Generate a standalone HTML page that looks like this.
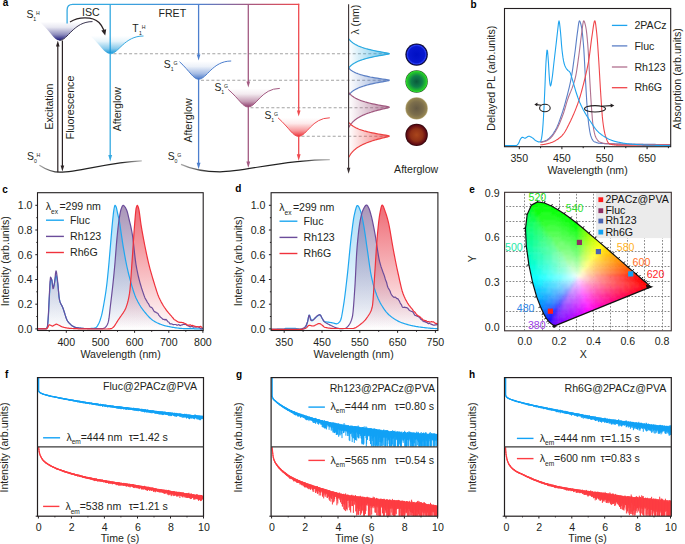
<!DOCTYPE html><html><head><meta charset="utf-8"><style>html,body{margin:0;padding:0;background:#fff;width:685px;height:544px;overflow:hidden}svg{display:block}</style></head><body><svg width="685" height="544" viewBox="0 0 685 544" font-family='"Liberation Sans", sans-serif'>
<rect width="685" height="544" fill="#fff"/>
<defs><linearGradient id="topg" x1="67" y1="0" x2="299" y2="0" gradientUnits="userSpaceOnUse"><stop offset="0" stop-color="#36a9e1"/><stop offset="0.19" stop-color="#36a9e1"/><stop offset="0.567" stop-color="#4f82d0"/><stop offset="0.78" stop-color="#a35a82"/><stop offset="1" stop-color="#ef4a4f"/></linearGradient><linearGradient id="wh1" x1="0" y1="21.6" x2="0" y2="40.4" gradientUnits="userSpaceOnUse"><stop offset="0" stop-color="#1a1878" stop-opacity="0"/><stop offset="0.3" stop-color="#1a1878" stop-opacity="0.1"/><stop offset="0.7" stop-color="#1a1878" stop-opacity="0.5"/><stop offset="1" stop-color="#1a1878" stop-opacity="1"/></linearGradient><linearGradient id="wt1" x1="0" y1="35.8" x2="0" y2="53.8" gradientUnits="userSpaceOnUse"><stop offset="0" stop-color="#1496d8" stop-opacity="0"/><stop offset="0.3" stop-color="#1496d8" stop-opacity="0.1"/><stop offset="0.7" stop-color="#1496d8" stop-opacity="0.5"/><stop offset="1" stop-color="#1496d8" stop-opacity="1"/></linearGradient><linearGradient id="wg1" x1="0" y1="61" x2="0" y2="79.2" gradientUnits="userSpaceOnUse"><stop offset="0" stop-color="#4a78c8" stop-opacity="0"/><stop offset="0.3" stop-color="#4a78c8" stop-opacity="0.1"/><stop offset="0.7" stop-color="#4a78c8" stop-opacity="0.5"/><stop offset="1" stop-color="#4a78c8" stop-opacity="1"/></linearGradient><linearGradient id="wg2" x1="0" y1="88.4" x2="0" y2="107" gradientUnits="userSpaceOnUse"><stop offset="0" stop-color="#8e3c6c" stop-opacity="0"/><stop offset="0.3" stop-color="#8e3c6c" stop-opacity="0.1"/><stop offset="0.7" stop-color="#8e3c6c" stop-opacity="0.5"/><stop offset="1" stop-color="#8e3c6c" stop-opacity="1"/></linearGradient><linearGradient id="wg3" x1="0" y1="117.8" x2="0" y2="136.4" gradientUnits="userSpaceOnUse"><stop offset="0" stop-color="#ee3238" stop-opacity="0"/><stop offset="0.3" stop-color="#ee3238" stop-opacity="0.1"/><stop offset="0.7" stop-color="#ee3238" stop-opacity="0.5"/><stop offset="1" stop-color="#ee3238" stop-opacity="1"/></linearGradient><linearGradient id="s0g" x1="0" y1="0" x2="1" y2="0"><stop offset="0" stop-color="#aaa"/><stop offset="0.2" stop-color="#222"/><stop offset="0.8" stop-color="#222"/><stop offset="1" stop-color="#bbb"/></linearGradient><linearGradient id="p1" x1="348.8" y1="0" x2="389.40000000000003" y2="0" gradientUnits="userSpaceOnUse"><stop offset="0" stop-color="#29a9e0" stop-opacity="0"/><stop offset="1" stop-color="#29a9e0" stop-opacity="0.75"/></linearGradient><linearGradient id="p2" x1="348.8" y1="0" x2="389.40000000000003" y2="0" gradientUnits="userSpaceOnUse"><stop offset="0" stop-color="#5b7fc4" stop-opacity="0"/><stop offset="1" stop-color="#5b7fc4" stop-opacity="0.75"/></linearGradient><linearGradient id="p3" x1="348.8" y1="0" x2="389.40000000000003" y2="0" gradientUnits="userSpaceOnUse"><stop offset="0" stop-color="#a0587f" stop-opacity="0"/><stop offset="1" stop-color="#a0587f" stop-opacity="0.75"/></linearGradient><linearGradient id="p4" x1="348.8" y1="0" x2="389.40000000000003" y2="0" gradientUnits="userSpaceOnUse"><stop offset="0" stop-color="#ed4040" stop-opacity="0"/><stop offset="1" stop-color="#ed4040" stop-opacity="0.75"/></linearGradient><radialGradient id="cb"><stop offset="0" stop-color="#0010c4"/><stop offset="0.72" stop-color="#0818d0"/><stop offset="0.84" stop-color="#2a40f2"/><stop offset="0.9" stop-color="#12127a"/><stop offset="1" stop-color="#020210"/></radialGradient><radialGradient id="cg"><stop offset="0" stop-color="#0a5a3c"/><stop offset="0.5" stop-color="#10804a"/><stop offset="0.84" stop-color="#22c42c"/><stop offset="0.92" stop-color="#2ed62e"/><stop offset="1" stop-color="#184a18"/></radialGradient><radialGradient id="co"><stop offset="0" stop-color="#655a44"/><stop offset="0.6" stop-color="#7c6e4c"/><stop offset="0.9" stop-color="#948452"/><stop offset="1" stop-color="#c0b284"/></radialGradient><radialGradient id="cr"><stop offset="0" stop-color="#aa461c"/><stop offset="0.55" stop-color="#903016"/><stop offset="0.85" stop-color="#620c14"/><stop offset="1" stop-color="#2a0408"/></radialGradient><linearGradient id="gcFL" x1="0" y1="205.3" x2="0" y2="328.9" gradientUnits="userSpaceOnUse"><stop offset="0" stop-color="#5cbcf0" stop-opacity="0.5"/><stop offset="1" stop-color="#5cbcf0" stop-opacity="0"/></linearGradient><linearGradient id="gcRH" x1="0" y1="205.3" x2="0" y2="328.9" gradientUnits="userSpaceOnUse"><stop offset="0" stop-color="#7a5c92" stop-opacity="0.65"/><stop offset="1" stop-color="#7a5c92" stop-opacity="0"/></linearGradient><linearGradient id="gcR6" x1="0" y1="205.3" x2="0" y2="328.9" gradientUnits="userSpaceOnUse"><stop offset="0" stop-color="#e8303e" stop-opacity="0.72"/><stop offset="1" stop-color="#e8303e" stop-opacity="0"/></linearGradient><linearGradient id="gdFL" x1="0" y1="205.3" x2="0" y2="328.9" gradientUnits="userSpaceOnUse"><stop offset="0" stop-color="#5cbcf0" stop-opacity="0.5"/><stop offset="1" stop-color="#5cbcf0" stop-opacity="0"/></linearGradient><linearGradient id="gdRH" x1="0" y1="205.3" x2="0" y2="328.9" gradientUnits="userSpaceOnUse"><stop offset="0" stop-color="#7a5c92" stop-opacity="0.65"/><stop offset="1" stop-color="#7a5c92" stop-opacity="0"/></linearGradient><linearGradient id="gdR6" x1="0" y1="205.3" x2="0" y2="328.9" gradientUnits="userSpaceOnUse"><stop offset="0" stop-color="#e8303e" stop-opacity="0.72"/><stop offset="1" stop-color="#e8303e" stop-opacity="0"/></linearGradient><clipPath id="locclip"><path d="M554.7 325.9 L554.7 325.9 L554.6 325.9 L554.5 325.9 L554.2 325.8 L554.1 325.7 L553.8 325.6 L553.5 325.3 L553 325 L552.5 324.5 L551.7 324 L550.7 323.2 L549.5 322.2 L548.1 320.6 L546.1 318 L543.6 313.6 L540.5 306.7 L536.6 296.6 L532.6 282.5 L528.9 264.9 L526.3 246.1 L525.5 228.6 L527.2 214.4 L531.5 205.1 L537.6 201.9 L544.4 203 L551.4 206 L557.9 209.7 L564.2 213.8 L570.4 218.2 L576.6 223 L582.7 228 L588.8 233.2 L594.9 238.4 L601 243.6 L607 248.8 L612.7 253.8 L618.3 258.6 L623.5 263.1 L628.2 267.3 L632.4 270.9 L636 274 L639 276.6 L641.5 278.8 L643.4 280.5 L645 281.8 L646.3 282.9 L648.2 284.6 L649.4 285.6 L650 286.2 L650.6 286.7 L650.9 286.9Z"/></clipPath><filter id="blur1" x="-5%" y="-5%" width="110%" height="110%"><feGaussianBlur stdDeviation="1.0"/></filter></defs>
<text x="2.8" y="6.3" font-size="10" text-anchor="start" fill="#000" font-weight="bold">a</text>
<line x1="113.5" y1="53.8" x2="388.5" y2="53.8" stroke="#a3a3a3" stroke-width="1.1" stroke-dasharray="3 2.2"/>
<line x1="201.0" y1="80.2" x2="388.5" y2="80.2" stroke="#a3a3a3" stroke-width="1.1" stroke-dasharray="3 2.2"/>
<line x1="250.5" y1="107.8" x2="388.5" y2="107.8" stroke="#a3a3a3" stroke-width="1.1" stroke-dasharray="3 2.2"/>
<line x1="301.5" y1="136.2" x2="388.5" y2="136.2" stroke="#a3a3a3" stroke-width="1.1" stroke-dasharray="3 2.2"/>
<path d="M67.1 23.6V10Q67.1 4.4 72.7 4.4H299.2" fill="none" stroke="url(#topg)" stroke-width="1.3"/>
<line x1="110.2" y1="4.4" x2="110.2" y2="156" stroke="#36a9e1" stroke-width="1.3"/>
<path d="M108.3 155L112.1 155L110.2 161.5Z" fill="#36a9e1"/>
<line x1="198.6" y1="4.4" x2="198.6" y2="55" stroke="#4d7fce" stroke-width="1.3"/>
<path d="M196.8 54.5L200.4 54.5L198.6 60.5Z" fill="#4d7fce"/>
<line x1="198.6" y1="78" x2="198.6" y2="164" stroke="#4d7fce" stroke-width="1.3"/>
<path d="M196.7 162.7L200.5 162.7L198.6 169.2Z" fill="#4d7fce"/>
<line x1="248.3" y1="4.4" x2="248.3" y2="82" stroke="#a35a82" stroke-width="1.3"/>
<path d="M246.5 81.5L250.1 81.5L248.3 87.5Z" fill="#a35a82"/>
<line x1="248.3" y1="106" x2="248.3" y2="162.5" stroke="#a35a82" stroke-width="1.3"/>
<path d="M246.4 161.4L250.2 161.4L248.3 167.9Z" fill="#a35a82"/>
<line x1="298.7" y1="3.8" x2="298.7" y2="111" stroke="#ef4a4f" stroke-width="1.3"/>
<path d="M296.9 110.4L300.5 110.4L298.7 116.4Z" fill="#ef4a4f"/>
<line x1="298.7" y1="135.5" x2="298.7" y2="155.5" stroke="#ef4a4f" stroke-width="1.3"/>
<path d="M296.8 154.3L300.6 154.3L298.7 160.8Z" fill="#ef4a4f"/>
<path d="M40.3 22.3 C50.9 32.3 54.1 40.4 59.5 40.4 C67.8 40.4 73.4 21.6 92.5 21.6Z" fill="url(#wh1)"/>
<path d="M59.5 40.4 C67.8 40.4 73.4 21.6 92.5 21.6" fill="none" stroke="#3a3550" stroke-width="1"/>
<path d="M90 35.8 C101.1 45.7 104.5 53.8 110.2 53.8 C118.5 53.8 124.2 36 143.5 36Z" fill="url(#wt1)"/>
<path d="M110.2 53.8 C118.5 53.8 124.2 36 143.5 36" fill="none" stroke="#36a9e1" stroke-width="1"/>
<path d="M179.5 61.7 C190 71.3 193.3 79.2 198.6 79.2 C206.8 79.2 212.3 61 231.2 61Z" fill="url(#wg1)"/>
<path d="M179.5 61.7 C190 71.3 193.3 79.2 198.6 79.2 C206.8 79.2 212.3 61 231.2 61" fill="none" stroke="#4d7fce" stroke-width="1"/>
<path d="M228.2 89.4 C239.3 99.1 242.7 107 248.3 107 C256.2 107 261.5 88.4 279.8 88.4Z" fill="url(#wg2)"/>
<path d="M228.2 89.4 C239.3 99.1 242.7 107 248.3 107 C256.2 107 261.5 88.4 279.8 88.4" fill="none" stroke="#a35a82" stroke-width="1"/>
<path d="M278 117.8 C289.4 128 292.9 136.4 298.7 136.4 C306.5 136.4 311.8 117.8 329.8 117.8Z" fill="url(#wg3)"/>
<path d="M278 117.8 C289.4 128 292.9 136.4 298.7 136.4 C306.5 136.4 311.8 117.8 329.8 117.8" fill="none" stroke="#ef4a4f" stroke-width="1"/>
<path d="M39.4 165.2 C46 169.5 52 172.2 60 172.2 C80 172.2 108 162 141.8 160.8" fill="none" stroke="url(#s0g)" stroke-width="1.2"/>
<path d="M181 164.4 C192 169.5 205 171.8 220 171.8 C245 171.8 280 160 329.8 159.6" fill="none" stroke="url(#s0g)" stroke-width="1.2"/>
<line x1="57.8" y1="172.3" x2="57.8" y2="46" stroke="#2b2224" stroke-width="1.2"/>
<path d="M56 46.6L59.6 46.6L57.8 40.6Z" fill="#2b2224"/>
<line x1="62.4" y1="40.6" x2="62.4" y2="166" stroke="#2b2224" stroke-width="1.2"/>
<path d="M60.6 165.6L64.2 165.6L62.4 171.6Z" fill="#2b2224"/>
<path d="M70 22 C78 17 92 16 99 22.5 C101.5 25 103 28 103.8 30" fill="none" stroke="#2b2224" stroke-width="1.3"/>
<path d="M101.3 30.6 L106.2 29.2 L105.2 35.6 Z" fill="#2b2224"/>
<text x="26.4" y="18.4" font-size="10.4" text-anchor="start" fill="#231f20">S</text>
<text x="33.3" y="21.2" font-size="5.2" text-anchor="start" fill="#231f20">1</text>
<text x="36" y="15.1" font-size="5.2" text-anchor="start" fill="#231f20">H</text>
<text x="132.2" y="31.9" font-size="10.4" text-anchor="start" fill="#231f20">T</text>
<text x="139.1" y="34.7" font-size="5.2" text-anchor="start" fill="#231f20">1</text>
<text x="141.8" y="28.6" font-size="5.2" text-anchor="start" fill="#231f20">H</text>
<text x="163.8" y="68.3" font-size="10.4" text-anchor="start" fill="#231f20">S</text>
<text x="170.7" y="71.1" font-size="5.2" text-anchor="start" fill="#231f20">1</text>
<text x="173.4" y="65" font-size="5.2" text-anchor="start" fill="#231f20">G</text>
<text x="214.4" y="91" font-size="10.4" text-anchor="start" fill="#231f20">S</text>
<text x="221.3" y="93.8" font-size="5.2" text-anchor="start" fill="#231f20">1</text>
<text x="224" y="87.7" font-size="5.2" text-anchor="start" fill="#231f20">G</text>
<text x="264.4" y="119" font-size="10.4" text-anchor="start" fill="#231f20">S</text>
<text x="271.3" y="121.8" font-size="5.2" text-anchor="start" fill="#231f20">1</text>
<text x="274" y="115.7" font-size="5.2" text-anchor="start" fill="#231f20">G</text>
<text x="27" y="160.3" font-size="10.4" text-anchor="start" fill="#231f20">S</text>
<text x="33.9" y="163.1" font-size="5.2" text-anchor="start" fill="#231f20">0</text>
<text x="36.6" y="157" font-size="5.2" text-anchor="start" fill="#231f20">H</text>
<text x="167.7" y="159.8" font-size="10.4" text-anchor="start" fill="#231f20">S</text>
<text x="174.6" y="162.6" font-size="5.2" text-anchor="start" fill="#231f20">0</text>
<text x="177.3" y="156.5" font-size="5.2" text-anchor="start" fill="#231f20">G</text>
<text x="82" y="16.2" font-size="10.6" text-anchor="start" fill="#231f20">ISC</text>
<text x="158.5" y="16.6" font-size="10.6" text-anchor="start" fill="#231f20">FRET</text>
<text x="53" y="106.6" font-size="10.6" text-anchor="middle" fill="#231f20" transform="rotate(-90 53 106.6)">Excitation</text>
<text x="73.8" y="107.5" font-size="10.6" text-anchor="middle" fill="#231f20" transform="rotate(-90 73.8 107.5)">Fluorescence</text>
<text x="121" y="109.2" font-size="10.6" text-anchor="middle" fill="#231f20" transform="rotate(-90 121 109.2)">Afterglow</text>
<text x="192" y="120.5" font-size="10.6" text-anchor="middle" fill="#231f20" transform="rotate(-90 192 120.5)">Afterglow</text>
<text x="359.5" y="19.6" font-size="10.6" text-anchor="middle" fill="#231f20" transform="rotate(-90 359.5 19.6)">λ (nm)</text>
<text x="416.2" y="173.4" font-size="10.6" text-anchor="middle" fill="#231f20">Afterglow</text>
<path d="M348.8 38.9 L349.1 39.3 L349.4 39.7 L349.8 40.1 L350.1 40.5 L350.5 40.9 L350.9 41.3 L351.4 41.7 L351.9 42.1 L352.4 42.5 L352.9 42.9 L353.5 43.3 L354.1 43.7 L354.7 44.1 L355.4 44.5 L356.2 44.9 L357 45.3 L357.8 45.7 L358.7 46.1 L359.7 46.5 L360.7 46.9 L361.8 47.3 L363 47.7 L364.2 48.1 L365.5 48.5 L367 48.9 L368.5 49.3 L370.1 49.7 L371.8 50.1 L373.6 50.5 L375.5 50.9 L377.5 51.3 L379.7 51.7 L381.9 52.1 L384.3 52.5 L386.5 52.9 L388.5 53.3 L389.4 53.7 L388.5 54.1 L386.4 54.5 L384.1 54.9 L381.7 55.3 L379.3 55.7 L377.1 56.1 L375 56.5 L373.1 56.9 L371.2 57.3 L369.5 57.7 L367.8 58.1 L366.3 58.5 L364.9 58.9 L363.5 59.3 L362.3 59.7 L361.1 60.1 L360 60.5 L359 60.9 L358 61.3 L357.1 61.7 L356.3 62.1 L355.5 62.5 L354.8 62.9 L354.1 63.3 L353.5 63.7 L352.9 64.1 L352.3 64.5 L351.8 64.9 L351.3 65.3 L350.8 65.7 L350.4 66.1 L350 66.5 L349.6 66.9 L349.3 67.3 L349 67.7Z" fill="url(#p1)"/>
<polyline points="348.8,38.9 349.1,39.3 349.4,39.7 349.8,40.1 350.1,40.5 350.5,40.9 350.9,41.3 351.4,41.7 351.9,42.1 352.4,42.5 352.9,42.9 353.5,43.3 354.1,43.7 354.7,44.1 355.4,44.5 356.2,44.9 357,45.3 357.8,45.7 358.7,46.1 359.7,46.5 360.7,46.9 361.8,47.3 363,47.7 364.2,48.1 365.5,48.5 367,48.9 368.5,49.3 370.1,49.7 371.8,50.1 373.6,50.5 375.5,50.9 377.5,51.3 379.7,51.7 381.9,52.1 384.3,52.5 386.5,52.9 388.5,53.3 389.4,53.7 388.5,54.1 386.4,54.5 384.1,54.9 381.7,55.3 379.3,55.7 377.1,56.1 375,56.5 373.1,56.9 371.2,57.3 369.5,57.7 367.8,58.1 366.3,58.5 364.9,58.9 363.5,59.3 362.3,59.7 361.1,60.1 360,60.5 359,60.9 358,61.3 357.1,61.7 356.3,62.1 355.5,62.5 354.8,62.9 354.1,63.3 353.5,63.7 352.9,64.1 352.3,64.5 351.8,64.9 351.3,65.3 350.8,65.7 350.4,66.1 350,66.5 349.6,66.9 349.3,67.3 349,67.7" fill="none" stroke="#29a9e0" stroke-width="1.2" stroke-linejoin="round"/>
<path d="M348.8 68.2 L349.2 68.6 L349.6 69 L350 69.4 L350.5 69.8 L351 70.2 L351.6 70.6 L352.2 71 L352.9 71.4 L353.6 71.8 L354.4 72.2 L355.2 72.6 L356.1 73 L357.1 73.4 L358.1 73.8 L359.3 74.2 L360.5 74.6 L361.9 75 L363.3 75.4 L364.9 75.8 L366.6 76.2 L368.4 76.6 L370.3 77 L372.5 77.4 L374.7 77.8 L377.2 78.2 L379.8 78.6 L382.5 79 L385.3 79.4 L387.8 79.8 L389.3 80.2 L388.9 80.6 L387.1 81 L384.8 81.4 L382.5 81.8 L380.2 82.2 L378 82.6 L375.9 83 L374 83.4 L372.1 83.8 L370.4 84.2 L368.8 84.6 L367.2 85 L365.8 85.4 L364.4 85.8 L363.2 86.2 L362 86.6 L360.9 87 L359.8 87.4 L358.8 87.8 L357.9 88.2 L357.1 88.6 L356.3 89 L355.5 89.4 L354.8 89.8 L354.1 90.2 L353.5 90.6 L352.9 91 L352.4 91.4 L351.9 91.8 L351.4 92.2 L351 92.6 L350.5 93 L350.1 93.4 L349.8 93.8 L349.4 94.2 L349.1 94.6 L348.8 95Z" fill="url(#p2)"/>
<polyline points="348.8,68.2 349.2,68.6 349.6,69 350,69.4 350.5,69.8 351,70.2 351.6,70.6 352.2,71 352.9,71.4 353.6,71.8 354.4,72.2 355.2,72.6 356.1,73 357.1,73.4 358.1,73.8 359.3,74.2 360.5,74.6 361.9,75 363.3,75.4 364.9,75.8 366.6,76.2 368.4,76.6 370.3,77 372.5,77.4 374.7,77.8 377.2,78.2 379.8,78.6 382.5,79 385.3,79.4 387.8,79.8 389.3,80.2 388.9,80.6 387.1,81 384.8,81.4 382.5,81.8 380.2,82.2 378,82.6 375.9,83 374,83.4 372.1,83.8 370.4,84.2 368.8,84.6 367.2,85 365.8,85.4 364.4,85.8 363.2,86.2 362,86.6 360.9,87 359.8,87.4 358.8,87.8 357.9,88.2 357.1,88.6 356.3,89 355.5,89.4 354.8,89.8 354.1,90.2 353.5,90.6 352.9,91 352.4,91.4 351.9,91.8 351.4,92.2 351,92.6 350.5,93 350.1,93.4 349.8,93.8 349.4,94.2 349.1,94.6 348.8,95" fill="none" stroke="#5b7fc4" stroke-width="1.2" stroke-linejoin="round"/>
<path d="M348.8 92.6 L349.1 93 L349.4 93.4 L349.8 93.8 L350.2 94.2 L350.5 94.6 L351 95 L351.4 95.4 L351.9 95.8 L352.4 96.2 L353 96.6 L353.6 97 L354.2 97.4 L354.9 97.8 L355.6 98.2 L356.4 98.6 L357.2 99 L358 99.4 L359 99.8 L360 100.2 L361 100.6 L362.2 101 L363.4 101.4 L364.7 101.8 L366 102.2 L367.5 102.6 L369.1 103 L370.7 103.4 L372.5 103.8 L374.4 104.2 L376.4 104.6 L378.5 105 L380.7 105.4 L383 105.8 L385.4 106.2 L387.6 106.6 L389.2 107 L389.2 107.4 L388.1 107.8 L386.5 108.2 L384.7 108.6 L382.9 109 L381.2 109.4 L379.6 109.8 L378 110.2 L376.4 110.6 L375 111 L373.6 111.4 L372.2 111.8 L371 112.2 L369.7 112.6 L368.6 113 L367.4 113.4 L366.4 113.8 L365.4 114.2 L364.4 114.6 L363.5 115 L362.6 115.4 L361.8 115.8 L361 116.2 L360.2 116.6 L359.5 117 L358.8 117.4 L358.1 117.8 L357.5 118.2 L356.9 118.6 L356.3 119 L355.7 119.4 L355.2 119.8 L354.7 120.2 L354.2 120.6 L353.8 121 L353.3 121.4 L352.9 121.8 L352.5 122.2 L352.2 122.6 L351.8 123 L351.5 123.4 L351.1 123.8 L350.8 124.2 L350.5 124.6 L350.2 125 L350 125.4 L349.7 125.8 L349.5 126.2 L349.2 126.6 L349 127 L348.8 127.4Z" fill="url(#p3)"/>
<polyline points="348.8,92.6 349.1,93 349.4,93.4 349.8,93.8 350.2,94.2 350.5,94.6 351,95 351.4,95.4 351.9,95.8 352.4,96.2 353,96.6 353.6,97 354.2,97.4 354.9,97.8 355.6,98.2 356.4,98.6 357.2,99 358,99.4 359,99.8 360,100.2 361,100.6 362.2,101 363.4,101.4 364.7,101.8 366,102.2 367.5,102.6 369.1,103 370.7,103.4 372.5,103.8 374.4,104.2 376.4,104.6 378.5,105 380.7,105.4 383,105.8 385.4,106.2 387.6,106.6 389.2,107 389.2,107.4 388.1,107.8 386.5,108.2 384.7,108.6 382.9,109 381.2,109.4 379.6,109.8 378,110.2 376.4,110.6 375,111 373.6,111.4 372.2,111.8 371,112.2 369.7,112.6 368.6,113 367.4,113.4 366.4,113.8 365.4,114.2 364.4,114.6 363.5,115 362.6,115.4 361.8,115.8 361,116.2 360.2,116.6 359.5,117 358.8,117.4 358.1,117.8 357.5,118.2 356.9,118.6 356.3,119 355.7,119.4 355.2,119.8 354.7,120.2 354.2,120.6 353.8,121 353.3,121.4 352.9,121.8 352.5,122.2 352.2,122.6 351.8,123 351.5,123.4 351.1,123.8 350.8,124.2 350.5,124.6 350.2,125 350,125.4 349.7,125.8 349.5,126.2 349.2,126.6 349,127 348.8,127.4" fill="none" stroke="#a0587f" stroke-width="1.2" stroke-linejoin="round"/>
<path d="M348.8 122.4 L349.1 122.8 L349.5 123.2 L349.9 123.6 L350.3 124 L350.7 124.4 L351.2 124.8 L351.7 125.2 L352.2 125.6 L352.8 126 L353.4 126.4 L354.1 126.8 L354.8 127.2 L355.5 127.6 L356.3 128 L357.2 128.4 L358.1 128.8 L359.1 129.2 L360.2 129.6 L361.4 130 L362.6 130.4 L363.9 130.8 L365.4 131.2 L366.9 131.6 L368.5 132 L370.2 132.4 L372.1 132.8 L374.1 133.2 L376.2 133.6 L378.4 134 L380.8 134.4 L383.2 134.8 L385.7 135.2 L388 135.6 L389.3 136 L389 136.4 L387.8 136.8 L386.2 137.2 L384.5 137.6 L382.8 138 L381.1 138.4 L379.6 138.8 L378 139.2 L376.6 139.6 L375.1 140 L373.8 140.4 L372.5 140.8 L371.3 141.2 L370.1 141.6 L368.9 142 L367.9 142.4 L366.8 142.8 L365.8 143.2 L364.9 143.6 L364 144 L363.1 144.4 L362.3 144.8 L361.5 145.2 L360.7 145.6 L360 146 L359.3 146.4 L358.7 146.8 L358 147.2 L357.4 147.6 L356.8 148 L356.3 148.4 L355.8 148.8 L355.3 149.2 L354.8 149.6 L354.3 150 L353.9 150.4 L353.5 150.8 L353.1 151.2 L352.7 151.6 L352.3 152 L352 152.4 L351.6 152.8 L351.3 153.2 L351 153.6 L350.7 154 L350.4 154.4 L350.2 154.8 L349.9 155.2 L349.7 155.6 L349.4 156 L349.2 156.4 L349 156.8 L348.8 157.2Z" fill="url(#p4)"/>
<polyline points="348.8,122.4 349.1,122.8 349.5,123.2 349.9,123.6 350.3,124 350.7,124.4 351.2,124.8 351.7,125.2 352.2,125.6 352.8,126 353.4,126.4 354.1,126.8 354.8,127.2 355.5,127.6 356.3,128 357.2,128.4 358.1,128.8 359.1,129.2 360.2,129.6 361.4,130 362.6,130.4 363.9,130.8 365.4,131.2 366.9,131.6 368.5,132 370.2,132.4 372.1,132.8 374.1,133.2 376.2,133.6 378.4,134 380.8,134.4 383.2,134.8 385.7,135.2 388,135.6 389.3,136 389,136.4 387.8,136.8 386.2,137.2 384.5,137.6 382.8,138 381.1,138.4 379.6,138.8 378,139.2 376.6,139.6 375.1,140 373.8,140.4 372.5,140.8 371.3,141.2 370.1,141.6 368.9,142 367.9,142.4 366.8,142.8 365.8,143.2 364.9,143.6 364,144 363.1,144.4 362.3,144.8 361.5,145.2 360.7,145.6 360,146 359.3,146.4 358.7,146.8 358,147.2 357.4,147.6 356.8,148 356.3,148.4 355.8,148.8 355.3,149.2 354.8,149.6 354.3,150 353.9,150.4 353.5,150.8 353.1,151.2 352.7,151.6 352.3,152 352,152.4 351.6,152.8 351.3,153.2 351,153.6 350.7,154 350.4,154.4 350.2,154.8 349.9,155.2 349.7,155.6 349.4,156 349.2,156.4 349,156.8 348.8,157.2" fill="none" stroke="#ed4040" stroke-width="1.2" stroke-linejoin="round"/>
<line x1="348.6" y1="4.2" x2="348.6" y2="168" stroke="#3a3032" stroke-width="1.1"/>
<path d="M346.8 167.8L350.4 167.8L348.6 173.8Z" fill="#3a3032"/>
<circle cx="416.6" cy="54.6" r="11.2" fill="url(#cb)"/>
<circle cx="416.6" cy="81.5" r="11.2" fill="url(#cg)"/>
<circle cx="416.6" cy="108.4" r="11.2" fill="url(#co)"/>
<circle cx="416.6" cy="134.9" r="11.2" fill="url(#cr)"/>
<text x="470.5" y="8.3" font-size="10" text-anchor="start" fill="#000" font-weight="bold">b</text>
<polyline points="540.3,142 540.8,142 541.3,141.9 541.8,141.9 542.3,141.8 542.8,141.6 543.3,141.5 543.8,141.3 544.3,141.2 544.8,141 545.3,140.8 545.8,140.6 546.3,140.4 546.8,140.1 547.3,139.8 547.8,139.4 548.3,139 548.8,138.6 549.3,138.2 549.8,137.7 550.3,137.2 550.8,136.7 551.3,136.1 551.8,135.5 552.3,134.9 552.8,134.2 553.3,133.5 553.8,132.7 554.3,131.9 554.8,131.1 555.3,130.2 555.8,129.4 556.3,128.4 556.8,127.4 557.3,126.3 557.8,125.1 558.3,123.9 558.8,122.6 559.3,121.3 559.8,119.9 560.3,118.5 560.8,117 561.3,115.6 561.8,114.1 562.3,112.6 562.8,111.1 563.3,109.5 563.8,107.8 564.3,106.1 564.8,104.4 565.3,102.6 565.8,100.7 566.3,98.9 566.8,97 567.3,95.1 567.8,93.2 568.3,91.2 568.8,89.2 569.3,87.1 569.8,84.9 570.3,82.6 570.8,80.1 571.3,77.5 571.8,74.7 572.3,71.6 572.8,68.3 573.3,64.7 573.8,61 574.3,57.3 574.8,53.5 575.3,49.7 575.8,45.6 576.3,41.4 576.8,37.2 577.3,33.4 577.8,29.8 578.3,25.9 578.8,22.6 579.3,20.9 579.8,21.1 580.3,22.3 580.8,24 581.3,26.1 581.8,28.6 582.3,32.3 582.8,37.1 583.3,42.7 583.8,49.1 584.3,57.5 584.8,67 585.3,76.5 585.8,85.2 586.3,94 586.8,102.2 587.3,109 587.8,115.2 588.3,120.7 588.8,125 589.3,128.4 589.8,131.5 590.3,134 590.8,135.9 591.3,137.3 591.8,138.4 592.3,139.4 592.8,140.2 593.3,140.9 593.8,141.4 594.3,141.7 594.8,141.9 595.3,142.1 595.8,142.3 596.3,142.5 596.8,142.7 597.3,142.8 597.8,143 598.3,143.1 598.8,143.2 599.3,143.2 599.8,143.3 600.3,143.3 600.8,143.4 601.3,143.4 601.8,143.4 602.3,143.4 602.8,143.5 603.3,143.5 603.8,143.5 604.3,143.6 604.8,143.6 605.3,143.6 605.8,143.6 606.3,143.7 606.8,143.7 607.3,143.7 607.8,143.7 608.3,143.7 608.8,143.8 609.3,143.8 609.8,143.8 610.3,143.8 610.8,143.8 611.3,143.8 611.8,143.9 612.3,143.9 612.8,143.9 613.3,143.9 613.8,143.9 614.3,143.9 614.8,143.9 615.3,144 615.8,144 616.3,144 616.8,144 617.3,144 617.8,144 618.3,144 618.8,144 619.3,144 619.8,144.1 620.3,144.1 620.8,144.1 621.3,144.1 621.8,144.1 622.3,144.1 622.8,144.1 623.3,144.1 623.8,144.1 624.3,144.1 624.8,144.1 625.3,144.1 625.8,144.1 626.3,144.2 626.8,144.2 627.3,144.2 627.8,144.2 628.3,144.2 628.8,144.2 629.3,144.2 629.8,144.2 630.3,144.2 630.8,144.2 631.3,144.2 631.8,144.2 632.3,144.2 632.8,144.2 633.3,144.2 633.8,144.2 634.3,144.3 634.8,144.3 635.3,144.3 635.8,144.3 636.3,144.3 636.8,144.3 637.3,144.3 637.8,144.3 638.3,144.3 638.8,144.3 639.3,144.3 639.8,144.3 640.3,144.3 640.8,144.3 641.3,144.3 641.8,144.3 642.3,144.3 642.8,144.3 643.3,144.3 643.8,144.4 644.3,144.4 644.8,144.4 645.3,144.4 645.8,144.4 646.3,144.4 646.8,144.4 647.3,144.4 647.8,144.4 648.3,144.4 648.8,144.4 649.3,144.4 649.8,144.4 650.3,144.4 650.8,144.4 651.3,144.4 651.8,144.4 652.3,144.4 652.8,144.4 653.3,144.4 653.8,144.4 654.3,144.4 654.8,144.4 655.3,144.4 655.8,144.5 656.3,144.5 656.8,144.5 657.3,144.5 657.8,144.5 658.3,144.5 658.8,144.5 659.3,144.5 659.8,144.5 660.3,144.5 660.8,144.5 661.3,144.5 661.8,144.5 662.3,144.5 662.8,144.5 663.3,144.5 663.8,144.5 664.3,144.5 664.8,144.5 665.3,144.5 665.8,144.5 666.3,144.5 666.8,144.5 667.3,144.5 667.8,144.5 668.3,144.5 668.8,144.5 669.3,144.5 669.8,144.5 670.3,144.5" fill="none" stroke="#5b7fc6" stroke-width="1.1" stroke-linejoin="round"/>
<polyline points="540.3,142.2 540.8,142.2 541.3,142.1 541.8,142.1 542.3,142 542.8,141.9 543.3,141.8 543.8,141.7 544.3,141.5 544.8,141.4 545.3,141.2 545.8,141.1 546.3,140.9 546.8,140.7 547.3,140.4 547.8,140.1 548.3,139.8 548.8,139.4 549.3,139.1 549.8,138.7 550.3,138.2 550.8,137.8 551.3,137.2 551.8,136.7 552.3,136.1 552.8,135.4 553.3,134.7 553.8,134 554.3,133.2 554.8,132.5 555.3,131.7 555.8,130.8 556.3,130 556.8,129.1 557.3,128.2 557.8,127.2 558.3,126.1 558.8,125 559.3,123.9 559.8,122.8 560.3,121.6 560.8,120.3 561.3,119.1 561.8,117.8 562.3,116.5 562.8,115.1 563.3,113.8 563.8,112.3 564.3,110.7 564.8,109 565.3,107.3 565.8,105.6 566.3,103.9 566.8,102.2 567.3,100.6 567.8,99.1 568.3,97.7 568.8,96.3 569.3,95 569.8,93.8 570.3,92.6 570.8,91.4 571.3,90.1 571.8,88.9 572.3,87.6 572.8,86.2 573.3,84.8 573.8,83.2 574.3,81.6 574.8,79.8 575.3,77.8 575.8,75.6 576.3,73 576.8,70 577.3,66.7 577.8,63.1 578.3,59.4 578.8,55.7 579.3,52 579.8,48.1 580.3,44 580.8,39.7 581.3,35.7 581.8,32 582.3,28.3 582.8,24.4 583.3,21.6 583.8,20.8 584.3,21.5 584.8,22.9 585.3,24.8 585.8,27 586.3,30 586.8,34.1 587.3,39.3 587.8,45 588.3,52.2 588.8,61.2 589.3,70.8 589.8,80 590.3,88.7 590.8,97.3 591.3,105 591.8,111.9 592.3,118.3 592.8,123.5 593.3,127 593.8,129.9 594.3,132.4 594.8,134.4 595.3,136 595.8,137.2 596.3,138.2 596.8,139 597.3,139.8 597.8,140.5 598.3,141 598.8,141.4 599.3,141.7 599.8,141.9 600.3,142.2 600.8,142.4 601.3,142.6 601.8,142.8 602.3,143 602.8,143.1 603.3,143.2 603.8,143.3 604.3,143.4 604.8,143.5 605.3,143.5 605.8,143.6 606.3,143.6 606.8,143.6 607.3,143.6 607.8,143.7 608.3,143.7 608.8,143.7 609.3,143.8 609.8,143.8 610.3,143.8 610.8,143.8 611.3,143.9 611.8,143.9 612.3,143.9 612.8,143.9 613.3,143.9 613.8,144 614.3,144 614.8,144 615.3,144 615.8,144 616.3,144 616.8,144.1 617.3,144.1 617.8,144.1 618.3,144.1 618.8,144.1 619.3,144.1 619.8,144.1 620.3,144.1 620.8,144.2 621.3,144.2 621.8,144.2 622.3,144.2 622.8,144.2 623.3,144.2 623.8,144.2 624.3,144.2 624.8,144.2 625.3,144.2 625.8,144.2 626.3,144.3 626.8,144.3 627.3,144.3 627.8,144.3 628.3,144.3 628.8,144.3 629.3,144.3 629.8,144.3 630.3,144.3 630.8,144.3 631.3,144.3 631.8,144.3 632.3,144.3 632.8,144.3 633.3,144.3 633.8,144.3 634.3,144.4 634.8,144.4 635.3,144.4 635.8,144.4 636.3,144.4 636.8,144.4 637.3,144.4 637.8,144.4 638.3,144.4 638.8,144.4 639.3,144.4 639.8,144.4 640.3,144.4 640.8,144.4 641.3,144.4 641.8,144.4 642.3,144.4 642.8,144.4 643.3,144.5 643.8,144.5 644.3,144.5 644.8,144.5 645.3,144.5 645.8,144.5 646.3,144.5 646.8,144.5 647.3,144.5 647.8,144.5 648.3,144.5 648.8,144.5 649.3,144.5 649.8,144.5 650.3,144.5 650.8,144.5 651.3,144.5 651.8,144.5 652.3,144.5 652.8,144.5 653.3,144.5 653.8,144.5 654.3,144.5 654.8,144.5 655.3,144.5 655.8,144.6 656.3,144.6 656.8,144.6 657.3,144.6 657.8,144.6 658.3,144.6 658.8,144.6 659.3,144.6 659.8,144.6 660.3,144.6 660.8,144.6 661.3,144.6 661.8,144.6 662.3,144.6 662.8,144.6 663.3,144.6 663.8,144.6 664.3,144.6 664.8,144.6 665.3,144.6 665.8,144.6 666.3,144.6 666.8,144.6 667.3,144.6 667.8,144.6 668.3,144.6 668.8,144.6 669.3,144.6 669.8,144.6 670.3,144.6" fill="none" stroke="#b0708e" stroke-width="1.1" stroke-linejoin="round"/>
<polyline points="540.3,144.8 540.8,144.8 541.3,144.8 541.8,144.7 542.3,144.7 542.8,144.6 543.3,144.5 543.8,144.5 544.3,144.4 544.8,144.3 545.3,144.2 545.8,144.1 546.3,144 546.8,143.8 547.3,143.7 547.8,143.6 548.3,143.5 548.8,143.3 549.3,143.2 549.8,143.1 550.3,142.9 550.8,142.8 551.3,142.6 551.8,142.4 552.3,142.2 552.8,142 553.3,141.7 553.8,141.5 554.3,141.2 554.8,141 555.3,140.7 555.8,140.4 556.3,140.1 556.8,139.8 557.3,139.5 557.8,139.2 558.3,138.8 558.8,138.4 559.3,138 559.8,137.6 560.3,137.2 560.8,136.8 561.3,136.3 561.8,135.8 562.3,135.3 562.8,134.7 563.3,134.1 563.8,133.5 564.3,132.8 564.8,132 565.3,131.2 565.8,130.3 566.3,129.4 566.8,128.5 567.3,127.5 567.8,126.5 568.3,125.5 568.8,124.5 569.3,123.4 569.8,122.4 570.3,121.4 570.8,120.4 571.3,119.3 571.8,118.2 572.3,117.2 572.8,116.1 573.3,114.9 573.8,113.8 574.3,112.6 574.8,111.4 575.3,110.2 575.8,108.9 576.3,107.6 576.8,106.3 577.3,105 577.8,103.6 578.3,102.1 578.8,100.6 579.3,99.1 579.8,97.5 580.3,95.8 580.8,94.1 581.3,92.3 581.8,90.5 582.3,88.6 582.8,86.7 583.3,84.8 583.8,82.8 584.3,80.8 584.8,78.8 585.3,76.8 585.8,74.7 586.3,72.5 586.8,70.3 587.3,67.9 587.8,65.4 588.3,62.8 588.8,60 589.3,56.8 589.8,53 590.3,49 590.8,44.9 591.3,40.9 591.8,37.3 592.3,34 592.8,30.4 593.3,26.9 593.8,23.8 594.3,21.6 594.8,20.8 595.3,22 595.8,25.2 596.3,29.4 596.8,34 597.3,39.4 597.8,46.3 598.3,53.9 598.8,61.5 599.3,69.7 599.8,78.5 600.3,87.1 600.8,95 601.3,102.5 601.8,109.9 602.3,116.4 602.8,121.3 603.3,125 603.8,128.3 604.3,131.1 604.8,133.4 605.3,135.4 605.8,136.9 606.3,138.3 606.8,139.7 607.3,140.9 607.8,142 608.3,142.9 608.8,143.5 609.3,143.9 609.8,144.1 610.3,144.2 610.8,144.3 611.3,144.4 611.8,144.5 612.3,144.6 612.8,144.7 613.3,144.7 613.8,144.8 614.3,144.9 614.8,144.9 615.3,145 615.8,145 616.3,145.1 616.8,145.1 617.3,145.1 617.8,145.1 618.3,145.2 618.8,145.2 619.3,145.2 619.8,145.2 620.3,145.2 620.8,145.2 621.3,145.2 621.8,145.2 622.3,145.2 622.8,145.2 623.3,145.2 623.8,145.2 624.3,145.2 624.8,145.2 625.3,145.2 625.8,145.3 626.3,145.3 626.8,145.3 627.3,145.3 627.8,145.3 628.3,145.3 628.8,145.3 629.3,145.3 629.8,145.3 630.3,145.3 630.8,145.3 631.3,145.3 631.8,145.3 632.3,145.3 632.8,145.3 633.3,145.3 633.8,145.3 634.3,145.3 634.8,145.3 635.3,145.3 635.8,145.3 636.3,145.3 636.8,145.3 637.3,145.3 637.8,145.3 638.3,145.3 638.8,145.3 639.3,145.3 639.8,145.3 640.3,145.3 640.8,145.3 641.3,145.3 641.8,145.3 642.3,145.3 642.8,145.4 643.3,145.4 643.8,145.4 644.3,145.4 644.8,145.4 645.3,145.4 645.8,145.4 646.3,145.4 646.8,145.4 647.3,145.4 647.8,145.4 648.3,145.4 648.8,145.4 649.3,145.4 649.8,145.4 650.3,145.4 650.8,145.4 651.3,145.4 651.8,145.4 652.3,145.4 652.8,145.4 653.3,145.4 653.8,145.4 654.3,145.4 654.8,145.4 655.3,145.4 655.8,145.4 656.3,145.4 656.8,145.4 657.3,145.4 657.8,145.4 658.3,145.4 658.8,145.4 659.3,145.4 659.8,145.4 660.3,145.4 660.8,145.4 661.3,145.4 661.8,145.4 662.3,145.4 662.8,145.4 663.3,145.4 663.8,145.4 664.3,145.4 664.8,145.4 665.3,145.4 665.8,145.4 666.3,145.4 666.8,145.4 667.3,145.4 667.8,145.4 668.3,145.4 668.8,145.4 669.3,145.4 669.8,145.4 670.3,145.4" fill="none" stroke="#f0454a" stroke-width="1.1" stroke-linejoin="round"/>
<polyline points="504.5,145.6 505,145.6 505.5,145.6 506,145.6 506.5,145.6 507,145.6 507.5,145.6 508,145.6 508.5,145.6 509,145.6 509.5,145.6 510,145.6 510.5,145.6 511,145.6 511.5,145.6 512,145.6 512.5,145.6 513,145.6 513.5,145.6 514,145.6 514.5,145.6 515,145.6 515.5,145.6 516,145.6 516.5,145.5 517,145.2 517.5,144.7 518,144.1 518.5,143.5 519,142.6 519.5,141.3 520,139.9 520.5,139 521,138.4 521.5,137.8 522,137.4 522.5,137.3 523,137.4 523.5,137.6 524,137.9 524.5,138.1 525,138.2 525.5,138.1 526,137.8 526.5,137.5 527,137.1 527.5,136.7 528,136.4 528.5,136.2 529,136.2 529.5,136.3 530,136.5 530.5,136.8 531,137 531.5,137.3 532,137.6 532.5,137.9 533,138.3 533.5,138.7 534,139.2 534.5,139.7 535,140.1 535.5,140.5 536,140.8 536.5,141.1 537,141.3 537.5,141.6 538,141.8 538.5,141.9 539,142 539.5,141.9 540,141.6 540.5,141.1 541,140.5 541.5,138.7 542,135.4 542.5,131.1 543,124.8 543.5,117 544,107.6 544.5,96.7 545,85.3 545.5,72.3 546,62 546.5,54.9 547,50.1 547.5,50.8 548,56.5 548.5,63.4 549,72.5 549.5,80 550,84.1 550.5,86 551,84.8 551.5,82.1 552,79 552.5,75.5 553,71.1 553.5,66.5 554,62 554.5,57.8 555,53.5 555.5,49.3 556,45 556.5,40.6 557,36.1 557.5,31.8 558,27.4 558.5,22.9 559,20.8 559.5,22.7 560,27.1 560.5,32 561,37.9 561.5,44.6 562,50 562.5,54.1 563,57.7 563.5,60.7 564,63 564.5,64.6 565,66 565.5,67.1 566,68 566.5,68.8 567,69.4 567.5,70 568,70.5 568.5,70.9 569,71.2 569.5,71.7 570,72.4 570.5,73.6 571,75.1 571.5,76.7 572,78.4 572.5,80 573,81.6 573.5,83.3 574,85.1 574.5,86.9 575,88.7 575.5,90.4 576,92 576.5,93.5 577,95 577.5,96.5 578,97.9 578.5,99.2 579,100.5 579.5,101.8 580,103 580.5,104.1 581,105.2 581.5,106.3 582,107.3 582.5,108.3 583,109.3 583.5,110.2 584,111.1 584.5,112 585,112.9 585.5,113.7 586,114.6 586.5,115.4 587,116.2 587.5,117 588,117.7 588.5,118.5 589,119.2 589.5,120 590,120.8 590.5,121.5 591,122.3 591.5,123.1 592,123.8 592.5,124.6 593,125.4 593.5,126.1 594,126.8 594.5,127.6 595,128.2 595.5,128.9 596,129.5 596.5,130.1 597,130.7 597.5,131.2 598,131.7 598.5,132.2 599,132.6 599.5,133.1 600,133.5 600.5,133.9 601,134.3 601.5,134.7 602,135 602.5,135.4 603,135.7 603.5,136.1 604,136.4 604.5,136.7 605,137 605.5,137.3 606,137.6 606.5,137.9 607,138.1 607.5,138.4 608,138.7 608.5,138.9 609,139.2 609.5,139.4 610,139.6 610.5,139.9 611,140.1 611.5,140.3 612,140.5 612.5,140.6 613,140.8 613.5,141 614,141.1 614.5,141.2 615,141.4 615.5,141.5 616,141.6 616.5,141.7 617,141.9 617.5,142 618,142.1 618.5,142.2 619,142.3 619.5,142.4 620,142.5 620.5,142.6 621,142.7 621.5,142.8 622,142.9 622.5,143 623,143.1 623.5,143.2 624,143.2 624.5,143.3 625,143.4 625.5,143.5 626,143.5 626.5,143.6 627,143.7 627.5,143.7 628,143.8 628.5,143.8 629,143.9 629.5,144 630,144 630.5,144 631,144.1 631.5,144.1 632,144.2 632.5,144.2 633,144.3 633.5,144.3 634,144.3 634.5,144.4 635,144.4 635.5,144.5 636,144.5 636.5,144.5 637,144.6 637.5,144.6 638,144.6 638.5,144.7 639,144.7 639.5,144.7 640,144.8 640.5,144.8 641,144.8 641.5,144.8 642,144.9 642.5,144.9 643,144.9 643.5,144.9 644,145 644.5,145 645,145 645.5,145 646,145.1 646.5,145.1 647,145.1 647.5,145.1 648,145.1 648.5,145.2 649,145.2 649.5,145.2 650,145.2 650.5,145.2 651,145.2 651.5,145.2 652,145.3 652.5,145.3 653,145.3 653.5,145.3 654,145.3 654.5,145.3 655,145.3 655.5,145.4 656,145.4 656.5,145.4 657,145.4 657.5,145.4 658,145.4 658.5,145.4 659,145.4 659.5,145.5 660,145.5 660.5,145.5 661,145.5 661.5,145.5 662,145.5 662.5,145.5 663,145.5 663.5,145.5 664,145.5 664.5,145.6 665,145.6 665.5,145.6 666,145.6 666.5,145.6 667,145.6 667.5,145.6 668,145.6 668.5,145.6 669,145.6 669.5,145.6 670,145.6 670.5,145.6" fill="none" stroke="#1ea4ef" stroke-width="1.1" stroke-linejoin="round"/>
<rect x="504.5" y="8.5" width="166.20000000000005" height="138.2" fill="none" stroke="#231f20" stroke-width="1.1"/>
<line x1="519.3" y1="146.7" x2="519.3" y2="149.2" stroke="#231f20" stroke-width="1"/>
<text x="519.3" y="161.8" font-size="10.6" text-anchor="middle" fill="#231f20">350</text>
<line x1="540.6" y1="146.7" x2="540.6" y2="148.2" stroke="#231f20" stroke-width="1"/>
<line x1="561.9" y1="146.7" x2="561.9" y2="149.2" stroke="#231f20" stroke-width="1"/>
<text x="561.9" y="161.8" font-size="10.6" text-anchor="middle" fill="#231f20">450</text>
<line x1="583.2" y1="146.7" x2="583.2" y2="148.2" stroke="#231f20" stroke-width="1"/>
<line x1="604.5" y1="146.7" x2="604.5" y2="149.2" stroke="#231f20" stroke-width="1"/>
<text x="604.5" y="161.8" font-size="10.6" text-anchor="middle" fill="#231f20">550</text>
<line x1="625.8" y1="146.7" x2="625.8" y2="148.2" stroke="#231f20" stroke-width="1"/>
<line x1="647.1" y1="146.7" x2="647.1" y2="149.2" stroke="#231f20" stroke-width="1"/>
<text x="647.1" y="161.8" font-size="10.6" text-anchor="middle" fill="#231f20">650</text>
<line x1="668.4" y1="146.7" x2="668.4" y2="148.2" stroke="#231f20" stroke-width="1"/>
<text x="587.6" y="174.1" font-size="10.6" text-anchor="middle" fill="#231f20">Wavelength (nm)</text>
<text x="495.4" y="78.2" font-size="10.6" text-anchor="middle" fill="#231f20" transform="rotate(-90 495.4 78.2)">Delayed PL (arb.units)</text>
<text x="681.5" y="78.8" font-size="10.6" text-anchor="middle" fill="#231f20" transform="rotate(-90 681.5 78.8)">Absorption (arb.units)</text>
<line x1="611.9" y1="25.4" x2="627.3" y2="25.4" stroke="#1ea4ef" stroke-width="1.3"/>
<text x="634.4" y="29" font-size="10.6" text-anchor="start" fill="#231f20">2PACz</text>
<line x1="611.9" y1="45.9" x2="627.3" y2="45.9" stroke="#5b7fc6" stroke-width="1.3"/>
<text x="634.4" y="49.5" font-size="10.6" text-anchor="start" fill="#231f20">Fluc</text>
<line x1="611.9" y1="67" x2="627.3" y2="67" stroke="#b0708e" stroke-width="1.3"/>
<text x="634.4" y="70.6" font-size="10.6" text-anchor="start" fill="#231f20">Rh123</text>
<line x1="611.9" y1="87.7" x2="627.3" y2="87.7" stroke="#f0454a" stroke-width="1.3"/>
<text x="634.4" y="91.3" font-size="10.6" text-anchor="start" fill="#231f20">Rh6G</text>
<ellipse cx="544.9" cy="108" rx="5.3" ry="3.7" fill="none" stroke="#231f20" stroke-width="1.1"/>
<path d="M541.5 105.3 L536.5 104.6" stroke="#231f20" stroke-width="1.1" fill="none"/>
<path d="M534.3 104.4 L537.5 102.6 L537.2 106.3 Z" fill="#231f20"/>
<ellipse cx="595" cy="108.8" rx="10.5" ry="3.2" fill="none" stroke="#231f20" stroke-width="1.1"/>
<path d="M601 106.3 L611 105.6" stroke="#231f20" stroke-width="1.1" fill="none"/>
<path d="M614.3 105.4 L610.5 103.5 L610.8 107.4 Z" fill="#231f20"/>
<text x="2.2" y="192.6" font-size="10" text-anchor="start" fill="#000" font-weight="bold">c</text>
<path d="M37.5 328.9 L37.5 328.7 L38 328.7 L38.5 328.7 L39 328.7 L39.5 328.7 L40 328.7 L40.5 328.7 L41 328.7 L41.5 328.7 L42 328.7 L42.5 328.7 L43 328.7 L43.5 328.7 L44 328.7 L44.5 328.7 L45 328.7 L45.5 328.7 L46 328.7 L46.5 328.5 L47 328 L47.5 326.7 L48 321.8 L48.5 314.7 L49 303.9 L49.5 294.6 L50 285.9 L50.5 281 L51 279.6 L51.5 279 L52 280.9 L52.5 284.5 L53 286.9 L53.5 286.5 L54 284.9 L54.5 283 L55 280.2 L55.5 277 L56 275.5 L56.5 276.5 L57 279 L57.5 282 L58 286.1 L58.5 291.5 L59 296.6 L59.5 300 L60 301.7 L60.5 303 L61 304.1 L61.5 305 L62 305.9 L62.5 306.9 L63 308.2 L63.5 309.6 L64 311.1 L64.5 312.7 L65 314.4 L65.5 315.9 L66 317.5 L66.5 318.8 L67 320 L67.5 321 L68 321.7 L68.5 322.3 L69 322.9 L69.5 323.4 L70 323.9 L70.5 324.4 L71 324.9 L71.5 325.3 L72 325.7 L72.5 326 L73 326.3 L73.5 326.6 L74 326.9 L74.5 327.1 L75 327.2 L75.5 327.4 L76 327.5 L76.5 327.6 L77 327.7 L77.5 327.8 L78 327.9 L78.5 327.9 L79 328 L79.5 328.1 L80 328.2 L80.5 328.2 L81 328.3 L81.5 328.3 L82 328.4 L82.5 328.4 L83 328.4 L83.5 328.5 L84 328.5 L84.5 328.5 L85 328.5 L85.5 328.5 L86 328.5 L86.5 328.5 L87 328.5 L87.5 328.5 L88 328.5 L88.5 328.5 L89 328.5 L89.5 328.5 L90 328.5 L90.5 328.5 L91 328.4 L91.5 328.4 L92 328.4 L92.5 328.4 L93 328.4 L93.5 328.4 L94 328.3 L94.5 328.1 L95 328 L95.5 327.7 L96 327.5 L96.5 327.1 L97 326.5 L97.5 325.8 L98 324.9 L98.5 324 L99 323 L99.5 321.8 L100 320.5 L100.5 319 L101 317.4 L101.5 315.7 L102 313.6 L102.5 311.2 L103 308.6 L103.5 305.8 L104 303 L104.5 300.1 L105 297.2 L105.5 294 L106 290.6 L106.5 286.9 L107 282.7 L107.5 278.1 L108 273.1 L108.5 268 L109 262.6 L109.5 256.8 L110 250.9 L110.5 245 L111 239.1 L111.5 233.1 L112 227.3 L112.5 222 L113 217 L113.5 212.4 L114 209 L114.5 206.5 L115 205.3 L115.5 205.7 L116 206.6 L116.5 208 L117 210.4 L117.5 213 L118 215.1 L118.5 217.1 L119 219.2 L119.5 221.8 L120 225 L120.5 228.5 L121 232 L121.5 235.4 L122 238.7 L122.5 242.1 L123 245.3 L123.5 248.3 L124 251.2 L124.5 254.1 L125 256.9 L125.5 259.6 L126 262.2 L126.5 264.6 L127 267 L127.5 269.2 L128 271.4 L128.5 273.5 L129 275.5 L129.5 277.4 L130 279.3 L130.5 281.1 L131 282.8 L131.5 284.6 L132 286.3 L132.5 287.9 L133 289.6 L133.5 291.2 L134 292.7 L134.5 294.1 L135 295.5 L135.5 296.7 L136 297.9 L136.5 299 L137 300 L137.5 301 L138 302 L138.5 302.9 L139 303.8 L139.5 304.7 L140 305.5 L140.5 306.3 L141 307.1 L141.5 307.8 L142 308.5 L142.5 309.2 L143 309.9 L143.5 310.5 L144 311.2 L144.5 311.8 L145 312.4 L145.5 313 L146 313.6 L146.5 314.2 L147 314.8 L147.5 315.4 L148 315.9 L148.5 316.5 L149 317 L149.5 317.5 L150 318 L150.5 318.5 L151 318.9 L151.5 319.3 L152 319.7 L152.5 320.1 L153 320.5 L153.5 320.8 L154 321.1 L154.5 321.4 L155 321.7 L155.5 321.9 L156 322.2 L156.5 322.5 L157 322.7 L157.5 323 L158 323.2 L158.5 323.4 L159 323.6 L159.5 323.9 L160 324.1 L160.5 324.3 L161 324.5 L161.5 324.6 L162 324.8 L162.5 325 L163 325.2 L163.5 325.3 L164 325.5 L164.5 325.6 L165 325.8 L165.5 325.9 L166 326 L166.5 326.1 L167 326.2 L167.5 326.3 L168 326.4 L168.5 326.5 L169 326.6 L169.5 326.7 L170 326.8 L170.5 326.9 L171 327 L171.5 327.1 L172 327.2 L172.5 327.3 L173 327.4 L173.5 327.4 L174 327.5 L174.5 327.6 L175 327.7 L175.5 327.8 L176 327.8 L176.5 327.9 L177 328 L177.5 328 L178 328.1 L178.5 328.2 L179 328.2 L179.5 328.3 L180 328.3 L180.5 328.4 L181 328.4 L181.5 328.4 L182 328.5 L182.5 328.5 L183 328.5 L183.5 328.6 L184 328.6 L184.5 328.6 L185 328.6 L185.5 328.6 L186 328.6 L186.5 328.6 L187 328.6 L187.5 328.7 L188 328.7 L188.5 328.7 L189 328.7 L189.5 328.7 L190 328.7 L190.5 328.7 L191 328.7 L191.5 328.7 L192 328.7 L192.5 328.7 L193 328.7 L193.5 328.7 L194 328.7 L194.5 328.8 L195 328.8 L195.5 328.8 L196 328.8 L196.5 328.8 L197 328.8 L197.5 328.8 L198 328.8 L198.5 328.8 L199 328.8 L199.5 328.8 L200 328.8 L200.5 328.8 L201 328.8 L201.5 328.8 L202 328.8 L202.5 328.8 L203 328.8 L203 328.9Z" fill="url(#gcFL)"/>
<path d="M37.5 328.9 L37.5 328.7 L38 328.7 L38.5 328.7 L39 328.7 L39.5 328.7 L40 328.7 L40.5 328.7 L41 328.7 L41.5 328.7 L42 328.7 L42.5 328.7 L43 328.7 L43.5 328.7 L44 328.7 L44.5 328.7 L45 328.7 L45.5 328.7 L46 328.7 L46.5 328.4 L47 327.7 L47.5 326 L48 320.3 L48.5 312.6 L49 301.9 L49.5 292 L50 281.9 L50.5 277.2 L51 277.7 L51.5 279 L52 281 L52.5 285.4 L53 288.7 L53.5 288.1 L54 285.8 L54.5 283 L55 278.6 L55.5 273.4 L56 270.8 L56.5 272.3 L57 275.9 L57.5 280 L58 284.9 L58.5 290.9 L59 296.5 L59.5 300 L60 301.7 L60.5 303 L61 304.1 L61.5 305 L62 305.9 L62.5 306.9 L63 308.2 L63.5 309.6 L64 311.1 L64.5 312.7 L65 314.4 L65.5 315.9 L66 317.5 L66.5 318.8 L67 320 L67.5 321 L68 321.7 L68.5 322.3 L69 322.9 L69.5 323.4 L70 323.9 L70.5 324.4 L71 324.9 L71.5 325.3 L72 325.7 L72.5 326 L73 326.3 L73.5 326.6 L74 326.9 L74.5 327.1 L75 327.2 L75.5 327.4 L76 327.5 L76.5 327.6 L77 327.7 L77.5 327.8 L78 327.8 L78.5 327.9 L79 328 L79.5 328.1 L80 328.1 L80.5 328.2 L81 328.2 L81.5 328.3 L82 328.3 L82.5 328.4 L83 328.4 L83.5 328.4 L84 328.5 L84.5 328.5 L85 328.5 L85.5 328.5 L86 328.5 L86.5 328.5 L87 328.5 L87.5 328.6 L88 328.6 L88.5 328.6 L89 328.6 L89.5 328.6 L90 328.6 L90.5 328.6 L91 328.6 L91.5 328.6 L92 328.6 L92.5 328.6 L93 328.6 L93.5 328.7 L94 328.7 L94.5 328.7 L95 328.7 L95.5 328.7 L96 328.7 L96.5 328.7 L97 328.7 L97.5 328.7 L98 328.7 L98.5 328.7 L99 328.7 L99.5 328.7 L100 328.7 L100.5 328.7 L101 328.7 L101.5 328.7 L102 328.6 L102.5 328.6 L103 328.5 L103.5 328.4 L104 328.3 L104.5 328.1 L105 327.7 L105.5 327.2 L106 326.6 L106.5 326 L107 325.2 L107.5 324.2 L108 322.9 L108.5 321.2 L109 318.2 L109.5 314.1 L110 309.4 L110.5 305 L111 300.9 L111.5 296.7 L112 292.4 L112.5 288 L113 283.4 L113.5 278.6 L114 273.6 L114.5 268.3 L115 262.7 L115.5 256.3 L116 249.7 L116.5 243.4 L117 237.9 L117.5 232.8 L118 228 L118.5 223.7 L119 220 L119.5 216.8 L120 213.8 L120.5 211.3 L121 209.5 L121.5 208.1 L122 206.8 L122.5 205.9 L123 205.4 L123.5 205.4 L124 205.8 L124.5 206.3 L125 207 L125.5 207.7 L126 208.7 L126.5 209.7 L127 211 L127.5 212.6 L128 214.6 L128.5 216.8 L129 219 L129.5 221.1 L130 223.1 L130.5 225.2 L131 227.5 L131.5 229.8 L132 232.5 L132.5 235.5 L133 239.2 L133.5 243.5 L134 248.1 L134.5 252.7 L135 257.1 L135.5 261.2 L136 264.5 L136.5 267.4 L137 270 L137.5 272.4 L138 274.8 L138.5 277 L139 279 L139.5 280.9 L140 282.8 L140.5 284.5 L141 286.2 L141.5 287.9 L142 289.4 L142.5 290.9 L143 292.4 L143.5 293.9 L144 295.3 L144.5 296.6 L145 297.9 L145.5 298.9 L146 299.7 L146.5 300.6 L147 301.6 L147.5 302.4 L148 303.1 L148.5 303.7 L149 304.7 L149.5 305.7 L150 306.6 L150.5 307.1 L151 307.2 L151.5 307.4 L152 307.8 L152.5 308.5 L153 309.4 L153.5 310.2 L154 311.1 L154.5 311.7 L155 311.9 L155.5 312.1 L156 312.3 L156.5 312.7 L157 313 L157.5 313.1 L158 313.6 L158.5 314.6 L159 315.3 L159.5 315.9 L160 316.5 L160.5 317.1 L161 317.5 L161.5 317.8 L162 318.3 L162.5 319 L163 319.4 L163.5 319.4 L164 319.2 L164.5 319.6 L165 320 L165.5 319.5 L166 319.3 L166.5 319.9 L167 320.5 L167.5 321.1 L168 321.8 L168.5 322 L169 322.2 L169.5 323.1 L170 323.9 L170.5 323.9 L171 323.8 L171.5 323.9 L172 324 L172.5 324.3 L173 324.6 L173.5 324.6 L174 324.5 L174.5 324.5 L175 324.5 L175.5 324.5 L176 324.5 L176.5 324.9 L177 325.2 L177.5 325.1 L178 325 L178.5 324.7 L179 324.7 L179.5 325.2 L180 325.6 L180.5 325.4 L181 325.2 L181.5 325 L182 324.8 L182.5 324.8 L183 324.5 L183.5 324.2 L184 324.4 L184.5 324.4 L185 324.2 L185.5 324.3 L186 324.6 L186.5 324.9 L187 325.4 L187.5 325.7 L188 325.6 L188.5 325.9 L189 326.4 L189.5 326.6 L190 326.7 L190.5 326.8 L191 326.7 L191.5 326.5 L192 326.4 L192.5 326.6 L193 326.9 L193.5 327.2 L194 327.2 L194.5 326.8 L195 326.8 L195.5 327.1 L196 327.1 L196.5 326.9 L197 326.6 L197.5 326.8 L198 327.1 L198.5 327 L199 327.1 L199.5 327.5 L200 327.9 L200.5 328.6 L201 328.9 L201.5 328.9 L202 328.7 L202.5 328.4 L203 328.3 L203 328.9Z" fill="url(#gcRH)"/>
<path d="M37.5 328.9 L37.5 328.9 L38 328.9 L38.5 328.9 L39 328.9 L39.5 328.9 L40 328.9 L40.5 328.9 L41 328.9 L41.5 328.9 L42 328.9 L42.5 328.9 L43 328.9 L43.5 328.9 L44 328.9 L44.5 328.9 L45 328.9 L45.5 328.9 L46 328.9 L46.5 328.9 L47 328.6 L47.5 327.9 L48 327.1 L48.5 325.9 L49 324.9 L49.5 324.8 L50 325 L50.5 325.2 L51 325.4 L51.5 325.7 L52 326 L52.5 326.1 L53 325.9 L53.5 325.6 L54 325.3 L54.5 325 L55 324.7 L55.5 324.4 L56 324.2 L56.5 324.2 L57 324.3 L57.5 324.5 L58 324.8 L58.5 325 L59 325.2 L59.5 325.5 L60 325.8 L60.5 326.1 L61 326.4 L61.5 326.6 L62 326.8 L62.5 327 L63 327.1 L63.5 327.2 L64 327.4 L64.5 327.5 L65 327.6 L65.5 327.7 L66 327.9 L66.5 327.9 L67 328 L67.5 328.1 L68 328.2 L68.5 328.2 L69 328.3 L69.5 328.3 L70 328.4 L70.5 328.4 L71 328.4 L71.5 328.4 L72 328.5 L72.5 328.5 L73 328.5 L73.5 328.6 L74 328.6 L74.5 328.6 L75 328.6 L75.5 328.7 L76 328.7 L76.5 328.7 L77 328.7 L77.5 328.7 L78 328.8 L78.5 328.8 L79 328.8 L79.5 328.8 L80 328.8 L80.5 328.8 L81 328.8 L81.5 328.8 L82 328.9 L82.5 328.9 L83 328.9 L83.5 328.9 L84 328.9 L84.5 328.9 L85 328.9 L85.5 328.9 L86 328.9 L86.5 328.9 L87 328.9 L87.5 328.9 L88 328.9 L88.5 328.9 L89 328.9 L89.5 328.9 L90 328.9 L90.5 328.9 L91 328.9 L91.5 329 L92 329 L92.5 329 L93 329 L93.5 329 L94 329 L94.5 329 L95 329 L95.5 329 L96 329 L96.5 329 L97 329 L97.5 329 L98 329 L98.5 329 L99 329 L99.5 329 L100 329 L100.5 329 L101 329 L101.5 329 L102 329 L102.5 329 L103 329 L103.5 329 L104 329 L104.5 329 L105 329 L105.5 329 L106 329 L106.5 329 L107 329 L107.5 329 L108 328.9 L108.5 328.9 L109 328.9 L109.5 328.8 L110 328.8 L110.5 328.7 L111 328.7 L111.5 328.6 L112 328.3 L112.5 327.9 L113 327.5 L113.5 327 L114 326.5 L114.5 325.9 L115 325.1 L115.5 324.3 L116 323.5 L116.5 322.7 L117 321.9 L117.5 321.1 L118 320.3 L118.5 319.5 L119 318.8 L119.5 318.1 L120 317.4 L120.5 316.7 L121 316 L121.5 315.3 L122 314.5 L122.5 313.8 L123 313.1 L123.5 312.3 L124 311.5 L124.5 310.7 L125 309.7 L125.5 308.7 L126 307.5 L126.5 306.1 L127 304.6 L127.5 302.9 L128 301 L128.5 298.8 L129 296.3 L129.5 293.4 L130 289.6 L130.5 283.9 L131 277 L131.5 269.5 L132 262.1 L132.5 255.1 L133 247.6 L133.5 240 L134 232.5 L134.5 225.7 L135 219.6 L135.5 213.6 L136 209 L136.5 206.9 L137 205.6 L137.5 205.4 L138 206.4 L138.5 208 L139 210.2 L139.5 213.4 L140 217.2 L140.5 221 L141 224.6 L141.5 227.7 L142 230.6 L142.5 233.4 L143 236.1 L143.5 238.8 L144 241.4 L144.5 244 L145 246.5 L145.5 249 L146 251.4 L146.5 253.8 L147 256.2 L147.5 258.5 L148 260.7 L148.5 262.9 L149 264.9 L149.5 266.9 L150 268.8 L150.5 270.6 L151 272.4 L151.5 274.2 L152 275.9 L152.5 277.6 L153 279.2 L153.5 280.9 L154 282.5 L154.5 284.1 L155 285.8 L155.5 287.4 L156 289 L156.5 290.6 L157 292.1 L157.5 293.6 L158 295 L158.5 296.3 L159 297.5 L159.5 298.5 L160 299.6 L160.5 300.6 L161 301.6 L161.5 302.5 L162 303.4 L162.5 304.3 L163 305.1 L163.5 306 L164 306.7 L164.5 307.5 L165 308.2 L165.5 308.9 L166 309.6 L166.5 310.3 L167 311 L167.5 311.6 L168 312.2 L168.5 312.8 L169 313.4 L169.5 313.9 L170 314.5 L170.5 315.1 L171 315.6 L171.5 316.1 L172 316.8 L172.5 317.4 L173 318 L173.5 318.6 L174 319.3 L174.5 319.8 L175 320 L175.5 320.1 L176 320.5 L176.5 321 L177 321.3 L177.5 321.6 L178 321.9 L178.5 322.2 L179 322.2 L179.5 322.3 L180 322.4 L180.5 322.3 L181 322.4 L181.5 322.4 L182 322.5 L182.5 322.7 L183 322.7 L183.5 322.8 L184 323.1 L184.5 323.3 L185 323.6 L185.5 323.7 L186 323.9 L186.5 324.4 L187 324.7 L187.5 325 L188 325.1 L188.5 325.1 L189 325.3 L189.5 325.1 L190 324.8 L190.5 324.9 L191 325.3 L191.5 325.7 L192 325.6 L192.5 325.4 L193 325.6 L193.5 325.9 L194 326 L194.5 326.1 L195 326.2 L195.5 326.5 L196 326.8 L196.5 326.7 L197 326.5 L197.5 326.5 L198 326.9 L198.5 326.9 L199 326.8 L199.5 326.7 L200 326.6 L200.5 326.4 L201 326.6 L201.5 327 L202 327.5 L202.5 327.5 L202.5 328.9Z" fill="url(#gcR6)"/>
<polyline points="37.5,328.7 38,328.7 38.5,328.7 39,328.7 39.5,328.7 40,328.7 40.5,328.7 41,328.7 41.5,328.7 42,328.7 42.5,328.7 43,328.7 43.5,328.7 44,328.7 44.5,328.7 45,328.7 45.5,328.7 46,328.7 46.5,328.5 47,328 47.5,326.7 48,321.8 48.5,314.7 49,303.9 49.5,294.6 50,285.9 50.5,281 51,279.6 51.5,279 52,280.9 52.5,284.5 53,286.9 53.5,286.5 54,284.9 54.5,283 55,280.2 55.5,277 56,275.5 56.5,276.5 57,279 57.5,282 58,286.1 58.5,291.5 59,296.6 59.5,300 60,301.7 60.5,303 61,304.1 61.5,305 62,305.9 62.5,306.9 63,308.2 63.5,309.6 64,311.1 64.5,312.7 65,314.4 65.5,315.9 66,317.5 66.5,318.8 67,320 67.5,321 68,321.7 68.5,322.3 69,322.9 69.5,323.4 70,323.9 70.5,324.4 71,324.9 71.5,325.3 72,325.7 72.5,326 73,326.3 73.5,326.6 74,326.9 74.5,327.1 75,327.2 75.5,327.4 76,327.5 76.5,327.6 77,327.7 77.5,327.8 78,327.9 78.5,327.9 79,328 79.5,328.1 80,328.2 80.5,328.2 81,328.3 81.5,328.3 82,328.4 82.5,328.4 83,328.4 83.5,328.5 84,328.5 84.5,328.5 85,328.5 85.5,328.5 86,328.5 86.5,328.5 87,328.5 87.5,328.5 88,328.5 88.5,328.5 89,328.5 89.5,328.5 90,328.5 90.5,328.5 91,328.4 91.5,328.4 92,328.4 92.5,328.4 93,328.4 93.5,328.4 94,328.3 94.5,328.1 95,328 95.5,327.7 96,327.5 96.5,327.1 97,326.5 97.5,325.8 98,324.9 98.5,324 99,323 99.5,321.8 100,320.5 100.5,319 101,317.4 101.5,315.7 102,313.6 102.5,311.2 103,308.6 103.5,305.8 104,303 104.5,300.1 105,297.2 105.5,294 106,290.6 106.5,286.9 107,282.7 107.5,278.1 108,273.1 108.5,268 109,262.6 109.5,256.8 110,250.9 110.5,245 111,239.1 111.5,233.1 112,227.3 112.5,222 113,217 113.5,212.4 114,209 114.5,206.5 115,205.3 115.5,205.7 116,206.6 116.5,208 117,210.4 117.5,213 118,215.1 118.5,217.1 119,219.2 119.5,221.8 120,225 120.5,228.5 121,232 121.5,235.4 122,238.7 122.5,242.1 123,245.3 123.5,248.3 124,251.2 124.5,254.1 125,256.9 125.5,259.6 126,262.2 126.5,264.6 127,267 127.5,269.2 128,271.4 128.5,273.5 129,275.5 129.5,277.4 130,279.3 130.5,281.1 131,282.8 131.5,284.6 132,286.3 132.5,287.9 133,289.6 133.5,291.2 134,292.7 134.5,294.1 135,295.5 135.5,296.7 136,297.9 136.5,299 137,300 137.5,301 138,302 138.5,302.9 139,303.8 139.5,304.7 140,305.5 140.5,306.3 141,307.1 141.5,307.8 142,308.5 142.5,309.2 143,309.9 143.5,310.5 144,311.2 144.5,311.8 145,312.4 145.5,313 146,313.6 146.5,314.2 147,314.8 147.5,315.4 148,315.9 148.5,316.5 149,317 149.5,317.5 150,318 150.5,318.5 151,318.9 151.5,319.3 152,319.7 152.5,320.1 153,320.5 153.5,320.8 154,321.1 154.5,321.4 155,321.7 155.5,321.9 156,322.2 156.5,322.5 157,322.7 157.5,323 158,323.2 158.5,323.4 159,323.6 159.5,323.9 160,324.1 160.5,324.3 161,324.5 161.5,324.6 162,324.8 162.5,325 163,325.2 163.5,325.3 164,325.5 164.5,325.6 165,325.8 165.5,325.9 166,326 166.5,326.1 167,326.2 167.5,326.3 168,326.4 168.5,326.5 169,326.6 169.5,326.7 170,326.8 170.5,326.9 171,327 171.5,327.1 172,327.2 172.5,327.3 173,327.4 173.5,327.4 174,327.5 174.5,327.6 175,327.7 175.5,327.8 176,327.8 176.5,327.9 177,328 177.5,328 178,328.1 178.5,328.2 179,328.2 179.5,328.3 180,328.3 180.5,328.4 181,328.4 181.5,328.4 182,328.5 182.5,328.5 183,328.5 183.5,328.6 184,328.6 184.5,328.6 185,328.6 185.5,328.6 186,328.6 186.5,328.6 187,328.6 187.5,328.7 188,328.7 188.5,328.7 189,328.7 189.5,328.7 190,328.7 190.5,328.7 191,328.7 191.5,328.7 192,328.7 192.5,328.7 193,328.7 193.5,328.7 194,328.7 194.5,328.8 195,328.8 195.5,328.8 196,328.8 196.5,328.8 197,328.8 197.5,328.8 198,328.8 198.5,328.8 199,328.8 199.5,328.8 200,328.8 200.5,328.8 201,328.8 201.5,328.8 202,328.8 202.5,328.8 203,328.8" fill="none" stroke="#1ea7f0" stroke-width="1.2" stroke-linejoin="round"/>
<polyline points="37.5,328.7 38,328.7 38.5,328.7 39,328.7 39.5,328.7 40,328.7 40.5,328.7 41,328.7 41.5,328.7 42,328.7 42.5,328.7 43,328.7 43.5,328.7 44,328.7 44.5,328.7 45,328.7 45.5,328.7 46,328.7 46.5,328.4 47,327.7 47.5,326 48,320.3 48.5,312.6 49,301.9 49.5,292 50,281.9 50.5,277.2 51,277.7 51.5,279 52,281 52.5,285.4 53,288.7 53.5,288.1 54,285.8 54.5,283 55,278.6 55.5,273.4 56,270.8 56.5,272.3 57,275.9 57.5,280 58,284.9 58.5,290.9 59,296.5 59.5,300 60,301.7 60.5,303 61,304.1 61.5,305 62,305.9 62.5,306.9 63,308.2 63.5,309.6 64,311.1 64.5,312.7 65,314.4 65.5,315.9 66,317.5 66.5,318.8 67,320 67.5,321 68,321.7 68.5,322.3 69,322.9 69.5,323.4 70,323.9 70.5,324.4 71,324.9 71.5,325.3 72,325.7 72.5,326 73,326.3 73.5,326.6 74,326.9 74.5,327.1 75,327.2 75.5,327.4 76,327.5 76.5,327.6 77,327.7 77.5,327.8 78,327.8 78.5,327.9 79,328 79.5,328.1 80,328.1 80.5,328.2 81,328.2 81.5,328.3 82,328.3 82.5,328.4 83,328.4 83.5,328.4 84,328.5 84.5,328.5 85,328.5 85.5,328.5 86,328.5 86.5,328.5 87,328.5 87.5,328.6 88,328.6 88.5,328.6 89,328.6 89.5,328.6 90,328.6 90.5,328.6 91,328.6 91.5,328.6 92,328.6 92.5,328.6 93,328.6 93.5,328.7 94,328.7 94.5,328.7 95,328.7 95.5,328.7 96,328.7 96.5,328.7 97,328.7 97.5,328.7 98,328.7 98.5,328.7 99,328.7 99.5,328.7 100,328.7 100.5,328.7 101,328.7 101.5,328.7 102,328.6 102.5,328.6 103,328.5 103.5,328.4 104,328.3 104.5,328.1 105,327.7 105.5,327.2 106,326.6 106.5,326 107,325.2 107.5,324.2 108,322.9 108.5,321.2 109,318.2 109.5,314.1 110,309.4 110.5,305 111,300.9 111.5,296.7 112,292.4 112.5,288 113,283.4 113.5,278.6 114,273.6 114.5,268.3 115,262.7 115.5,256.3 116,249.7 116.5,243.4 117,237.9 117.5,232.8 118,228 118.5,223.7 119,220 119.5,216.8 120,213.8 120.5,211.3 121,209.5 121.5,208.1 122,206.8 122.5,205.9 123,205.4 123.5,205.4 124,205.8 124.5,206.3 125,207 125.5,207.7 126,208.7 126.5,209.7 127,211 127.5,212.6 128,214.6 128.5,216.8 129,219 129.5,221.1 130,223.1 130.5,225.2 131,227.5 131.5,229.8 132,232.5 132.5,235.5 133,239.2 133.5,243.5 134,248.1 134.5,252.7 135,257.1 135.5,261.2 136,264.5 136.5,267.4 137,270 137.5,272.4 138,274.8 138.5,277 139,279 139.5,280.9 140,282.8 140.5,284.5 141,286.2 141.5,287.9 142,289.4 142.5,290.9 143,292.4 143.5,293.9 144,295.3 144.5,296.6 145,297.9 145.5,298.9 146,299.7 146.5,300.6 147,301.6 147.5,302.4 148,303.1 148.5,303.7 149,304.7 149.5,305.7 150,306.6 150.5,307.1 151,307.2 151.5,307.4 152,307.8 152.5,308.5 153,309.4 153.5,310.2 154,311.1 154.5,311.7 155,311.9 155.5,312.1 156,312.3 156.5,312.7 157,313 157.5,313.1 158,313.6 158.5,314.6 159,315.3 159.5,315.9 160,316.5 160.5,317.1 161,317.5 161.5,317.8 162,318.3 162.5,319 163,319.4 163.5,319.4 164,319.2 164.5,319.6 165,320 165.5,319.5 166,319.3 166.5,319.9 167,320.5 167.5,321.1 168,321.8 168.5,322 169,322.2 169.5,323.1 170,323.9 170.5,323.9 171,323.8 171.5,323.9 172,324 172.5,324.3 173,324.6 173.5,324.6 174,324.5 174.5,324.5 175,324.5 175.5,324.5 176,324.5 176.5,324.9 177,325.2 177.5,325.1 178,325 178.5,324.7 179,324.7 179.5,325.2 180,325.6 180.5,325.4 181,325.2 181.5,325 182,324.8 182.5,324.8 183,324.5 183.5,324.2 184,324.4 184.5,324.4 185,324.2 185.5,324.3 186,324.6 186.5,324.9 187,325.4 187.5,325.7 188,325.6 188.5,325.9 189,326.4 189.5,326.6 190,326.7 190.5,326.8 191,326.7 191.5,326.5 192,326.4 192.5,326.6 193,326.9 193.5,327.2 194,327.2 194.5,326.8 195,326.8 195.5,327.1 196,327.1 196.5,326.9 197,326.6 197.5,326.8 198,327.1 198.5,327 199,327.1 199.5,327.5 200,327.9 200.5,328.6 201,328.9 201.5,328.9 202,328.7 202.5,328.4 203,328.3" fill="none" stroke="#6b4c9a" stroke-width="1.2" stroke-linejoin="round"/>
<polyline points="37.5,328.9 38,328.9 38.5,328.9 39,328.9 39.5,328.9 40,328.9 40.5,328.9 41,328.9 41.5,328.9 42,328.9 42.5,328.9 43,328.9 43.5,328.9 44,328.9 44.5,328.9 45,328.9 45.5,328.9 46,328.9 46.5,328.9 47,328.6 47.5,327.9 48,327.1 48.5,325.9 49,324.9 49.5,324.8 50,325 50.5,325.2 51,325.4 51.5,325.7 52,326 52.5,326.1 53,325.9 53.5,325.6 54,325.3 54.5,325 55,324.7 55.5,324.4 56,324.2 56.5,324.2 57,324.3 57.5,324.5 58,324.8 58.5,325 59,325.2 59.5,325.5 60,325.8 60.5,326.1 61,326.4 61.5,326.6 62,326.8 62.5,327 63,327.1 63.5,327.2 64,327.4 64.5,327.5 65,327.6 65.5,327.7 66,327.9 66.5,327.9 67,328 67.5,328.1 68,328.2 68.5,328.2 69,328.3 69.5,328.3 70,328.4 70.5,328.4 71,328.4 71.5,328.4 72,328.5 72.5,328.5 73,328.5 73.5,328.6 74,328.6 74.5,328.6 75,328.6 75.5,328.7 76,328.7 76.5,328.7 77,328.7 77.5,328.7 78,328.8 78.5,328.8 79,328.8 79.5,328.8 80,328.8 80.5,328.8 81,328.8 81.5,328.8 82,328.9 82.5,328.9 83,328.9 83.5,328.9 84,328.9 84.5,328.9 85,328.9 85.5,328.9 86,328.9 86.5,328.9 87,328.9 87.5,328.9 88,328.9 88.5,328.9 89,328.9 89.5,328.9 90,328.9 90.5,328.9 91,328.9 91.5,329 92,329 92.5,329 93,329 93.5,329 94,329 94.5,329 95,329 95.5,329 96,329 96.5,329 97,329 97.5,329 98,329 98.5,329 99,329 99.5,329 100,329 100.5,329 101,329 101.5,329 102,329 102.5,329 103,329 103.5,329 104,329 104.5,329 105,329 105.5,329 106,329 106.5,329 107,329 107.5,329 108,328.9 108.5,328.9 109,328.9 109.5,328.8 110,328.8 110.5,328.7 111,328.7 111.5,328.6 112,328.3 112.5,327.9 113,327.5 113.5,327 114,326.5 114.5,325.9 115,325.1 115.5,324.3 116,323.5 116.5,322.7 117,321.9 117.5,321.1 118,320.3 118.5,319.5 119,318.8 119.5,318.1 120,317.4 120.5,316.7 121,316 121.5,315.3 122,314.5 122.5,313.8 123,313.1 123.5,312.3 124,311.5 124.5,310.7 125,309.7 125.5,308.7 126,307.5 126.5,306.1 127,304.6 127.5,302.9 128,301 128.5,298.8 129,296.3 129.5,293.4 130,289.6 130.5,283.9 131,277 131.5,269.5 132,262.1 132.5,255.1 133,247.6 133.5,240 134,232.5 134.5,225.7 135,219.6 135.5,213.6 136,209 136.5,206.9 137,205.6 137.5,205.4 138,206.4 138.5,208 139,210.2 139.5,213.4 140,217.2 140.5,221 141,224.6 141.5,227.7 142,230.6 142.5,233.4 143,236.1 143.5,238.8 144,241.4 144.5,244 145,246.5 145.5,249 146,251.4 146.5,253.8 147,256.2 147.5,258.5 148,260.7 148.5,262.9 149,264.9 149.5,266.9 150,268.8 150.5,270.6 151,272.4 151.5,274.2 152,275.9 152.5,277.6 153,279.2 153.5,280.9 154,282.5 154.5,284.1 155,285.8 155.5,287.4 156,289 156.5,290.6 157,292.1 157.5,293.6 158,295 158.5,296.3 159,297.5 159.5,298.5 160,299.6 160.5,300.6 161,301.6 161.5,302.5 162,303.4 162.5,304.3 163,305.1 163.5,306 164,306.7 164.5,307.5 165,308.2 165.5,308.9 166,309.6 166.5,310.3 167,311 167.5,311.6 168,312.2 168.5,312.8 169,313.4 169.5,313.9 170,314.5 170.5,315.1 171,315.6 171.5,316.1 172,316.8 172.5,317.4 173,318 173.5,318.6 174,319.3 174.5,319.8 175,320 175.5,320.1 176,320.5 176.5,321 177,321.3 177.5,321.6 178,321.9 178.5,322.2 179,322.2 179.5,322.3 180,322.4 180.5,322.3 181,322.4 181.5,322.4 182,322.5 182.5,322.7 183,322.7 183.5,322.8 184,323.1 184.5,323.3 185,323.6 185.5,323.7 186,323.9 186.5,324.4 187,324.7 187.5,325 188,325.1 188.5,325.1 189,325.3 189.5,325.1 190,324.8 190.5,324.9 191,325.3 191.5,325.7 192,325.6 192.5,325.4 193,325.6 193.5,325.9 194,326 194.5,326.1 195,326.2 195.5,326.5 196,326.8 196.5,326.7 197,326.5 197.5,326.5 198,326.9 198.5,326.9 199,326.8 199.5,326.7 200,326.6 200.5,326.4 201,326.6 201.5,327 202,327.5 202.5,327.5" fill="none" stroke="#f0323c" stroke-width="1.2" stroke-linejoin="round"/>
<rect x="37.5" y="192.7" width="165.7" height="137.8" fill="none" stroke="#231f20" stroke-width="1.1"/>
<line x1="35.3" y1="328.9" x2="37.5" y2="328.9" stroke="#231f20" stroke-width="1"/>
<text x="32.5" y="332.7" font-size="10.6" text-anchor="end" fill="#231f20">0.0</text>
<line x1="36.3" y1="316.5" x2="37.5" y2="316.5" stroke="#231f20" stroke-width="1"/>
<line x1="35.3" y1="304.2" x2="37.5" y2="304.2" stroke="#231f20" stroke-width="1"/>
<text x="32.5" y="308" font-size="10.6" text-anchor="end" fill="#231f20">0.2</text>
<line x1="36.3" y1="291.8" x2="37.5" y2="291.8" stroke="#231f20" stroke-width="1"/>
<line x1="35.3" y1="279.5" x2="37.5" y2="279.5" stroke="#231f20" stroke-width="1"/>
<text x="32.5" y="283.3" font-size="10.6" text-anchor="end" fill="#231f20">0.4</text>
<line x1="36.3" y1="267.1" x2="37.5" y2="267.1" stroke="#231f20" stroke-width="1"/>
<line x1="35.3" y1="254.7" x2="37.5" y2="254.7" stroke="#231f20" stroke-width="1"/>
<text x="32.5" y="258.5" font-size="10.6" text-anchor="end" fill="#231f20">0.6</text>
<line x1="36.3" y1="242.4" x2="37.5" y2="242.4" stroke="#231f20" stroke-width="1"/>
<line x1="35.3" y1="230" x2="37.5" y2="230" stroke="#231f20" stroke-width="1"/>
<text x="32.5" y="233.8" font-size="10.6" text-anchor="end" fill="#231f20">0.8</text>
<line x1="36.3" y1="217.7" x2="37.5" y2="217.7" stroke="#231f20" stroke-width="1"/>
<line x1="35.3" y1="205.3" x2="37.5" y2="205.3" stroke="#231f20" stroke-width="1"/>
<text x="32.5" y="209.1" font-size="10.6" text-anchor="end" fill="#231f20">1.0</text>
<line x1="49.2" y1="330.5" x2="49.2" y2="331.8" stroke="#231f20" stroke-width="1"/>
<line x1="66.3" y1="330.5" x2="66.3" y2="332.8" stroke="#231f20" stroke-width="1"/>
<text x="66.3" y="345.6" font-size="10.6" text-anchor="middle" fill="#231f20">400</text>
<line x1="83.4" y1="330.5" x2="83.4" y2="331.8" stroke="#231f20" stroke-width="1"/>
<line x1="100.5" y1="330.5" x2="100.5" y2="332.8" stroke="#231f20" stroke-width="1"/>
<text x="100.5" y="345.6" font-size="10.6" text-anchor="middle" fill="#231f20">500</text>
<line x1="117.5" y1="330.5" x2="117.5" y2="331.8" stroke="#231f20" stroke-width="1"/>
<line x1="134.6" y1="330.5" x2="134.6" y2="332.8" stroke="#231f20" stroke-width="1"/>
<text x="134.6" y="345.6" font-size="10.6" text-anchor="middle" fill="#231f20">600</text>
<line x1="151.7" y1="330.5" x2="151.7" y2="331.8" stroke="#231f20" stroke-width="1"/>
<line x1="168.8" y1="330.5" x2="168.8" y2="332.8" stroke="#231f20" stroke-width="1"/>
<text x="168.8" y="345.6" font-size="10.6" text-anchor="middle" fill="#231f20">700</text>
<line x1="185.8" y1="330.5" x2="185.8" y2="331.8" stroke="#231f20" stroke-width="1"/>
<line x1="202.9" y1="330.5" x2="202.9" y2="332.8" stroke="#231f20" stroke-width="1"/>
<text x="202.9" y="345.6" font-size="10.6" text-anchor="middle" fill="#231f20">800</text>
<text x="120.6" y="357.6" font-size="10.6" text-anchor="middle" fill="#231f20">Wavelength (nm)</text>
<text x="8.8" y="261.2" font-size="10.6" text-anchor="middle" fill="#231f20" transform="rotate(-90 8.8 261.2)">Intensity (arb.units)</text>
<text x="45.8" y="210" font-size="10.6" text-anchor="start" fill="#231f20">λ</text>
<text x="51.1" y="213.6" font-size="6.6" text-anchor="start" fill="#231f20">ex</text>
<text x="59.4" y="210" font-size="10.6" text-anchor="start" fill="#231f20">=299 nm</text>
<line x1="46" y1="220.2" x2="63.9" y2="220.2" stroke="#1ea7f0" stroke-width="1.4"/>
<text x="70" y="223.5" font-size="10.6" text-anchor="start" fill="#231f20">Fluc</text>
<line x1="46" y1="236.4" x2="63.9" y2="236.4" stroke="#6b4c9a" stroke-width="1.4"/>
<text x="70" y="239.7" font-size="10.6" text-anchor="start" fill="#231f20">Rh123</text>
<line x1="46" y1="252.5" x2="63.9" y2="252.5" stroke="#f0323c" stroke-width="1.4"/>
<text x="70" y="255.8" font-size="10.6" text-anchor="start" fill="#231f20">Rh6G</text>
<text x="235.2" y="192.4" font-size="10" text-anchor="start" fill="#000" font-weight="bold">d</text>
<path d="M271.1 328.9 L271.1 329.3 L271.6 329.3 L272.1 329.3 L272.6 329.3 L273.1 329.3 L273.6 329.3 L274.1 329.3 L274.6 329.3 L275.1 329.3 L275.6 329.3 L276.1 329.3 L276.6 329.3 L277.1 329.2 L277.6 329.2 L278.1 329.2 L278.6 329.2 L279.1 329.2 L279.6 329.2 L280.1 329.2 L280.6 329.2 L281.1 329.1 L281.6 329.1 L282.1 329.1 L282.6 329.1 L283.1 329 L283.6 329 L284.1 329 L284.6 328.8 L285.1 328.6 L285.6 328.4 L286.1 328.3 L286.6 328.3 L287.1 328.3 L287.6 328.3 L288.1 328.3 L288.6 328.3 L289.1 328.3 L289.6 328.3 L290.1 328.3 L290.6 328.3 L291.1 328.3 L291.6 328.3 L292.1 328.3 L292.6 328.3 L293.1 328.3 L293.6 328.3 L294.1 328.3 L294.6 328.3 L295.1 328.4 L295.6 328.4 L296.1 328.5 L296.6 328.6 L297.1 328.7 L297.6 328.8 L298.1 328.8 L298.6 328.9 L299.1 329 L299.6 329 L300.1 329 L300.6 329 L301.1 329 L301.6 329 L302.1 328.9 L302.6 328.9 L303.1 328.8 L303.6 328.8 L304.1 328.7 L304.6 328.6 L305.1 328.5 L305.6 327.8 L306.1 326.6 L306.6 325.1 L307.1 323.3 L307.6 321.6 L308.1 319.2 L308.6 316.6 L309.1 315.1 L309.6 315.5 L310.1 316.9 L310.6 318.2 L311.1 319.6 L311.6 320.7 L312.1 320.9 L312.6 320.5 L313.1 320 L313.6 319.4 L314.1 318.9 L314.6 318.5 L315.1 318 L315.6 317.6 L316.1 317.2 L316.6 316.8 L317.1 316.4 L317.6 316 L318.1 315.6 L318.6 315.2 L319.1 314.9 L319.6 314.7 L320.1 314.8 L320.6 315.3 L321.1 316.2 L321.6 317.3 L322.1 318.2 L322.6 319.1 L323.1 320.1 L323.6 320.9 L324.1 321.5 L324.6 321.7 L325.1 321.8 L325.6 321.9 L326.1 321.9 L326.6 322 L327.1 322 L327.6 322.1 L328.1 322.1 L328.6 322.2 L329.1 322.3 L329.6 322.3 L330.1 322.4 L330.6 322.5 L331.1 322.6 L331.6 322.7 L332.1 322.8 L332.6 322.9 L333.1 323 L333.6 323.1 L334.1 323.3 L334.6 323.4 L335.1 323.6 L335.6 323.7 L336.1 323.8 L336.6 323.8 L337.1 323.7 L337.6 323.5 L338.1 323.2 L338.6 322.8 L339.1 322.4 L339.6 321.9 L340.1 321.2 L340.6 320.3 L341.1 318.8 L341.6 316.7 L342.1 314 L342.6 311.1 L343.1 308 L343.6 304.8 L344.1 301.6 L344.6 298 L345.1 294.2 L345.6 290.1 L346.1 285.8 L346.6 281.5 L347.1 277.1 L347.6 272.6 L348.1 267.8 L348.6 262.8 L349.1 257.6 L349.6 252.4 L350.1 247.3 L350.6 242.5 L351.1 238 L351.6 233.9 L352.1 229.8 L352.6 225.8 L353.1 222.1 L353.6 218.7 L354.1 215.9 L354.6 213.6 L355.1 211.5 L355.6 209.5 L356.1 207.8 L356.6 206.4 L357.1 205.6 L357.6 205.5 L358.1 205.9 L358.6 206.6 L359.1 207.6 L359.6 208.7 L360.1 210 L360.6 211.3 L361.1 212.8 L361.6 214.8 L362.1 217.1 L362.6 219.5 L363.1 222.1 L363.6 224.8 L364.1 227.6 L364.6 230.8 L365.1 234.1 L365.6 237.6 L366.1 241.2 L366.6 244.8 L367.1 248.2 L367.6 251.6 L368.1 255.2 L368.6 258.8 L369.1 262.4 L369.6 265.9 L370.1 269.2 L370.6 272.3 L371.1 274.9 L371.6 277.3 L372.1 279.6 L372.6 281.7 L373.1 283.8 L373.6 285.6 L374.1 287.4 L374.6 289 L375.1 290.5 L375.6 292 L376.1 293.3 L376.6 294.7 L377.1 296 L377.6 297.2 L378.1 298.4 L378.6 299.5 L379.1 300.6 L379.6 301.6 L380.1 302.6 L380.6 303.5 L381.1 304.4 L381.6 305.2 L382.1 306 L382.6 306.8 L383.1 307.6 L383.6 308.4 L384.1 309.1 L384.6 309.8 L385.1 310.5 L385.6 311.1 L386.1 311.8 L386.6 312.4 L387.1 312.9 L387.6 313.5 L388.1 314 L388.6 314.5 L389.1 315 L389.6 315.4 L390.1 315.8 L390.6 316.2 L391.1 316.6 L391.6 317 L392.1 317.4 L392.6 317.7 L393.1 318.1 L393.6 318.4 L394.1 318.8 L394.6 319.1 L395.1 319.4 L395.6 319.7 L396.1 320 L396.6 320.3 L397.1 320.6 L397.6 320.9 L398.1 321.1 L398.6 321.4 L399.1 321.6 L399.6 321.8 L400.1 322.1 L400.6 322.3 L401.1 322.5 L401.6 322.7 L402.1 322.8 L402.6 323 L403.1 323.2 L403.6 323.3 L404.1 323.5 L404.6 323.7 L405.1 323.8 L405.6 324 L406.1 324.1 L406.6 324.3 L407.1 324.4 L407.6 324.6 L408.1 324.7 L408.6 324.9 L409.1 325 L409.6 325.1 L410.1 325.2 L410.6 325.4 L411.1 325.5 L411.6 325.6 L412.1 325.7 L412.6 325.8 L413.1 325.9 L413.6 326 L414.1 326.1 L414.6 326.2 L415.1 326.3 L415.6 326.4 L416.1 326.5 L416.6 326.6 L417.1 326.7 L417.6 326.7 L418.1 326.8 L418.6 326.9 L419.1 327 L419.6 327 L420.1 327.1 L420.6 327.2 L421.1 327.2 L421.6 327.3 L422.1 327.3 L422.6 327.4 L423.1 327.5 L423.6 327.5 L424.1 327.6 L424.6 327.6 L425.1 327.7 L425.6 327.8 L426.1 327.8 L426.6 327.9 L427.1 327.9 L427.6 328 L428.1 328 L428.6 328.1 L429.1 328.1 L429.6 328.2 L430.1 328.2 L430.6 328.3 L431.1 328.3 L431.6 328.3 L432.1 328.4 L432.6 328.4 L433.1 328.4 L433.6 328.5 L434.1 328.5 L434.6 328.5 L435.1 328.5 L435.6 328.6 L436.1 328.6 L436.6 328.6 L437.1 328.6 L437.6 328.6 L437.6 328.9Z" fill="url(#gdFL)"/>
<path d="M271.1 328.9 L271.1 329.3 L271.6 329.3 L272.1 329.3 L272.6 329.3 L273.1 329.3 L273.6 329.3 L274.1 329.3 L274.6 329.3 L275.1 329.3 L275.6 329.3 L276.1 329.3 L276.6 329.3 L277.1 329.3 L277.6 329.3 L278.1 329.3 L278.6 329.3 L279.1 329.3 L279.6 329.3 L280.1 329.3 L280.6 329.3 L281.1 329.3 L281.6 329.3 L282.1 329.3 L282.6 329.3 L283.1 329.3 L283.6 329.3 L284.1 329.3 L284.6 329.3 L285.1 329.3 L285.6 329.3 L286.1 329.3 L286.6 329.3 L287.1 329.3 L287.6 329.3 L288.1 329.3 L288.6 329.3 L289.1 329.3 L289.6 329.3 L290.1 329.3 L290.6 329.3 L291.1 329.3 L291.6 329.3 L292.1 329.3 L292.6 329.3 L293.1 329.3 L293.6 329.3 L294.1 329.3 L294.6 329.3 L295.1 329.3 L295.6 329.3 L296.1 329.3 L296.6 329.3 L297.1 329.3 L297.6 329.3 L298.1 329.3 L298.6 329.3 L299.1 329.3 L299.6 329.3 L300.1 329.3 L300.6 329.3 L301.1 329.2 L301.6 329 L302.1 328.8 L302.6 328.6 L303.1 328.3 L303.6 328 L304.1 327.7 L304.6 327.3 L305.1 326.9 L305.6 326.3 L306.1 325.4 L306.6 324.3 L307.1 323.1 L307.6 321.7 L308.1 319.3 L308.6 316.6 L309.1 315.1 L309.6 315.7 L310.1 317.8 L310.6 319.8 L311.1 320.5 L311.6 320.4 L312.1 320.3 L312.6 320.1 L313.1 320 L313.6 319.6 L314.1 319.2 L314.6 318.6 L315.1 318 L315.6 317.4 L316.1 316.8 L316.6 316.3 L317.1 315.9 L317.6 315.6 L318.1 315.3 L318.6 315.1 L319.1 314.8 L319.6 314.7 L320.1 314.8 L320.6 315.3 L321.1 316.2 L321.6 317.3 L322.1 318.2 L322.6 319 L323.1 319.9 L323.6 320.7 L324.1 321.4 L324.6 321.9 L325.1 322.3 L325.6 322.6 L326.1 322.9 L326.6 323.2 L327.1 323.5 L327.6 323.8 L328.1 324.1 L328.6 324.3 L329.1 324.6 L329.6 324.9 L330.1 325.1 L330.6 325.3 L331.1 325.6 L331.6 325.8 L332.1 326 L332.6 326.3 L333.1 326.5 L333.6 326.8 L334.1 327 L334.6 327.2 L335.1 327.4 L335.6 327.5 L336.1 327.7 L336.6 327.9 L337.1 328 L337.6 328.2 L338.1 328.3 L338.6 328.4 L339.1 328.5 L339.6 328.6 L340.1 328.6 L340.6 328.6 L341.1 328.6 L341.6 328.6 L342.1 328.6 L342.6 328.6 L343.1 328.6 L343.6 328.5 L344.1 328.5 L344.6 328.5 L345.1 328.5 L345.6 328.4 L346.1 328.1 L346.6 327.7 L347.1 327.2 L347.6 326.7 L348.1 326.1 L348.6 325.4 L349.1 324.8 L349.6 324 L350.1 323.2 L350.6 322.2 L351.1 320.9 L351.6 319.5 L352.1 317.8 L352.6 315.6 L353.1 311.5 L353.6 305.6 L354.1 298.7 L354.6 291.3 L355.1 283.6 L355.6 274 L356.1 263.5 L356.6 254 L357.1 247.1 L357.6 241.4 L358.1 236.2 L358.6 231.6 L359.1 227.5 L359.6 224.1 L360.1 221.2 L360.6 218.6 L361.1 216.3 L361.6 214.2 L362.1 212.4 L362.6 210.9 L363.1 209.8 L363.6 208.8 L364.1 207.8 L364.6 206.9 L365.1 206.1 L365.6 205.5 L366.1 205.1 L366.6 205 L367.1 205.3 L367.6 205.9 L368.1 206.8 L368.6 207.7 L369.1 208.8 L369.6 210.2 L370.1 211.8 L370.6 213.5 L371.1 215.3 L371.6 217.2 L372.1 219.3 L372.6 221.6 L373.1 224.1 L373.6 226.6 L374.1 229.2 L374.6 231.8 L375.1 234.5 L375.6 237.5 L376.1 240.6 L376.6 243.9 L377.1 247.3 L377.6 250.5 L378.1 253.7 L378.6 256.6 L379.1 259.3 L379.6 261.5 L380.1 263.4 L380.6 265.2 L381.1 266.9 L381.6 268.3 L382.1 269.6 L382.6 271.1 L383.1 272.5 L383.6 273.8 L384.1 275.1 L384.6 276.6 L385.1 278.4 L385.6 280 L386.1 281.2 L386.6 282.5 L387.1 284.6 L387.6 286.6 L388.1 287.8 L388.6 288.6 L389.1 289.4 L389.6 290.2 L390.1 291.3 L390.6 292.7 L391.1 294 L391.6 294.8 L392.1 295.5 L392.6 296.1 L393.1 296.6 L393.6 297.1 L394.1 297.4 L394.6 297.2 L395.1 297.1 L395.6 297.3 L396.1 297.8 L396.6 298.4 L397.1 298.6 L397.6 298.5 L398.1 299.1 L398.6 299.9 L399.1 300.6 L399.6 301.6 L400.1 302.8 L400.6 303.8 L401.1 304.2 L401.6 305.1 L402.1 306.5 L402.6 307.3 L403.1 307.5 L403.6 307.4 L404.1 307.3 L404.6 307.2 L405.1 307.3 L405.6 307.6 L406.1 307.7 L406.6 307.7 L407.1 307.8 L407.6 308.2 L408.1 308.7 L408.6 309.4 L409.1 310.1 L409.6 310.4 L410.1 310.8 L410.6 311 L411.1 311.2 L411.6 311.5 L412.1 311.5 L412.6 311.8 L413.1 312.3 L413.6 313.1 L414.1 314 L414.6 315 L415.1 315.4 L415.6 315.5 L416.1 315.7 L416.6 315.8 L417.1 316.2 L417.6 316.4 L418.1 316.4 L418.6 316.8 L419.1 317.2 L419.6 317.6 L420.1 318.2 L420.6 319.1 L421.1 319.3 L421.6 319.5 L422.1 320.3 L422.6 320.8 L423.1 320.8 L423.6 321.4 L424.1 321.8 L424.6 321.3 L425.1 321.4 L425.6 322.1 L426.1 322.4 L426.6 322.4 L427.1 322.6 L427.6 323 L428.1 323.5 L428.6 323.7 L429.1 323.3 L429.6 323 L430.1 323.6 L430.6 324 L431.1 324.1 L431.6 324.4 L432.1 324.6 L432.6 324.7 L433.1 325.1 L433.6 325.2 L434.1 325.2 L434.6 325.2 L435.1 324.9 L435.6 324.9 L436.1 324.9 L436.6 324.7 L437.1 324.7 L437.6 324.7 L437.6 328.9Z" fill="url(#gdRH)"/>
<path d="M271.1 328.9 L271.1 329.4 L271.6 329.4 L272.1 329.4 L272.6 329.4 L273.1 329.4 L273.6 329.4 L274.1 329.4 L274.6 329.4 L275.1 329.4 L275.6 329.4 L276.1 329.4 L276.6 329.4 L277.1 329.4 L277.6 329.4 L278.1 329.4 L278.6 329.4 L279.1 329.4 L279.6 329.4 L280.1 329.4 L280.6 329.4 L281.1 329.4 L281.6 329.4 L282.1 329.4 L282.6 329.4 L283.1 329.4 L283.6 329.4 L284.1 329.4 L284.6 329.4 L285.1 329.4 L285.6 329.4 L286.1 329.4 L286.6 329.4 L287.1 329.4 L287.6 329.4 L288.1 329.4 L288.6 329.4 L289.1 329.4 L289.6 329.4 L290.1 329.4 L290.6 329.4 L291.1 329.4 L291.6 329.4 L292.1 329.4 L292.6 329.4 L293.1 329.4 L293.6 329.4 L294.1 329.4 L294.6 329.4 L295.1 329.4 L295.6 329.4 L296.1 329.4 L296.6 329.4 L297.1 329.4 L297.6 329.4 L298.1 329.4 L298.6 329.4 L299.1 329.4 L299.6 329.4 L300.1 329.4 L300.6 329.4 L301.1 329.4 L301.6 329.4 L302.1 329.3 L302.6 329.2 L303.1 329 L303.6 328.9 L304.1 328.7 L304.6 328.5 L305.1 328.4 L305.6 328.2 L306.1 328 L306.6 327.6 L307.1 327.1 L307.6 326.5 L308.1 325.9 L308.6 325.5 L309.1 325.3 L309.6 325.3 L310.1 325.4 L310.6 325.5 L311.1 325.7 L311.6 325.8 L312.1 325.9 L312.6 326 L313.1 326 L313.6 325.9 L314.1 325.8 L314.6 325.6 L315.1 325.3 L315.6 325 L316.1 324.7 L316.6 324.5 L317.1 324.2 L317.6 323.9 L318.1 323.7 L318.6 323.6 L319.1 323.5 L319.6 323.6 L320.1 323.7 L320.6 324 L321.1 324.4 L321.6 324.7 L322.1 325.1 L322.6 325.5 L323.1 326 L323.6 326.5 L324.1 326.9 L324.6 327.2 L325.1 327.4 L325.6 327.5 L326.1 327.6 L326.6 327.7 L327.1 327.8 L327.6 327.9 L328.1 328 L328.6 328.1 L329.1 328.1 L329.6 328.2 L330.1 328.2 L330.6 328.3 L331.1 328.3 L331.6 328.4 L332.1 328.4 L332.6 328.4 L333.1 328.5 L333.6 328.5 L334.1 328.5 L334.6 328.5 L335.1 328.5 L335.6 328.5 L336.1 328.5 L336.6 328.5 L337.1 328.5 L337.6 328.5 L338.1 328.5 L338.6 328.5 L339.1 328.5 L339.6 328.5 L340.1 328.5 L340.6 328.5 L341.1 328.5 L341.6 328.5 L342.1 328.5 L342.6 328.5 L343.1 328.5 L343.6 328.5 L344.1 328.5 L344.6 328.5 L345.1 328.5 L345.6 328.5 L346.1 328.5 L346.6 328.5 L347.1 328.5 L347.6 328.5 L348.1 328.5 L348.6 328.5 L349.1 328.5 L349.6 328.5 L350.1 328.5 L350.6 328.5 L351.1 328.5 L351.6 328.5 L352.1 328.5 L352.6 328.5 L353.1 328.5 L353.6 328.4 L354.1 328.2 L354.6 328.1 L355.1 327.9 L355.6 327.7 L356.1 327.4 L356.6 327.1 L357.1 326.8 L357.6 326.5 L358.1 326.1 L358.6 325.8 L359.1 325.4 L359.6 325 L360.1 324.6 L360.6 324.2 L361.1 323.8 L361.6 323.4 L362.1 323 L362.6 322.6 L363.1 322.1 L363.6 321.7 L364.1 321.2 L364.6 320.6 L365.1 320.1 L365.6 319.5 L366.1 318.9 L366.6 318.2 L367.1 317.5 L367.6 316.8 L368.1 316 L368.6 315.2 L369.1 314.5 L369.6 313.7 L370.1 312.8 L370.6 311.8 L371.1 310.7 L371.6 309.2 L372.1 307.5 L372.6 304.8 L373.1 299.4 L373.6 292 L374.1 283.8 L374.6 275.8 L375.1 268.5 L375.6 260.5 L376.1 252.5 L376.6 244.9 L377.1 238.3 L377.6 232.8 L378.1 227.6 L378.6 222.8 L379.1 218.6 L379.6 215.1 L380.1 212.4 L380.6 209.8 L381.1 207.5 L381.6 205.8 L382.1 205 L382.6 205.2 L383.1 206 L383.6 207.1 L384.1 208.5 L384.6 209.9 L385.1 211.3 L385.6 212.6 L386.1 214.1 L386.6 215.7 L387.1 217.4 L387.6 219.2 L388.1 221.1 L388.6 223.1 L389.1 225.5 L389.6 228.1 L390.1 230.8 L390.6 233.8 L391.1 236.8 L391.6 239.8 L392.1 242.8 L392.6 245.7 L393.1 248.5 L393.6 251.2 L394.1 253.8 L394.6 256.4 L395.1 259 L395.6 261.5 L396.1 264 L396.6 266.5 L397.1 268.9 L397.6 271.2 L398.1 273.5 L398.6 275.7 L399.1 278 L399.6 280.3 L400.1 282.5 L400.6 284.7 L401.1 286.8 L401.6 288.8 L402.1 290.7 L402.6 292.3 L403.1 293.8 L403.6 295 L404.1 296.2 L404.6 297.3 L405.1 298.4 L405.6 299.4 L406.1 300.4 L406.6 301.3 L407.1 302.2 L407.6 303.1 L408.1 303.8 L408.6 304.6 L409.1 305.3 L409.6 305.9 L410.1 306.5 L410.6 307.2 L411.1 307.8 L411.6 308.4 L412.1 308.9 L412.6 309.6 L413.1 310.5 L413.6 311.1 L414.1 311.5 L414.6 311.9 L415.1 312.5 L415.6 313.1 L416.1 313.8 L416.6 314.4 L417.1 315 L417.6 315.5 L418.1 315.8 L418.6 315.9 L419.1 316.2 L419.6 316.6 L420.1 317 L420.6 317.5 L421.1 317.9 L421.6 318.2 L422.1 318.7 L422.6 319.5 L423.1 320 L423.6 320.2 L424.1 320.2 L424.6 320.4 L425.1 320.7 L425.6 320.7 L426.1 320.7 L426.6 321.2 L427.1 321.6 L427.6 321.7 L428.1 321.7 L428.6 321.7 L429.1 321.7 L429.6 321.9 L430.1 322 L430.6 321.9 L431.1 321.7 L431.6 321.7 L432.1 321.8 L432.6 321.9 L433.1 321.8 L433.6 321.8 L434.1 322.3 L434.6 322.8 L435.1 323.2 L435.6 323.3 L436.1 323.3 L436.6 323.5 L437.1 323.7 L437.6 323.8 L437.6 328.9Z" fill="url(#gdR6)"/>
<polyline points="271.1,329.3 271.6,329.3 272.1,329.3 272.6,329.3 273.1,329.3 273.6,329.3 274.1,329.3 274.6,329.3 275.1,329.3 275.6,329.3 276.1,329.3 276.6,329.3 277.1,329.2 277.6,329.2 278.1,329.2 278.6,329.2 279.1,329.2 279.6,329.2 280.1,329.2 280.6,329.2 281.1,329.1 281.6,329.1 282.1,329.1 282.6,329.1 283.1,329 283.6,329 284.1,329 284.6,328.8 285.1,328.6 285.6,328.4 286.1,328.3 286.6,328.3 287.1,328.3 287.6,328.3 288.1,328.3 288.6,328.3 289.1,328.3 289.6,328.3 290.1,328.3 290.6,328.3 291.1,328.3 291.6,328.3 292.1,328.3 292.6,328.3 293.1,328.3 293.6,328.3 294.1,328.3 294.6,328.3 295.1,328.4 295.6,328.4 296.1,328.5 296.6,328.6 297.1,328.7 297.6,328.8 298.1,328.8 298.6,328.9 299.1,329 299.6,329 300.1,329 300.6,329 301.1,329 301.6,329 302.1,328.9 302.6,328.9 303.1,328.8 303.6,328.8 304.1,328.7 304.6,328.6 305.1,328.5 305.6,327.8 306.1,326.6 306.6,325.1 307.1,323.3 307.6,321.6 308.1,319.2 308.6,316.6 309.1,315.1 309.6,315.5 310.1,316.9 310.6,318.2 311.1,319.6 311.6,320.7 312.1,320.9 312.6,320.5 313.1,320 313.6,319.4 314.1,318.9 314.6,318.5 315.1,318 315.6,317.6 316.1,317.2 316.6,316.8 317.1,316.4 317.6,316 318.1,315.6 318.6,315.2 319.1,314.9 319.6,314.7 320.1,314.8 320.6,315.3 321.1,316.2 321.6,317.3 322.1,318.2 322.6,319.1 323.1,320.1 323.6,320.9 324.1,321.5 324.6,321.7 325.1,321.8 325.6,321.9 326.1,321.9 326.6,322 327.1,322 327.6,322.1 328.1,322.1 328.6,322.2 329.1,322.3 329.6,322.3 330.1,322.4 330.6,322.5 331.1,322.6 331.6,322.7 332.1,322.8 332.6,322.9 333.1,323 333.6,323.1 334.1,323.3 334.6,323.4 335.1,323.6 335.6,323.7 336.1,323.8 336.6,323.8 337.1,323.7 337.6,323.5 338.1,323.2 338.6,322.8 339.1,322.4 339.6,321.9 340.1,321.2 340.6,320.3 341.1,318.8 341.6,316.7 342.1,314 342.6,311.1 343.1,308 343.6,304.8 344.1,301.6 344.6,298 345.1,294.2 345.6,290.1 346.1,285.8 346.6,281.5 347.1,277.1 347.6,272.6 348.1,267.8 348.6,262.8 349.1,257.6 349.6,252.4 350.1,247.3 350.6,242.5 351.1,238 351.6,233.9 352.1,229.8 352.6,225.8 353.1,222.1 353.6,218.7 354.1,215.9 354.6,213.6 355.1,211.5 355.6,209.5 356.1,207.8 356.6,206.4 357.1,205.6 357.6,205.5 358.1,205.9 358.6,206.6 359.1,207.6 359.6,208.7 360.1,210 360.6,211.3 361.1,212.8 361.6,214.8 362.1,217.1 362.6,219.5 363.1,222.1 363.6,224.8 364.1,227.6 364.6,230.8 365.1,234.1 365.6,237.6 366.1,241.2 366.6,244.8 367.1,248.2 367.6,251.6 368.1,255.2 368.6,258.8 369.1,262.4 369.6,265.9 370.1,269.2 370.6,272.3 371.1,274.9 371.6,277.3 372.1,279.6 372.6,281.7 373.1,283.8 373.6,285.6 374.1,287.4 374.6,289 375.1,290.5 375.6,292 376.1,293.3 376.6,294.7 377.1,296 377.6,297.2 378.1,298.4 378.6,299.5 379.1,300.6 379.6,301.6 380.1,302.6 380.6,303.5 381.1,304.4 381.6,305.2 382.1,306 382.6,306.8 383.1,307.6 383.6,308.4 384.1,309.1 384.6,309.8 385.1,310.5 385.6,311.1 386.1,311.8 386.6,312.4 387.1,312.9 387.6,313.5 388.1,314 388.6,314.5 389.1,315 389.6,315.4 390.1,315.8 390.6,316.2 391.1,316.6 391.6,317 392.1,317.4 392.6,317.7 393.1,318.1 393.6,318.4 394.1,318.8 394.6,319.1 395.1,319.4 395.6,319.7 396.1,320 396.6,320.3 397.1,320.6 397.6,320.9 398.1,321.1 398.6,321.4 399.1,321.6 399.6,321.8 400.1,322.1 400.6,322.3 401.1,322.5 401.6,322.7 402.1,322.8 402.6,323 403.1,323.2 403.6,323.3 404.1,323.5 404.6,323.7 405.1,323.8 405.6,324 406.1,324.1 406.6,324.3 407.1,324.4 407.6,324.6 408.1,324.7 408.6,324.9 409.1,325 409.6,325.1 410.1,325.2 410.6,325.4 411.1,325.5 411.6,325.6 412.1,325.7 412.6,325.8 413.1,325.9 413.6,326 414.1,326.1 414.6,326.2 415.1,326.3 415.6,326.4 416.1,326.5 416.6,326.6 417.1,326.7 417.6,326.7 418.1,326.8 418.6,326.9 419.1,327 419.6,327 420.1,327.1 420.6,327.2 421.1,327.2 421.6,327.3 422.1,327.3 422.6,327.4 423.1,327.5 423.6,327.5 424.1,327.6 424.6,327.6 425.1,327.7 425.6,327.8 426.1,327.8 426.6,327.9 427.1,327.9 427.6,328 428.1,328 428.6,328.1 429.1,328.1 429.6,328.2 430.1,328.2 430.6,328.3 431.1,328.3 431.6,328.3 432.1,328.4 432.6,328.4 433.1,328.4 433.6,328.5 434.1,328.5 434.6,328.5 435.1,328.5 435.6,328.6 436.1,328.6 436.6,328.6 437.1,328.6 437.6,328.6" fill="none" stroke="#1ea7f0" stroke-width="1.2" stroke-linejoin="round"/>
<polyline points="271.1,329.3 271.6,329.3 272.1,329.3 272.6,329.3 273.1,329.3 273.6,329.3 274.1,329.3 274.6,329.3 275.1,329.3 275.6,329.3 276.1,329.3 276.6,329.3 277.1,329.3 277.6,329.3 278.1,329.3 278.6,329.3 279.1,329.3 279.6,329.3 280.1,329.3 280.6,329.3 281.1,329.3 281.6,329.3 282.1,329.3 282.6,329.3 283.1,329.3 283.6,329.3 284.1,329.3 284.6,329.3 285.1,329.3 285.6,329.3 286.1,329.3 286.6,329.3 287.1,329.3 287.6,329.3 288.1,329.3 288.6,329.3 289.1,329.3 289.6,329.3 290.1,329.3 290.6,329.3 291.1,329.3 291.6,329.3 292.1,329.3 292.6,329.3 293.1,329.3 293.6,329.3 294.1,329.3 294.6,329.3 295.1,329.3 295.6,329.3 296.1,329.3 296.6,329.3 297.1,329.3 297.6,329.3 298.1,329.3 298.6,329.3 299.1,329.3 299.6,329.3 300.1,329.3 300.6,329.3 301.1,329.2 301.6,329 302.1,328.8 302.6,328.6 303.1,328.3 303.6,328 304.1,327.7 304.6,327.3 305.1,326.9 305.6,326.3 306.1,325.4 306.6,324.3 307.1,323.1 307.6,321.7 308.1,319.3 308.6,316.6 309.1,315.1 309.6,315.7 310.1,317.8 310.6,319.8 311.1,320.5 311.6,320.4 312.1,320.3 312.6,320.1 313.1,320 313.6,319.6 314.1,319.2 314.6,318.6 315.1,318 315.6,317.4 316.1,316.8 316.6,316.3 317.1,315.9 317.6,315.6 318.1,315.3 318.6,315.1 319.1,314.8 319.6,314.7 320.1,314.8 320.6,315.3 321.1,316.2 321.6,317.3 322.1,318.2 322.6,319 323.1,319.9 323.6,320.7 324.1,321.4 324.6,321.9 325.1,322.3 325.6,322.6 326.1,322.9 326.6,323.2 327.1,323.5 327.6,323.8 328.1,324.1 328.6,324.3 329.1,324.6 329.6,324.9 330.1,325.1 330.6,325.3 331.1,325.6 331.6,325.8 332.1,326 332.6,326.3 333.1,326.5 333.6,326.8 334.1,327 334.6,327.2 335.1,327.4 335.6,327.5 336.1,327.7 336.6,327.9 337.1,328 337.6,328.2 338.1,328.3 338.6,328.4 339.1,328.5 339.6,328.6 340.1,328.6 340.6,328.6 341.1,328.6 341.6,328.6 342.1,328.6 342.6,328.6 343.1,328.6 343.6,328.5 344.1,328.5 344.6,328.5 345.1,328.5 345.6,328.4 346.1,328.1 346.6,327.7 347.1,327.2 347.6,326.7 348.1,326.1 348.6,325.4 349.1,324.8 349.6,324 350.1,323.2 350.6,322.2 351.1,320.9 351.6,319.5 352.1,317.8 352.6,315.6 353.1,311.5 353.6,305.6 354.1,298.7 354.6,291.3 355.1,283.6 355.6,274 356.1,263.5 356.6,254 357.1,247.1 357.6,241.4 358.1,236.2 358.6,231.6 359.1,227.5 359.6,224.1 360.1,221.2 360.6,218.6 361.1,216.3 361.6,214.2 362.1,212.4 362.6,210.9 363.1,209.8 363.6,208.8 364.1,207.8 364.6,206.9 365.1,206.1 365.6,205.5 366.1,205.1 366.6,205 367.1,205.3 367.6,205.9 368.1,206.8 368.6,207.7 369.1,208.8 369.6,210.2 370.1,211.8 370.6,213.5 371.1,215.3 371.6,217.2 372.1,219.3 372.6,221.6 373.1,224.1 373.6,226.6 374.1,229.2 374.6,231.8 375.1,234.5 375.6,237.5 376.1,240.6 376.6,243.9 377.1,247.3 377.6,250.5 378.1,253.7 378.6,256.6 379.1,259.3 379.6,261.5 380.1,263.4 380.6,265.2 381.1,266.9 381.6,268.3 382.1,269.6 382.6,271.1 383.1,272.5 383.6,273.8 384.1,275.1 384.6,276.6 385.1,278.4 385.6,280 386.1,281.2 386.6,282.5 387.1,284.6 387.6,286.6 388.1,287.8 388.6,288.6 389.1,289.4 389.6,290.2 390.1,291.3 390.6,292.7 391.1,294 391.6,294.8 392.1,295.5 392.6,296.1 393.1,296.6 393.6,297.1 394.1,297.4 394.6,297.2 395.1,297.1 395.6,297.3 396.1,297.8 396.6,298.4 397.1,298.6 397.6,298.5 398.1,299.1 398.6,299.9 399.1,300.6 399.6,301.6 400.1,302.8 400.6,303.8 401.1,304.2 401.6,305.1 402.1,306.5 402.6,307.3 403.1,307.5 403.6,307.4 404.1,307.3 404.6,307.2 405.1,307.3 405.6,307.6 406.1,307.7 406.6,307.7 407.1,307.8 407.6,308.2 408.1,308.7 408.6,309.4 409.1,310.1 409.6,310.4 410.1,310.8 410.6,311 411.1,311.2 411.6,311.5 412.1,311.5 412.6,311.8 413.1,312.3 413.6,313.1 414.1,314 414.6,315 415.1,315.4 415.6,315.5 416.1,315.7 416.6,315.8 417.1,316.2 417.6,316.4 418.1,316.4 418.6,316.8 419.1,317.2 419.6,317.6 420.1,318.2 420.6,319.1 421.1,319.3 421.6,319.5 422.1,320.3 422.6,320.8 423.1,320.8 423.6,321.4 424.1,321.8 424.6,321.3 425.1,321.4 425.6,322.1 426.1,322.4 426.6,322.4 427.1,322.6 427.6,323 428.1,323.5 428.6,323.7 429.1,323.3 429.6,323 430.1,323.6 430.6,324 431.1,324.1 431.6,324.4 432.1,324.6 432.6,324.7 433.1,325.1 433.6,325.2 434.1,325.2 434.6,325.2 435.1,324.9 435.6,324.9 436.1,324.9 436.6,324.7 437.1,324.7 437.6,324.7" fill="none" stroke="#6b4c9a" stroke-width="1.2" stroke-linejoin="round"/>
<polyline points="271.1,329.4 271.6,329.4 272.1,329.4 272.6,329.4 273.1,329.4 273.6,329.4 274.1,329.4 274.6,329.4 275.1,329.4 275.6,329.4 276.1,329.4 276.6,329.4 277.1,329.4 277.6,329.4 278.1,329.4 278.6,329.4 279.1,329.4 279.6,329.4 280.1,329.4 280.6,329.4 281.1,329.4 281.6,329.4 282.1,329.4 282.6,329.4 283.1,329.4 283.6,329.4 284.1,329.4 284.6,329.4 285.1,329.4 285.6,329.4 286.1,329.4 286.6,329.4 287.1,329.4 287.6,329.4 288.1,329.4 288.6,329.4 289.1,329.4 289.6,329.4 290.1,329.4 290.6,329.4 291.1,329.4 291.6,329.4 292.1,329.4 292.6,329.4 293.1,329.4 293.6,329.4 294.1,329.4 294.6,329.4 295.1,329.4 295.6,329.4 296.1,329.4 296.6,329.4 297.1,329.4 297.6,329.4 298.1,329.4 298.6,329.4 299.1,329.4 299.6,329.4 300.1,329.4 300.6,329.4 301.1,329.4 301.6,329.4 302.1,329.3 302.6,329.2 303.1,329 303.6,328.9 304.1,328.7 304.6,328.5 305.1,328.4 305.6,328.2 306.1,328 306.6,327.6 307.1,327.1 307.6,326.5 308.1,325.9 308.6,325.5 309.1,325.3 309.6,325.3 310.1,325.4 310.6,325.5 311.1,325.7 311.6,325.8 312.1,325.9 312.6,326 313.1,326 313.6,325.9 314.1,325.8 314.6,325.6 315.1,325.3 315.6,325 316.1,324.7 316.6,324.5 317.1,324.2 317.6,323.9 318.1,323.7 318.6,323.6 319.1,323.5 319.6,323.6 320.1,323.7 320.6,324 321.1,324.4 321.6,324.7 322.1,325.1 322.6,325.5 323.1,326 323.6,326.5 324.1,326.9 324.6,327.2 325.1,327.4 325.6,327.5 326.1,327.6 326.6,327.7 327.1,327.8 327.6,327.9 328.1,328 328.6,328.1 329.1,328.1 329.6,328.2 330.1,328.2 330.6,328.3 331.1,328.3 331.6,328.4 332.1,328.4 332.6,328.4 333.1,328.5 333.6,328.5 334.1,328.5 334.6,328.5 335.1,328.5 335.6,328.5 336.1,328.5 336.6,328.5 337.1,328.5 337.6,328.5 338.1,328.5 338.6,328.5 339.1,328.5 339.6,328.5 340.1,328.5 340.6,328.5 341.1,328.5 341.6,328.5 342.1,328.5 342.6,328.5 343.1,328.5 343.6,328.5 344.1,328.5 344.6,328.5 345.1,328.5 345.6,328.5 346.1,328.5 346.6,328.5 347.1,328.5 347.6,328.5 348.1,328.5 348.6,328.5 349.1,328.5 349.6,328.5 350.1,328.5 350.6,328.5 351.1,328.5 351.6,328.5 352.1,328.5 352.6,328.5 353.1,328.5 353.6,328.4 354.1,328.2 354.6,328.1 355.1,327.9 355.6,327.7 356.1,327.4 356.6,327.1 357.1,326.8 357.6,326.5 358.1,326.1 358.6,325.8 359.1,325.4 359.6,325 360.1,324.6 360.6,324.2 361.1,323.8 361.6,323.4 362.1,323 362.6,322.6 363.1,322.1 363.6,321.7 364.1,321.2 364.6,320.6 365.1,320.1 365.6,319.5 366.1,318.9 366.6,318.2 367.1,317.5 367.6,316.8 368.1,316 368.6,315.2 369.1,314.5 369.6,313.7 370.1,312.8 370.6,311.8 371.1,310.7 371.6,309.2 372.1,307.5 372.6,304.8 373.1,299.4 373.6,292 374.1,283.8 374.6,275.8 375.1,268.5 375.6,260.5 376.1,252.5 376.6,244.9 377.1,238.3 377.6,232.8 378.1,227.6 378.6,222.8 379.1,218.6 379.6,215.1 380.1,212.4 380.6,209.8 381.1,207.5 381.6,205.8 382.1,205 382.6,205.2 383.1,206 383.6,207.1 384.1,208.5 384.6,209.9 385.1,211.3 385.6,212.6 386.1,214.1 386.6,215.7 387.1,217.4 387.6,219.2 388.1,221.1 388.6,223.1 389.1,225.5 389.6,228.1 390.1,230.8 390.6,233.8 391.1,236.8 391.6,239.8 392.1,242.8 392.6,245.7 393.1,248.5 393.6,251.2 394.1,253.8 394.6,256.4 395.1,259 395.6,261.5 396.1,264 396.6,266.5 397.1,268.9 397.6,271.2 398.1,273.5 398.6,275.7 399.1,278 399.6,280.3 400.1,282.5 400.6,284.7 401.1,286.8 401.6,288.8 402.1,290.7 402.6,292.3 403.1,293.8 403.6,295 404.1,296.2 404.6,297.3 405.1,298.4 405.6,299.4 406.1,300.4 406.6,301.3 407.1,302.2 407.6,303.1 408.1,303.8 408.6,304.6 409.1,305.3 409.6,305.9 410.1,306.5 410.6,307.2 411.1,307.8 411.6,308.4 412.1,308.9 412.6,309.6 413.1,310.5 413.6,311.1 414.1,311.5 414.6,311.9 415.1,312.5 415.6,313.1 416.1,313.8 416.6,314.4 417.1,315 417.6,315.5 418.1,315.8 418.6,315.9 419.1,316.2 419.6,316.6 420.1,317 420.6,317.5 421.1,317.9 421.6,318.2 422.1,318.7 422.6,319.5 423.1,320 423.6,320.2 424.1,320.2 424.6,320.4 425.1,320.7 425.6,320.7 426.1,320.7 426.6,321.2 427.1,321.6 427.6,321.7 428.1,321.7 428.6,321.7 429.1,321.7 429.6,321.9 430.1,322 430.6,321.9 431.1,321.7 431.6,321.7 432.1,321.8 432.6,321.9 433.1,321.8 433.6,321.8 434.1,322.3 434.6,322.8 435.1,323.2 435.6,323.3 436.1,323.3 436.6,323.5 437.1,323.7 437.6,323.8" fill="none" stroke="#f0323c" stroke-width="1.2" stroke-linejoin="round"/>
<rect x="271.1" y="192.7" width="166.79999999999995" height="137.8" fill="none" stroke="#231f20" stroke-width="1.1"/>
<line x1="268.9" y1="328.9" x2="271.1" y2="328.9" stroke="#231f20" stroke-width="1"/>
<text x="265.4" y="332.7" font-size="10.6" text-anchor="end" fill="#231f20">0.0</text>
<line x1="269.9" y1="316.5" x2="271.1" y2="316.5" stroke="#231f20" stroke-width="1"/>
<line x1="268.9" y1="304.2" x2="271.1" y2="304.2" stroke="#231f20" stroke-width="1"/>
<text x="265.4" y="308" font-size="10.6" text-anchor="end" fill="#231f20">0.2</text>
<line x1="269.9" y1="291.8" x2="271.1" y2="291.8" stroke="#231f20" stroke-width="1"/>
<line x1="268.9" y1="279.5" x2="271.1" y2="279.5" stroke="#231f20" stroke-width="1"/>
<text x="265.4" y="283.3" font-size="10.6" text-anchor="end" fill="#231f20">0.4</text>
<line x1="269.9" y1="267.1" x2="271.1" y2="267.1" stroke="#231f20" stroke-width="1"/>
<line x1="268.9" y1="254.7" x2="271.1" y2="254.7" stroke="#231f20" stroke-width="1"/>
<text x="265.4" y="258.5" font-size="10.6" text-anchor="end" fill="#231f20">0.6</text>
<line x1="269.9" y1="242.4" x2="271.1" y2="242.4" stroke="#231f20" stroke-width="1"/>
<line x1="268.9" y1="230" x2="271.1" y2="230" stroke="#231f20" stroke-width="1"/>
<text x="265.4" y="233.8" font-size="10.6" text-anchor="end" fill="#231f20">0.8</text>
<line x1="269.9" y1="217.7" x2="271.1" y2="217.7" stroke="#231f20" stroke-width="1"/>
<line x1="268.9" y1="205.3" x2="271.1" y2="205.3" stroke="#231f20" stroke-width="1"/>
<text x="265.4" y="209.1" font-size="10.6" text-anchor="end" fill="#231f20">1.0</text>
<line x1="284.2" y1="330.5" x2="284.2" y2="332.8" stroke="#231f20" stroke-width="1"/>
<text x="284.2" y="345.6" font-size="10.6" text-anchor="middle" fill="#231f20">350</text>
<line x1="303.1" y1="330.5" x2="303.1" y2="331.8" stroke="#231f20" stroke-width="1"/>
<line x1="322" y1="330.5" x2="322" y2="332.8" stroke="#231f20" stroke-width="1"/>
<text x="322" y="345.6" font-size="10.6" text-anchor="middle" fill="#231f20">450</text>
<line x1="340.9" y1="330.5" x2="340.9" y2="331.8" stroke="#231f20" stroke-width="1"/>
<line x1="359.8" y1="330.5" x2="359.8" y2="332.8" stroke="#231f20" stroke-width="1"/>
<text x="359.8" y="345.6" font-size="10.6" text-anchor="middle" fill="#231f20">550</text>
<line x1="378.7" y1="330.5" x2="378.7" y2="331.8" stroke="#231f20" stroke-width="1"/>
<line x1="397.6" y1="330.5" x2="397.6" y2="332.8" stroke="#231f20" stroke-width="1"/>
<text x="397.6" y="345.6" font-size="10.6" text-anchor="middle" fill="#231f20">650</text>
<line x1="416.5" y1="330.5" x2="416.5" y2="331.8" stroke="#231f20" stroke-width="1"/>
<line x1="435.4" y1="330.5" x2="435.4" y2="332.8" stroke="#231f20" stroke-width="1"/>
<text x="435.4" y="345.6" font-size="10.6" text-anchor="middle" fill="#231f20">750</text>
<text x="353.6" y="357.6" font-size="10.6" text-anchor="middle" fill="#231f20">Wavelength (nm)</text>
<text x="242.5" y="261.2" font-size="10.6" text-anchor="middle" fill="#231f20" transform="rotate(-90 242.5 261.2)">Intensity (arb.units)</text>
<text x="279.3" y="211" font-size="10.6" text-anchor="start" fill="#231f20">λ</text>
<text x="284.6" y="214.6" font-size="6.6" text-anchor="start" fill="#231f20">ex</text>
<text x="292.9" y="211" font-size="10.6" text-anchor="start" fill="#231f20">=299 nm</text>
<line x1="279.5" y1="221.2" x2="297.4" y2="221.2" stroke="#1ea7f0" stroke-width="1.4"/>
<text x="303.5" y="224.5" font-size="10.6" text-anchor="start" fill="#231f20">Fluc</text>
<line x1="279.5" y1="237.4" x2="297.4" y2="237.4" stroke="#6b4c9a" stroke-width="1.4"/>
<text x="303.5" y="240.7" font-size="10.6" text-anchor="start" fill="#231f20">Rh123</text>
<line x1="279.5" y1="253.5" x2="297.4" y2="253.5" stroke="#f0323c" stroke-width="1.4"/>
<text x="303.5" y="256.8" font-size="10.6" text-anchor="start" fill="#231f20">Rh6G</text>
<text x="469.3" y="192.6" font-size="10" text-anchor="start" fill="#000" font-weight="bold">e</text>
<line x1="524.5" y1="193.8" x2="524.5" y2="330.3" stroke="#6a6a6a" stroke-width="0.8" stroke-dasharray="1.7 1.6"/>
<line x1="542.5" y1="193.8" x2="542.5" y2="330.3" stroke="#6a6a6a" stroke-width="0.8" stroke-dasharray="1.7 1.6"/>
<line x1="559.5" y1="193.8" x2="559.5" y2="330.3" stroke="#6a6a6a" stroke-width="0.8" stroke-dasharray="1.7 1.6"/>
<line x1="576.5" y1="193.8" x2="576.5" y2="330.3" stroke="#6a6a6a" stroke-width="0.8" stroke-dasharray="1.7 1.6"/>
<line x1="593.5" y1="193.8" x2="593.5" y2="330.3" stroke="#6a6a6a" stroke-width="0.8" stroke-dasharray="1.7 1.6"/>
<line x1="610.5" y1="193.8" x2="610.5" y2="330.3" stroke="#6a6a6a" stroke-width="0.8" stroke-dasharray="1.7 1.6"/>
<line x1="627.5" y1="193.8" x2="627.5" y2="330.3" stroke="#6a6a6a" stroke-width="0.8" stroke-dasharray="1.7 1.6"/>
<line x1="644.5" y1="193.8" x2="644.5" y2="330.3" stroke="#6a6a6a" stroke-width="0.8" stroke-dasharray="1.7 1.6"/>
<line x1="662.5" y1="193.8" x2="662.5" y2="330.3" stroke="#6a6a6a" stroke-width="0.8" stroke-dasharray="1.7 1.6"/>
<line x1="506.1" y1="326.5" x2="670.8" y2="326.5" stroke="#6a6a6a" stroke-width="0.8" stroke-dasharray="1.7 1.6"/>
<line x1="506.1" y1="311.5" x2="670.8" y2="311.5" stroke="#6a6a6a" stroke-width="0.8" stroke-dasharray="1.7 1.6"/>
<line x1="506.1" y1="296.5" x2="670.8" y2="296.5" stroke="#6a6a6a" stroke-width="0.8" stroke-dasharray="1.7 1.6"/>
<line x1="506.1" y1="281.5" x2="670.8" y2="281.5" stroke="#6a6a6a" stroke-width="0.8" stroke-dasharray="1.7 1.6"/>
<line x1="506.1" y1="266.5" x2="670.8" y2="266.5" stroke="#6a6a6a" stroke-width="0.8" stroke-dasharray="1.7 1.6"/>
<line x1="506.1" y1="251.5" x2="670.8" y2="251.5" stroke="#6a6a6a" stroke-width="0.8" stroke-dasharray="1.7 1.6"/>
<line x1="506.1" y1="236.5" x2="670.8" y2="236.5" stroke="#6a6a6a" stroke-width="0.8" stroke-dasharray="1.7 1.6"/>
<line x1="506.1" y1="221.5" x2="670.8" y2="221.5" stroke="#6a6a6a" stroke-width="0.8" stroke-dasharray="1.7 1.6"/>
<line x1="506.1" y1="206.5" x2="670.8" y2="206.5" stroke="#6a6a6a" stroke-width="0.8" stroke-dasharray="1.7 1.6"/>
<g clip-path="url(#locclip)"><g filter="url(#blur1)">
<path d="M533.5 199.9h12.8v2.8h-12.8zM531 202.4h20.3v2.8h-20.3zM531 204.9h7.8v2.8h-7.8zM543.5 204.9h12.8v2.8h-12.8zM551 207.4h10.3v2.8h-10.3zM556 209.9h7.8v2.8h-7.8zM561 212.4h7.8v2.8h-7.8zM563.5 214.9h7.8v2.8h-7.8zM568.5 217.4h5.3v2.8h-5.3zM571 219.9h5.3v2.8h-5.3zM573.5 222.4h2.8v2.8h-2.8z" fill="#0f0"/>
<path d="M528.5 204.9h2.8v2.8h-2.8zM531 207.4h2.8v2.8h-2.8z" fill="#0f1"/>
<path d="M538.5 204.9h5.3v2.8h-5.3zM533.5 207.4h17.8v2.8h-17.8zM533.5 209.9h22.8v2.8h-22.8zM536 212.4h5.3v2.8h-5.3zM551 212.4h10.3v2.8h-10.3zM556 214.9h7.8v2.8h-7.8zM561 217.4h7.8v2.8h-7.8zM563.5 219.9h7.8v2.8h-7.8zM568.5 222.4h5.3v2.8h-5.3zM571 224.9h7.8v2.8h-7.8zM573.5 227.4h5.3v2.8h-5.3z" fill="#1f1"/>
<path d="M528.5 207.4h2.8v2.8h-2.8zM531 209.9h2.8v2.8h-2.8z" fill="#0f2"/>
<path d="M526 209.9h5.3v2.8h-5.3zM528.5 212.4h2.8v2.8h-2.8z" fill="#0f3"/>
<path d="M526 212.4h2.8v2.8h-2.8zM528.5 214.9h2.8v2.8h-2.8z" fill="#0f4"/>
<path d="M531 212.4h2.8v2.8h-2.8zM533.5 214.9h2.8v2.8h-2.8z" fill="#1f3"/>
<path d="M533.5 212.4h2.8v2.8h-2.8zM536 214.9h2.8v2.8h-2.8z" fill="#1f2"/>
<path d="M541 212.4h10.3v2.8h-10.3zM538.5 214.9h17.8v2.8h-17.8zM538.5 217.4h22.8v2.8h-22.8zM541 219.9h2.8v2.8h-2.8zM556 219.9h7.8v2.8h-7.8zM561 222.4h7.8v2.8h-7.8zM563.5 224.9h7.8v2.8h-7.8zM568.5 227.4h5.3v2.8h-5.3zM571 229.9h7.8v2.8h-7.8zM576 232.4h2.8v2.8h-2.8z" fill="#2f2"/>
<path d="M526 214.9h2.8v2.8h-2.8zM523.5 217.4h5.3v2.8h-5.3z" fill="#0f5"/>
<path d="M531 214.9h2.8v2.8h-2.8zM531 217.4h5.3v2.8h-5.3z" fill="#1f4"/>
<path d="M528.5 217.4h2.8v2.8h-2.8zM528.5 219.9h7.8v2.8h-7.8z" fill="#1f5"/>
<path d="M536 217.4h2.8v2.8h-2.8zM538.5 219.9h2.8v2.8h-2.8z" fill="#2f3"/>
<path d="M523.5 219.9h5.3v2.8h-5.3zM523.5 222.4h5.3v2.8h-5.3zM526 224.9h2.8v2.8h-2.8z" fill="#0f6"/>
<path d="M536 219.9h2.8v2.8h-2.8zM538.5 222.4h2.8v2.8h-2.8z" fill="#2f4"/>
<path d="M543.5 219.9h12.8v2.8h-12.8zM541 222.4h20.3v2.8h-20.3zM543.5 224.9h5.3v2.8h-5.3zM556 224.9h7.8v2.8h-7.8zM561 227.4h7.8v2.8h-7.8zM566 229.9h5.3v2.8h-5.3zM568.5 232.4h7.8v2.8h-7.8zM573.5 234.9h5.3v2.8h-5.3zM576 237.4h2.8v2.8h-2.8z" fill="#3f3"/>
<path d="M576 219.9h2.8v2.8h-2.8zM576 222.4h2.8v2.8h-2.8z" fill="#1f0"/>
<path d="M528.5 222.4h5.3v2.8h-5.3zM528.5 224.9h5.3v2.8h-5.3z" fill="#1f6"/>
<path d="M533.5 222.4h2.8v2.8h-2.8zM533.5 224.9h5.3v2.8h-5.3zM533.5 227.4h5.3v2.8h-5.3z" fill="#2f6"/>
<path d="M536 222.4h2.8v2.8h-2.8zM538.5 224.9h2.8v2.8h-2.8z" fill="#2f5"/>
<path d="M578.5 222.4h2.8v2.8h-2.8zM578.5 224.9h2.8v2.8h-2.8z" fill="#3f0"/>
<path d="M523.5 224.9h2.8v2.8h-2.8zM523.5 227.4h5.3v2.8h-5.3zM523.5 229.9h5.3v2.8h-5.3z" fill="#0f7"/>
<path d="M541 224.9h2.8v2.8h-2.8zM543.5 227.4h2.8v2.8h-2.8z" fill="#3f4"/>
<path d="M548.5 224.9h7.8v2.8h-7.8zM546 227.4h15.3v2.8h-15.3zM546 229.9h20.3v2.8h-20.3zM561 232.4h7.8v2.8h-7.8zM566 234.9h7.8v2.8h-7.8zM571 237.4h5.3v2.8h-5.3zM573.5 239.9h5.3v2.8h-5.3zM576 242.4h2.8v2.8h-2.8z" fill="#4f4"/>
<path d="M581 224.9h2.8v2.8h-2.8z" fill="#4f0"/>
<path d="M528.5 227.4h5.3v2.8h-5.3zM528.5 229.9h5.3v2.8h-5.3z" fill="#1f7"/>
<path d="M538.5 227.4h2.8v2.8h-2.8zM541 229.9h2.8v2.8h-2.8z" fill="#3f6"/>
<path d="M541 227.4h2.8v2.8h-2.8z" fill="#3f5"/>
<path d="M578.5 227.4h2.8v2.8h-2.8z" fill="#3f1"/>
<path d="M581 227.4h2.8v2.8h-2.8z" fill="#5f0"/>
<path d="M583.5 227.4h2.8v2.8h-2.8zM583.5 229.9h2.8v2.8h-2.8z" fill="#6f0"/>
<path d="M533.5 229.9h5.3v2.8h-5.3zM533.5 232.4h5.3v2.8h-5.3z" fill="#2f7"/>
<path d="M538.5 229.9h2.8v2.8h-2.8zM538.5 232.4h5.3v2.8h-5.3zM541 234.9h2.8v2.8h-2.8z" fill="#3f7"/>
<path d="M543.5 229.9h2.8v2.8h-2.8zM546 232.4h2.8v2.8h-2.8z" fill="#4f5"/>
<path d="M578.5 229.9h2.8v2.8h-2.8z" fill="#4f1"/>
<path d="M581 229.9h2.8v2.8h-2.8z" fill="#5f1"/>
<path d="M586 229.9h2.8v2.8h-2.8zM586 232.4h2.8v2.8h-2.8z" fill="#8f0"/>
<path d="M523.5 232.4h5.3v2.8h-5.3zM523.5 234.9h5.3v2.8h-5.3zM526 237.4h2.8v2.8h-2.8z" fill="#0f8"/>
<path d="M528.5 232.4h5.3v2.8h-5.3zM528.5 234.9h5.3v2.8h-5.3zM528.5 237.4h5.3v2.8h-5.3z" fill="#1f8"/>
<path d="M543.5 232.4h2.8v2.8h-2.8zM546 234.9h2.8v2.8h-2.8z" fill="#4f6"/>
<path d="M548.5 232.4h12.8v2.8h-12.8zM551 234.9h15.3v2.8h-15.3zM561 237.4h10.3v2.8h-10.3zM566 239.9h7.8v2.8h-7.8zM571 242.4h5.3v2.8h-5.3zM573.5 244.9h5.3v2.8h-5.3z" fill="#5f5"/>
<path d="M578.5 232.4h2.8v2.8h-2.8z" fill="#4f2"/>
<path d="M581 232.4h2.8v2.8h-2.8z" fill="#6f1"/>
<path d="M583.5 232.4h2.8v2.8h-2.8zM583.5 234.9h2.8v2.8h-2.8z" fill="#7f1"/>
<path d="M588.5 232.4h2.8v2.8h-2.8z" fill="#9f0"/>
<path d="M591 232.4h2.8v2.8h-2.8zM588.5 234.9h2.8v2.8h-2.8z" fill="#af0"/>
<path d="M533.5 234.9h5.3v2.8h-5.3zM533.5 237.4h5.3v2.8h-5.3z" fill="#2f8"/>
<path d="M538.5 234.9h2.8v2.8h-2.8zM538.5 237.4h5.3v2.8h-5.3zM538.5 239.9h2.8v2.8h-2.8z" fill="#3f8"/>
<path d="M543.5 234.9h2.8v2.8h-2.8zM546 237.4h2.8v2.8h-2.8z" fill="#4f7"/>
<path d="M548.5 234.9h2.8v2.8h-2.8zM551 237.4h2.8v2.8h-2.8z" fill="#5f6"/>
<path d="M578.5 234.9h2.8v2.8h-2.8z" fill="#5f2"/>
<path d="M581 234.9h2.8v2.8h-2.8z" fill="#6f2"/>
<path d="M586 234.9h2.8v2.8h-2.8zM586 237.4h2.8v2.8h-2.8z" fill="#9f1"/>
<path d="M591 234.9h5.3v2.8h-5.3z" fill="#bf0"/>
<path d="M523.5 237.4h2.8v2.8h-2.8zM523.5 239.9h5.3v2.8h-5.3zM523.5 242.4h5.3v2.8h-5.3z" fill="#0f9"/>
<path d="M543.5 237.4h2.8v2.8h-2.8zM541 239.9h5.3v2.8h-5.3z" fill="#4f8"/>
<path d="M548.5 237.4h2.8v2.8h-2.8zM551 239.9h2.8v2.8h-2.8z" fill="#5f7"/>
<path d="M553.5 237.4h7.8v2.8h-7.8zM553.5 239.9h12.8v2.8h-12.8zM556 242.4h2.8v2.8h-2.8zM563.5 242.4h7.8v2.8h-7.8zM568.5 244.9h5.3v2.8h-5.3zM571 247.4h7.8v2.8h-7.8zM576 249.9h2.8v2.8h-2.8z" fill="#6f6"/>
<path d="M578.5 237.4h2.8v2.8h-2.8z" fill="#5f3"/>
<path d="M581 237.4h2.8v2.8h-2.8z" fill="#7f2"/>
<path d="M583.5 237.4h2.8v2.8h-2.8z" fill="#8f2"/>
<path d="M588.5 237.4h2.8v2.8h-2.8z" fill="#af1"/>
<path d="M591 237.4h2.8v2.8h-2.8zM588.5 239.9h2.8v2.8h-2.8z" fill="#bf1"/>
<path d="M593.5 237.4h2.8v2.8h-2.8z" fill="#cf0"/>
<path d="M596 237.4h2.8v2.8h-2.8zM596 239.9h2.8v2.8h-2.8z" fill="#df0"/>
<path d="M528.5 239.9h5.3v2.8h-5.3zM528.5 242.4h5.3v2.8h-5.3zM531 244.9h2.8v2.8h-2.8z" fill="#1f9"/>
<path d="M533.5 239.9h5.3v2.8h-5.3zM533.5 242.4h5.3v2.8h-5.3zM533.5 244.9h5.3v2.8h-5.3z" fill="#2f9"/>
<path d="M546 239.9h5.3v2.8h-5.3zM546 242.4h5.3v2.8h-5.3z" fill="#5f8"/>
<path d="M578.5 239.9h2.8v2.8h-2.8z" fill="#6f3"/>
<path d="M581 239.9h2.8v2.8h-2.8z" fill="#7f3"/>
<path d="M583.5 239.9h2.8v2.8h-2.8z" fill="#9f2"/>
<path d="M586 239.9h2.8v2.8h-2.8zM586 242.4h2.8v2.8h-2.8z" fill="#af2"/>
<path d="M591 239.9h5.3v2.8h-5.3z" fill="#cf1"/>
<path d="M598.5 239.9h2.8v2.8h-2.8zM598.5 242.4h2.8v2.8h-2.8z" fill="#ef0"/>
<path d="M538.5 242.4h2.8v2.8h-2.8zM538.5 244.9h2.8v2.8h-2.8z" fill="#3f9"/>
<path d="M541 242.4h5.3v2.8h-5.3zM541 244.9h5.3v2.8h-5.3z" fill="#4f9"/>
<path d="M551 242.4h2.8v2.8h-2.8zM553.5 244.9h2.8v2.8h-2.8z" fill="#6f8"/>
<path d="M553.5 242.4h2.8v2.8h-2.8z" fill="#6f7"/>
<path d="M558.5 242.4h5.3v2.8h-5.3zM556 244.9h12.8v2.8h-12.8zM558.5 247.4h12.8v2.8h-12.8zM571 249.9h5.3v2.8h-5.3zM573.5 252.4h5.3v2.8h-5.3zM576 254.9h2.8v2.8h-2.8z" fill="#7f7"/>
<path d="M578.5 242.4h2.8v2.8h-2.8z" fill="#6f4"/>
<path d="M581 242.4h2.8v2.8h-2.8z" fill="#8f3"/>
<path d="M583.5 242.4h2.8v2.8h-2.8z" fill="#9f3"/>
<path d="M588.5 242.4h2.8v2.8h-2.8z" fill="#bf2"/>
<path d="M591 242.4h2.8v2.8h-2.8z" fill="#cf2"/>
<path d="M593.5 242.4h2.8v2.8h-2.8z" fill="#df1"/>
<path d="M596 242.4h2.8v2.8h-2.8zM596 244.9h2.8v2.8h-2.8z" fill="#ef1"/>
<path d="M601 242.4h2.8v2.8h-2.8z" fill="#ff0"/>
<path d="M523.5 244.9h5.3v2.8h-5.3zM523.5 247.4h5.3v2.8h-5.3zM526 249.9h2.8v2.8h-2.8z" fill="#0fa"/>
<path d="M528.5 244.9h2.8v2.8h-2.8zM528.5 247.4h5.3v2.8h-5.3zM528.5 249.9h5.3v2.8h-5.3z" fill="#1fa"/>
<path d="M546 244.9h5.3v2.8h-5.3zM548.5 247.4h2.8v2.8h-2.8z" fill="#5f9"/>
<path d="M551 244.9h2.8v2.8h-2.8zM551 247.4h5.3v2.8h-5.3z" fill="#6f9"/>
<path d="M578.5 244.9h2.8v2.8h-2.8z" fill="#7f4"/>
<path d="M581 244.9h2.8v2.8h-2.8z" fill="#8f4"/>
<path d="M583.5 244.9h2.8v2.8h-2.8zM583.5 247.4h2.8v2.8h-2.8z" fill="#af4"/>
<path d="M586 244.9h2.8v2.8h-2.8z" fill="#bf3"/>
<path d="M588.5 244.9h2.8v2.8h-2.8zM588.5 247.4h2.8v2.8h-2.8z" fill="#cf3"/>
<path d="M591 244.9h5.3v2.8h-5.3z" fill="#df2"/>
<path d="M598.5 244.9h2.8v2.8h-2.8zM598.5 247.4h2.8v2.8h-2.8z" fill="#ff1"/>
<path d="M601 244.9h5.3v2.8h-5.3z" fill="#fe0"/>
<path d="M533.5 247.4h5.3v2.8h-5.3zM533.5 249.9h5.3v2.8h-5.3z" fill="#2fa"/>
<path d="M538.5 247.4h2.8v2.8h-2.8zM538.5 249.9h2.8v2.8h-2.8zM541 252.4h2.8v2.8h-2.8z" fill="#3fa"/>
<path d="M541 247.4h5.3v2.8h-5.3zM541 249.9h5.3v2.8h-5.3zM543.5 252.4h2.8v2.8h-2.8z" fill="#4fa"/>
<path d="M546 247.4h2.8v2.8h-2.8zM546 249.9h5.3v2.8h-5.3zM546 252.4h5.3v2.8h-5.3z" fill="#5fa"/>
<path d="M556 247.4h2.8v2.8h-2.8zM558.5 249.9h2.8v2.8h-2.8z" fill="#7f8"/>
<path d="M578.5 247.4h2.8v2.8h-2.8z" fill="#7f5"/>
<path d="M581 247.4h2.8v2.8h-2.8zM581 249.9h2.8v2.8h-2.8z" fill="#9f5"/>
<path d="M586 247.4h2.8v2.8h-2.8z" fill="#bf4"/>
<path d="M591 247.4h2.8v2.8h-2.8z" fill="#df3"/>
<path d="M593.5 247.4h2.8v2.8h-2.8z" fill="#ef2"/>
<path d="M596 247.4h2.8v2.8h-2.8zM596 249.9h2.8v2.8h-2.8z" fill="#ff2"/>
<path d="M601 247.4h2.8v2.8h-2.8z" fill="#fe1"/>
<path d="M603.5 247.4h5.3v2.8h-5.3z" fill="#fd0"/>
<path d="M608.5 247.4h2.8v2.8h-2.8zM606 249.9h5.3v2.8h-5.3z" fill="#fc0"/>
<path d="M551 249.9h5.3v2.8h-5.3zM551 252.4h2.8v2.8h-2.8z" fill="#6fa"/>
<path d="M556 249.9h2.8v2.8h-2.8z" fill="#7f9"/>
<path d="M561 249.9h10.3v2.8h-10.3zM563.5 252.4h10.3v2.8h-10.3zM571 254.9h5.3v2.8h-5.3zM576 257.4h2.8v2.8h-2.8z" fill="#8f8"/>
<path d="M578.5 249.9h2.8v2.8h-2.8zM578.5 252.4h2.8v2.8h-2.8z" fill="#8f6"/>
<path d="M583.5 249.9h2.8v2.8h-2.8zM583.5 252.4h2.8v2.8h-2.8z" fill="#bf5"/>
<path d="M586 249.9h2.8v2.8h-2.8z" fill="#cf4"/>
<path d="M588.5 249.9h2.8v2.8h-2.8zM588.5 252.4h2.8v2.8h-2.8z" fill="#df4"/>
<path d="M591 249.9h5.3v2.8h-5.3z" fill="#ef3"/>
<path d="M598.5 249.9h2.8v2.8h-2.8zM598.5 252.4h2.8v2.8h-2.8z" fill="#fe2"/>
<path d="M601 249.9h5.3v2.8h-5.3z" fill="#fd1"/>
<path d="M611 249.9h2.8v2.8h-2.8zM608.5 252.4h5.3v2.8h-5.3z" fill="#fb0"/>
<path d="M526 252.4h2.8v2.8h-2.8zM526 254.9h5.3v2.8h-5.3z" fill="#0fb"/>
<path d="M528.5 252.4h5.3v2.8h-5.3zM531 254.9h2.8v2.8h-2.8zM531 257.4h2.8v2.8h-2.8z" fill="#1fb"/>
<path d="M533.5 252.4h5.3v2.8h-5.3zM533.5 254.9h5.3v2.8h-5.3zM533.5 257.4h5.3v2.8h-5.3z" fill="#2fb"/>
<path d="M538.5 252.4h2.8v2.8h-2.8zM538.5 254.9h5.3v2.8h-5.3zM538.5 257.4h5.3v2.8h-5.3z" fill="#3fb"/>
<path d="M553.5 252.4h5.3v2.8h-5.3zM556 254.9h2.8v2.8h-2.8z" fill="#7fa"/>
<path d="M558.5 252.4h2.8v2.8h-2.8zM558.5 254.9h5.3v2.8h-5.3z" fill="#8fa"/>
<path d="M561 252.4h2.8v2.8h-2.8z" fill="#8f9"/>
<path d="M581 252.4h2.8v2.8h-2.8z" fill="#af6"/>
<path d="M586 252.4h2.8v2.8h-2.8z" fill="#cf5"/>
<path d="M591 252.4h2.8v2.8h-2.8z" fill="#ef4"/>
<path d="M593.5 252.4h2.8v2.8h-2.8z" fill="#ff3"/>
<path d="M596 252.4h2.8v2.8h-2.8zM596 254.9h2.8v2.8h-2.8z" fill="#fe3"/>
<path d="M601 252.4h2.8v2.8h-2.8z" fill="#fd2"/>
<path d="M603.5 252.4h5.3v2.8h-5.3z" fill="#fc1"/>
<path d="M613.5 252.4h2.8v2.8h-2.8zM613.5 254.9h5.3v2.8h-5.3z" fill="#fa0"/>
<path d="M543.5 254.9h2.8v2.8h-2.8zM543.5 257.4h2.8v2.8h-2.8z" fill="#4fb"/>
<path d="M546 254.9h5.3v2.8h-5.3zM546 257.4h5.3v2.8h-5.3z" fill="#5fb"/>
<path d="M551 254.9h2.8v2.8h-2.8zM551 257.4h2.8v2.8h-2.8z" fill="#6fb"/>
<path d="M553.5 254.9h2.8v2.8h-2.8zM553.5 257.4h5.3v2.8h-5.3zM556 259.9h2.8v2.8h-2.8z" fill="#7fb"/>
<path d="M563.5 254.9h7.8v2.8h-7.8zM566 257.4h10.3v2.8h-10.3zM573.5 259.9h5.3v2.8h-5.3z" fill="#9f9"/>
<path d="M578.5 254.9h2.8v2.8h-2.8z" fill="#9f7"/>
<path d="M581 254.9h2.8v2.8h-2.8z" fill="#bf6"/>
<path d="M583.5 254.9h2.8v2.8h-2.8zM583.5 257.4h2.8v2.8h-2.8z" fill="#cf6"/>
<path d="M586 254.9h2.8v2.8h-2.8z" fill="#df5"/>
<path d="M588.5 254.9h2.8v2.8h-2.8zM588.5 257.4h2.8v2.8h-2.8z" fill="#ef5"/>
<path d="M591 254.9h5.3v2.8h-5.3z" fill="#ff4"/>
<path d="M598.5 254.9h2.8v2.8h-2.8zM598.5 257.4h2.8v2.8h-2.8z" fill="#fd3"/>
<path d="M601 254.9h5.3v2.8h-5.3z" fill="#fc2"/>
<path d="M606 254.9h5.3v2.8h-5.3z" fill="#fb1"/>
<path d="M611 254.9h2.8v2.8h-2.8zM611 257.4h2.8v2.8h-2.8z" fill="#fa1"/>
<path d="M526 257.4h5.3v2.8h-5.3zM526 259.9h5.3v2.8h-5.3zM526 262.4h5.3v2.8h-5.3z" fill="#0fc"/>
<path d="M558.5 257.4h5.3v2.8h-5.3zM558.5 259.9h2.8v2.8h-2.8z" fill="#8fb"/>
<path d="M563.5 257.4h2.8v2.8h-2.8z" fill="#9fa"/>
<path d="M578.5 257.4h2.8v2.8h-2.8zM578.5 259.9h2.8v2.8h-2.8z" fill="#af8"/>
<path d="M581 257.4h2.8v2.8h-2.8z" fill="#bf7"/>
<path d="M586 257.4h2.8v2.8h-2.8z" fill="#df6"/>
<path d="M591 257.4h2.8v2.8h-2.8z" fill="#ff5"/>
<path d="M593.5 257.4h2.8v2.8h-2.8z" fill="#fe4"/>
<path d="M596 257.4h2.8v2.8h-2.8zM596 259.9h2.8v2.8h-2.8z" fill="#fd4"/>
<path d="M601 257.4h2.8v2.8h-2.8zM601 259.9h2.8v2.8h-2.8z" fill="#fc3"/>
<path d="M603.5 257.4h5.3v2.8h-5.3z" fill="#fb2"/>
<path d="M608.5 257.4h2.8v2.8h-2.8zM608.5 259.9h5.3v2.8h-5.3z" fill="#fa2"/>
<path d="M613.5 257.4h2.8v2.8h-2.8zM613.5 259.9h5.3v2.8h-5.3z" fill="#f91"/>
<path d="M616 257.4h5.3v2.8h-5.3z" fill="#f90"/>
<path d="M531 259.9h5.3v2.8h-5.3zM531 262.4h5.3v2.8h-5.3z" fill="#1fc"/>
<path d="M536 259.9h2.8v2.8h-2.8zM536 262.4h2.8v2.8h-2.8z" fill="#2fc"/>
<path d="M538.5 259.9h5.3v2.8h-5.3zM538.5 262.4h5.3v2.8h-5.3z" fill="#3fc"/>
<path d="M543.5 259.9h2.8v2.8h-2.8zM543.5 262.4h5.3v2.8h-5.3z" fill="#4fc"/>
<path d="M546 259.9h5.3v2.8h-5.3zM548.5 262.4h2.8v2.8h-2.8z" fill="#5fc"/>
<path d="M551 259.9h2.8v2.8h-2.8zM551 262.4h5.3v2.8h-5.3zM553.5 264.9h2.8v2.8h-2.8z" fill="#6fc"/>
<path d="M553.5 259.9h2.8v2.8h-2.8zM556 262.4h2.8v2.8h-2.8zM556 264.9h2.8v2.8h-2.8z" fill="#7fc"/>
<path d="M561 259.9h5.3v2.8h-5.3z" fill="#9fb"/>
<path d="M566 259.9h7.8v2.8h-7.8zM568.5 262.4h2.8v2.8h-2.8zM573.5 262.4h5.3v2.8h-5.3zM576 264.9h2.8v2.8h-2.8z" fill="#afa"/>
<path d="M581 259.9h2.8v2.8h-2.8z" fill="#cf8"/>
<path d="M583.5 259.9h2.8v2.8h-2.8z" fill="#df7"/>
<path d="M586 259.9h2.8v2.8h-2.8z" fill="#ef7"/>
<path d="M588.5 259.9h2.8v2.8h-2.8z" fill="#ff6"/>
<path d="M591 259.9h2.8v2.8h-2.8zM591 262.4h2.8v2.8h-2.8z" fill="#fe6"/>
<path d="M593.5 259.9h2.8v2.8h-2.8z" fill="#fd5"/>
<path d="M598.5 259.9h2.8v2.8h-2.8z" fill="#fc4"/>
<path d="M603.5 259.9h5.3v2.8h-5.3z" fill="#fb3"/>
<path d="M618.5 259.9h5.3v2.8h-5.3z" fill="#f80"/>
<path d="M558.5 262.4h2.8v2.8h-2.8zM558.5 264.9h2.8v2.8h-2.8z" fill="#8fc"/>
<path d="M561 262.4h5.3v2.8h-5.3zM561 264.9h5.3v2.8h-5.3z" fill="#9fc"/>
<path d="M566 262.4h2.8v2.8h-2.8z" fill="#afb"/>
<path d="M571 262.4h2.8v2.8h-2.8zM571 264.9h5.3v2.8h-5.3zM576 267.4h2.8v2.8h-2.8z" fill="#bfb"/>
<path d="M578.5 262.4h2.8v2.8h-2.8z" fill="#bf9"/>
<path d="M581 262.4h2.8v2.8h-2.8z" fill="#df8"/>
<path d="M583.5 262.4h2.8v2.8h-2.8zM583.5 264.9h2.8v2.8h-2.8z" fill="#ef8"/>
<path d="M586 262.4h2.8v2.8h-2.8z" fill="#ff7"/>
<path d="M588.5 262.4h2.8v2.8h-2.8zM588.5 264.9h2.8v2.8h-2.8z" fill="#fe7"/>
<path d="M593.5 262.4h2.8v2.8h-2.8z" fill="#fd6"/>
<path d="M596 262.4h5.3v2.8h-5.3z" fill="#fc5"/>
<path d="M601 262.4h5.3v2.8h-5.3z" fill="#fb4"/>
<path d="M606 262.4h5.3v2.8h-5.3z" fill="#fa3"/>
<path d="M611 262.4h5.3v2.8h-5.3z" fill="#f92"/>
<path d="M616 262.4h5.3v2.8h-5.3z" fill="#f81"/>
<path d="M621 262.4h5.3v2.8h-5.3z" fill="#f70"/>
<path d="M526 264.9h5.3v2.8h-5.3zM528.5 267.4h2.8v2.8h-2.8z" fill="#0fd"/>
<path d="M531 264.9h5.3v2.8h-5.3zM531 267.4h5.3v2.8h-5.3z" fill="#1fd"/>
<path d="M536 264.9h2.8v2.8h-2.8zM536 267.4h5.3v2.8h-5.3z" fill="#2fd"/>
<path d="M538.5 264.9h5.3v2.8h-5.3zM541 267.4h2.8v2.8h-2.8z" fill="#3fd"/>
<path d="M543.5 264.9h5.3v2.8h-5.3zM543.5 267.4h5.3v2.8h-5.3z" fill="#4fd"/>
<path d="M548.5 264.9h2.8v2.8h-2.8zM548.5 267.4h2.8v2.8h-2.8z" fill="#5fd"/>
<path d="M551 264.9h2.8v2.8h-2.8zM551 267.4h5.3v2.8h-5.3zM553.5 269.9h2.8v2.8h-2.8z" fill="#6fd"/>
<path d="M566 264.9h2.8v2.8h-2.8z" fill="#afc"/>
<path d="M568.5 264.9h2.8v2.8h-2.8z" fill="#bfc"/>
<path d="M578.5 264.9h2.8v2.8h-2.8z" fill="#cfa"/>
<path d="M581 264.9h2.8v2.8h-2.8z" fill="#df9"/>
<path d="M586 264.9h2.8v2.8h-2.8z" fill="#ff8"/>
<path d="M591 264.9h2.8v2.8h-2.8zM591 267.4h2.8v2.8h-2.8z" fill="#fd7"/>
<path d="M593.5 264.9h5.3v2.8h-5.3z" fill="#fc6"/>
<path d="M598.5 264.9h5.3v2.8h-5.3z" fill="#fb5"/>
<path d="M603.5 264.9h5.3v2.8h-5.3z" fill="#fa4"/>
<path d="M608.5 264.9h5.3v2.8h-5.3z" fill="#f93"/>
<path d="M613.5 264.9h5.3v2.8h-5.3z" fill="#f82"/>
<path d="M618.5 264.9h5.3v2.8h-5.3z" fill="#f71"/>
<path d="M623.5 264.9h7.8v2.8h-7.8zM626 267.4h2.8v2.8h-2.8z" fill="#f60"/>
<path d="M556 267.4h2.8v2.8h-2.8zM556 269.9h2.8v2.8h-2.8z" fill="#7fd"/>
<path d="M558.5 267.4h5.3v2.8h-5.3zM558.5 269.9h5.3v2.8h-5.3z" fill="#8fd"/>
<path d="M563.5 267.4h2.8v2.8h-2.8zM563.5 269.9h2.8v2.8h-2.8z" fill="#9fd"/>
<path d="M566 267.4h2.8v2.8h-2.8zM566 269.9h2.8v2.8h-2.8z" fill="#afd"/>
<path d="M568.5 267.4h2.8v2.8h-2.8zM568.5 269.9h2.8v2.8h-2.8z" fill="#bfd"/>
<path d="M571 267.4h5.3v2.8h-5.3zM573.5 269.9h5.3v2.8h-5.3z" fill="#cfc"/>
<path d="M578.5 267.4h2.8v2.8h-2.8zM578.5 269.9h2.8v2.8h-2.8z" fill="#dfb"/>
<path d="M581 267.4h2.8v2.8h-2.8z" fill="#efa"/>
<path d="M583.5 267.4h2.8v2.8h-2.8z" fill="#ff9"/>
<path d="M586 267.4h2.8v2.8h-2.8z" fill="#fe9"/>
<path d="M588.5 267.4h2.8v2.8h-2.8z" fill="#fd8"/>
<path d="M593.5 267.4h2.8v2.8h-2.8z" fill="#fc7"/>
<path d="M596 267.4h5.3v2.8h-5.3z" fill="#fb6"/>
<path d="M601 267.4h5.3v2.8h-5.3z" fill="#fa5"/>
<path d="M606 267.4h5.3v2.8h-5.3z" fill="#f94"/>
<path d="M611 267.4h5.3v2.8h-5.3z" fill="#f83"/>
<path d="M616 267.4h5.3v2.8h-5.3z" fill="#f72"/>
<path d="M621 267.4h5.3v2.8h-5.3z" fill="#f61"/>
<path d="M628.5 267.4h5.3v2.8h-5.3z" fill="#f50"/>
<path d="M528.5 269.9h5.3v2.8h-5.3zM528.5 272.4h5.3v2.8h-5.3z" fill="#0fe"/>
<path d="M533.5 269.9h2.8v2.8h-2.8zM533.5 272.4h2.8v2.8h-2.8z" fill="#1fe"/>
<path d="M536 269.9h5.3v2.8h-5.3zM536 272.4h5.3v2.8h-5.3z" fill="#2fe"/>
<path d="M541 269.9h2.8v2.8h-2.8zM541 272.4h5.3v2.8h-5.3z" fill="#3fe"/>
<path d="M543.5 269.9h5.3v2.8h-5.3zM546 272.4h2.8v2.8h-2.8z" fill="#4fe"/>
<path d="M548.5 269.9h2.8v2.8h-2.8zM548.5 272.4h5.3v2.8h-5.3z" fill="#5fe"/>
<path d="M551 269.9h2.8v2.8h-2.8zM553.5 272.4h2.8v2.8h-2.8z" fill="#6fe"/>
<path d="M571 269.9h2.8v2.8h-2.8z" fill="#cfd"/>
<path d="M581 269.9h2.8v2.8h-2.8z" fill="#ffb"/>
<path d="M583.5 269.9h2.8v2.8h-2.8z" fill="#fea"/>
<path d="M586 269.9h5.3v2.8h-5.3z" fill="#fd9"/>
<path d="M591 269.9h2.8v2.8h-2.8z" fill="#fc8"/>
<path d="M593.5 269.9h5.3v2.8h-5.3z" fill="#fb7"/>
<path d="M598.5 269.9h5.3v2.8h-5.3z" fill="#fa6"/>
<path d="M603.5 269.9h5.3v2.8h-5.3z" fill="#f95"/>
<path d="M608.5 269.9h5.3v2.8h-5.3z" fill="#f84"/>
<path d="M613.5 269.9h5.3v2.8h-5.3z" fill="#f73"/>
<path d="M618.5 269.9h5.3v2.8h-5.3z" fill="#f62"/>
<path d="M623.5 269.9h7.8v2.8h-7.8z" fill="#f51"/>
<path d="M631 269.9h5.3v2.8h-5.3z" fill="#f40"/>
<path d="M556 272.4h2.8v2.8h-2.8z" fill="#7fe"/>
<path d="M558.5 272.4h5.3v2.8h-5.3z" fill="#8fe"/>
<path d="M563.5 272.4h2.8v2.8h-2.8z" fill="#9fe"/>
<path d="M566 272.4h2.8v2.8h-2.8z" fill="#afe"/>
<path d="M568.5 272.4h2.8v2.8h-2.8z" fill="#bfe"/>
<path d="M571 272.4h2.8v2.8h-2.8z" fill="#cfe"/>
<path d="M573.5 272.4h2.8v2.8h-2.8z" fill="#dfe"/>
<path d="M576 272.4h2.8v2.8h-2.8z" fill="#dfd"/>
<path d="M578.5 272.4h2.8v2.8h-2.8z" fill="#efc"/>
<path d="M581 272.4h2.8v2.8h-2.8zM581 274.9h2.8v2.8h-2.8z" fill="#fec"/>
<path d="M583.5 272.4h2.8v2.8h-2.8z" fill="#feb"/>
<path d="M586 272.4h2.8v2.8h-2.8z" fill="#fda"/>
<path d="M588.5 272.4h5.3v2.8h-5.3z" fill="#fc9"/>
<path d="M593.5 272.4h2.8v2.8h-2.8z" fill="#fb8"/>
<path d="M596 272.4h2.8v2.8h-2.8z" fill="#fa8"/>
<path d="M598.5 272.4h2.8v2.8h-2.8z" fill="#fa7"/>
<path d="M601 272.4h5.3v2.8h-5.3z" fill="#f96"/>
<path d="M606 272.4h5.3v2.8h-5.3z" fill="#f85"/>
<path d="M611 272.4h5.3v2.8h-5.3z" fill="#f74"/>
<path d="M616 272.4h5.3v2.8h-5.3z" fill="#f63"/>
<path d="M621 272.4h5.3v2.8h-5.3z" fill="#f52"/>
<path d="M626 272.4h5.3v2.8h-5.3z" fill="#f41"/>
<path d="M631 272.4h2.8v2.8h-2.8z" fill="#f31"/>
<path d="M633.5 272.4h2.8v2.8h-2.8z" fill="#f30"/>
<path d="M636 272.4h2.8v2.8h-2.8z" fill="#f20"/>
<path d="M528.5 274.9h5.3v2.8h-5.3zM531 277.4h2.8v2.8h-2.8z" fill="#0ff"/>
<path d="M533.5 274.9h5.3v2.8h-5.3zM533.5 277.4h5.3v2.8h-5.3z" fill="#1ff"/>
<path d="M538.5 274.9h2.8v2.8h-2.8zM538.5 277.4h5.3v2.8h-5.3z" fill="#2ff"/>
<path d="M541 274.9h5.3v2.8h-5.3zM543.5 277.4h2.8v2.8h-2.8z" fill="#3ff"/>
<path d="M546 274.9h2.8v2.8h-2.8zM546 277.4h5.3v2.8h-5.3z" fill="#4ff"/>
<path d="M548.5 274.9h5.3v2.8h-5.3zM551 277.4h2.8v2.8h-2.8z" fill="#5ff"/>
<path d="M553.5 274.9h2.8v2.8h-2.8zM553.5 277.4h5.3v2.8h-5.3z" fill="#6ff"/>
<path d="M556 274.9h5.3v2.8h-5.3zM558.5 277.4h2.8v2.8h-2.8z" fill="#7ff"/>
<path d="M561 274.9h2.8v2.8h-2.8zM561 277.4h2.8v2.8h-2.8z" fill="#8ff"/>
<path d="M563.5 274.9h2.8v2.8h-2.8zM563.5 277.4h2.8v2.8h-2.8z" fill="#9ff"/>
<path d="M566 274.9h2.8v2.8h-2.8zM566 277.4h5.3v2.8h-5.3z" fill="#aff"/>
<path d="M568.5 274.9h2.8v2.8h-2.8zM571 277.4h2.8v2.8h-2.8z" fill="#bff"/>
<path d="M571 274.9h2.8v2.8h-2.8z" fill="#cff"/>
<path d="M573.5 274.9h2.8v2.8h-2.8z" fill="#dff"/>
<path d="M576 274.9h2.8v2.8h-2.8z" fill="#efe"/>
<path d="M578.5 274.9h2.8v2.8h-2.8z" fill="#ffd"/>
<path d="M583.5 274.9h2.8v2.8h-2.8z" fill="#fdc"/>
<path d="M586 274.9h2.8v2.8h-2.8z" fill="#fcb"/>
<path d="M588.5 274.9h2.8v2.8h-2.8z" fill="#fba"/>
<path d="M591 274.9h2.8v2.8h-2.8z" fill="#fb9"/>
<path d="M593.5 274.9h2.8v2.8h-2.8z" fill="#fa9"/>
<path d="M596 274.9h5.3v2.8h-5.3z" fill="#f98"/>
<path d="M601 274.9h5.3v2.8h-5.3z" fill="#f87"/>
<path d="M606 274.9h2.8v2.8h-2.8z" fill="#f76"/>
<path d="M608.5 274.9h5.3v2.8h-5.3z" fill="#f65"/>
<path d="M613.5 274.9h5.3v2.8h-5.3z" fill="#f54"/>
<path d="M618.5 274.9h5.3v2.8h-5.3z" fill="#f43"/>
<path d="M623.5 274.9h5.3v2.8h-5.3z" fill="#f32"/>
<path d="M628.5 274.9h2.8v2.8h-2.8zM628.5 277.4h5.3v2.8h-5.3zM631 279.9h5.3v2.8h-5.3zM633.5 282.4h5.3v2.8h-5.3zM636 284.9h2.8v2.8h-2.8z" fill="#f22"/>
<path d="M631 274.9h2.8v2.8h-2.8z" fill="#f21"/>
<path d="M633.5 274.9h2.8v2.8h-2.8zM633.5 277.4h5.3v2.8h-5.3zM636 279.9h5.3v2.8h-5.3zM638.5 282.4h5.3v2.8h-5.3zM641 284.9h5.3v2.8h-5.3z" fill="#f11"/>
<path d="M636 274.9h2.8v2.8h-2.8z" fill="#f10"/>
<path d="M638.5 274.9h2.8v2.8h-2.8zM638.5 277.4h5.3v2.8h-5.3zM641 279.9h5.3v2.8h-5.3zM643.5 282.4h7.8v2.8h-7.8zM646 284.9h7.8v2.8h-7.8z" fill="#f00"/>
<path d="M573.5 277.4h2.8v2.8h-2.8z" fill="#cef"/>
<path d="M576 277.4h2.8v2.8h-2.8z" fill="#eef"/>
<path d="M578.5 277.4h2.8v2.8h-2.8z" fill="#fde"/>
<path d="M581 277.4h2.8v2.8h-2.8z" fill="#fdd"/>
<path d="M583.5 277.4h5.3v2.8h-5.3z" fill="#fcc"/>
<path d="M588.5 277.4h2.8v2.8h-2.8z" fill="#fbb"/>
<path d="M591 277.4h5.3v2.8h-5.3z" fill="#faa"/>
<path d="M596 277.4h2.8v2.8h-2.8zM596 279.9h2.8v2.8h-2.8z" fill="#f99"/>
<path d="M598.5 277.4h5.3v2.8h-5.3zM601 279.9h5.3v2.8h-5.3z" fill="#f88"/>
<path d="M603.5 277.4h5.3v2.8h-5.3zM606 279.9h5.3v2.8h-5.3z" fill="#f77"/>
<path d="M608.5 277.4h5.3v2.8h-5.3zM611 279.9h5.3v2.8h-5.3zM611 282.4h2.8v2.8h-2.8z" fill="#f66"/>
<path d="M613.5 277.4h5.3v2.8h-5.3zM616 279.9h5.3v2.8h-5.3zM616 282.4h5.3v2.8h-5.3z" fill="#f55"/>
<path d="M618.5 277.4h5.3v2.8h-5.3zM621 279.9h5.3v2.8h-5.3zM623.5 282.4h5.3v2.8h-5.3z" fill="#f44"/>
<path d="M623.5 277.4h5.3v2.8h-5.3zM626 279.9h5.3v2.8h-5.3zM628.5 282.4h5.3v2.8h-5.3zM628.5 284.9h2.8v2.8h-2.8z" fill="#f33"/>
<path d="M531 279.9h2.8v2.8h-2.8zM531 282.4h5.3v2.8h-5.3z" fill="#0ef"/>
<path d="M533.5 279.9h5.3v2.8h-5.3zM536 282.4h2.8v2.8h-2.8z" fill="#1ef"/>
<path d="M538.5 279.9h5.3v2.8h-5.3zM538.5 282.4h5.3v2.8h-5.3z" fill="#2ef"/>
<path d="M543.5 279.9h2.8v2.8h-2.8z" fill="#3ef"/>
<path d="M546 279.9h5.3v2.8h-5.3z" fill="#4ef"/>
<path d="M551 279.9h2.8v2.8h-2.8z" fill="#5ef"/>
<path d="M553.5 279.9h5.3v2.8h-5.3z" fill="#6ef"/>
<path d="M558.5 279.9h2.8v2.8h-2.8z" fill="#7ef"/>
<path d="M561 279.9h2.8v2.8h-2.8z" fill="#8ef"/>
<path d="M563.5 279.9h5.3v2.8h-5.3z" fill="#9ef"/>
<path d="M568.5 279.9h2.8v2.8h-2.8z" fill="#aef"/>
<path d="M571 279.9h2.8v2.8h-2.8z" fill="#bef"/>
<path d="M573.5 279.9h2.8v2.8h-2.8z" fill="#cdf"/>
<path d="M576 279.9h2.8v2.8h-2.8z" fill="#ecf"/>
<path d="M578.5 279.9h2.8v2.8h-2.8z" fill="#fcf"/>
<path d="M581 279.9h2.8v2.8h-2.8z" fill="#fbe"/>
<path d="M583.5 279.9h2.8v2.8h-2.8z" fill="#fbd"/>
<path d="M586 279.9h2.8v2.8h-2.8z" fill="#fbc"/>
<path d="M588.5 279.9h5.3v2.8h-5.3z" fill="#fab"/>
<path d="M593.5 279.9h2.8v2.8h-2.8z" fill="#f9a"/>
<path d="M598.5 279.9h2.8v2.8h-2.8z" fill="#f89"/>
<path d="M543.5 282.4h5.3v2.8h-5.3zM543.5 284.9h5.3v2.8h-5.3z" fill="#3df"/>
<path d="M548.5 282.4h2.8v2.8h-2.8zM548.5 284.9h2.8v2.8h-2.8z" fill="#4df"/>
<path d="M551 282.4h5.3v2.8h-5.3zM551 284.9h5.3v2.8h-5.3z" fill="#5df"/>
<path d="M556 282.4h2.8v2.8h-2.8zM556 284.9h2.8v2.8h-2.8z" fill="#6df"/>
<path d="M558.5 282.4h2.8v2.8h-2.8zM558.5 284.9h2.8v2.8h-2.8z" fill="#7df"/>
<path d="M561 282.4h5.3v2.8h-5.3z" fill="#8df"/>
<path d="M566 282.4h2.8v2.8h-2.8z" fill="#9df"/>
<path d="M568.5 282.4h2.8v2.8h-2.8z" fill="#adf"/>
<path d="M571 282.4h2.8v2.8h-2.8z" fill="#bcf"/>
<path d="M573.5 282.4h2.8v2.8h-2.8z" fill="#cbf"/>
<path d="M576 282.4h2.8v2.8h-2.8z" fill="#ebf"/>
<path d="M578.5 282.4h2.8v2.8h-2.8z" fill="#fbf"/>
<path d="M581 282.4h2.8v2.8h-2.8z" fill="#fae"/>
<path d="M583.5 282.4h2.8v2.8h-2.8z" fill="#fad"/>
<path d="M586 282.4h2.8v2.8h-2.8z" fill="#f9c"/>
<path d="M588.5 282.4h5.3v2.8h-5.3z" fill="#f9b"/>
<path d="M593.5 282.4h5.3v2.8h-5.3z" fill="#f8a"/>
<path d="M598.5 282.4h2.8v2.8h-2.8zM598.5 284.9h2.8v2.8h-2.8z" fill="#f79"/>
<path d="M601 282.4h5.3v2.8h-5.3z" fill="#f78"/>
<path d="M606 282.4h5.3v2.8h-5.3zM606 284.9h2.8v2.8h-2.8z" fill="#f67"/>
<path d="M613.5 282.4h2.8v2.8h-2.8zM611 284.9h5.3v2.8h-5.3z" fill="#f56"/>
<path d="M621 282.4h2.8v2.8h-2.8zM618.5 284.9h5.3v2.8h-5.3z" fill="#f45"/>
<path d="M531 284.9h5.3v2.8h-5.3z" fill="#0df"/>
<path d="M536 284.9h5.3v2.8h-5.3z" fill="#1df"/>
<path d="M541 284.9h2.8v2.8h-2.8z" fill="#2df"/>
<path d="M561 284.9h2.8v2.8h-2.8zM561 287.4h2.8v2.8h-2.8z" fill="#7cf"/>
<path d="M563.5 284.9h2.8v2.8h-2.8z" fill="#8cf"/>
<path d="M566 284.9h2.8v2.8h-2.8z" fill="#9cf"/>
<path d="M568.5 284.9h2.8v2.8h-2.8z" fill="#acf"/>
<path d="M571 284.9h2.8v2.8h-2.8z" fill="#aaf"/>
<path d="M573.5 284.9h2.8v2.8h-2.8z" fill="#dbf"/>
<path d="M576 284.9h2.8v2.8h-2.8z" fill="#daf"/>
<path d="M578.5 284.9h2.8v2.8h-2.8z" fill="#eaf"/>
<path d="M581 284.9h2.8v2.8h-2.8z" fill="#f9e"/>
<path d="M583.5 284.9h2.8v2.8h-2.8z" fill="#f9d"/>
<path d="M586 284.9h2.8v2.8h-2.8zM586 287.4h2.8v2.8h-2.8z" fill="#f8d"/>
<path d="M588.5 284.9h2.8v2.8h-2.8z" fill="#f8c"/>
<path d="M591 284.9h2.8v2.8h-2.8z" fill="#f8b"/>
<path d="M593.5 284.9h5.3v2.8h-5.3z" fill="#f7a"/>
<path d="M601 284.9h2.8v2.8h-2.8zM598.5 287.4h2.8v2.8h-2.8z" fill="#f69"/>
<path d="M603.5 284.9h2.8v2.8h-2.8z" fill="#f68"/>
<path d="M608.5 284.9h2.8v2.8h-2.8z" fill="#f57"/>
<path d="M616 284.9h2.8v2.8h-2.8zM613.5 287.4h2.8v2.8h-2.8z" fill="#f46"/>
<path d="M623.5 284.9h5.3v2.8h-5.3zM623.5 287.4h2.8v2.8h-2.8z" fill="#f34"/>
<path d="M631 284.9h5.3v2.8h-5.3zM628.5 287.4h5.3v2.8h-5.3z" fill="#f23"/>
<path d="M638.5 284.9h2.8v2.8h-2.8zM636 287.4h5.3v2.8h-5.3z" fill="#f12"/>
<path d="M533.5 287.4h2.8v2.8h-2.8zM533.5 289.9h2.8v2.8h-2.8z" fill="#0cf"/>
<path d="M536 287.4h5.3v2.8h-5.3zM536 289.9h5.3v2.8h-5.3z" fill="#1cf"/>
<path d="M541 287.4h5.3v2.8h-5.3zM541 289.9h5.3v2.8h-5.3z" fill="#2cf"/>
<path d="M546 287.4h2.8v2.8h-2.8zM546 289.9h2.8v2.8h-2.8z" fill="#3cf"/>
<path d="M548.5 287.4h5.3v2.8h-5.3zM548.5 289.9h2.8v2.8h-2.8z" fill="#4cf"/>
<path d="M553.5 287.4h2.8v2.8h-2.8z" fill="#5cf"/>
<path d="M556 287.4h5.3v2.8h-5.3z" fill="#6cf"/>
<path d="M563.5 287.4h5.3v2.8h-5.3z" fill="#8bf"/>
<path d="M568.5 287.4h2.8v2.8h-2.8z" fill="#9af"/>
<path d="M571 287.4h2.8v2.8h-2.8z" fill="#caf"/>
<path d="M573.5 287.4h5.3v2.8h-5.3z" fill="#d9f"/>
<path d="M578.5 287.4h2.8v2.8h-2.8z" fill="#e9f"/>
<path d="M581 287.4h2.8v2.8h-2.8z" fill="#f8f"/>
<path d="M583.5 287.4h2.8v2.8h-2.8z" fill="#f8e"/>
<path d="M588.5 287.4h2.8v2.8h-2.8z" fill="#f7c"/>
<path d="M591 287.4h2.8v2.8h-2.8z" fill="#f7b"/>
<path d="M593.5 287.4h2.8v2.8h-2.8zM593.5 289.9h2.8v2.8h-2.8z" fill="#f6b"/>
<path d="M596 287.4h2.8v2.8h-2.8z" fill="#f6a"/>
<path d="M601 287.4h2.8v2.8h-2.8zM601 289.9h2.8v2.8h-2.8z" fill="#f59"/>
<path d="M603.5 287.4h5.3v2.8h-5.3z" fill="#f58"/>
<path d="M608.5 287.4h5.3v2.8h-5.3zM608.5 289.9h2.8v2.8h-2.8z" fill="#f47"/>
<path d="M616 287.4h2.8v2.8h-2.8zM613.5 289.9h5.3v2.8h-5.3z" fill="#f36"/>
<path d="M618.5 287.4h5.3v2.8h-5.3z" fill="#f35"/>
<path d="M626 287.4h2.8v2.8h-2.8zM623.5 289.9h5.3v2.8h-5.3z" fill="#f24"/>
<path d="M633.5 287.4h2.8v2.8h-2.8zM631 289.9h5.3v2.8h-5.3z" fill="#f13"/>
<path d="M641 287.4h10.3v2.8h-10.3zM643.5 289.9h2.8v2.8h-2.8z" fill="#f01"/>
<path d="M551 289.9h2.8v2.8h-2.8zM551 292.4h2.8v2.8h-2.8z" fill="#4bf"/>
<path d="M553.5 289.9h5.3v2.8h-5.3zM553.5 292.4h2.8v2.8h-2.8z" fill="#5bf"/>
<path d="M558.5 289.9h2.8v2.8h-2.8z" fill="#6bf"/>
<path d="M561 289.9h2.8v2.8h-2.8z" fill="#7bf"/>
<path d="M563.5 289.9h2.8v2.8h-2.8z" fill="#7af"/>
<path d="M566 289.9h2.8v2.8h-2.8z" fill="#89f"/>
<path d="M568.5 289.9h2.8v2.8h-2.8z" fill="#a9f"/>
<path d="M571 289.9h2.8v2.8h-2.8z" fill="#c9f"/>
<path d="M573.5 289.9h2.8v2.8h-2.8zM571 292.4h5.3v2.8h-5.3z" fill="#c8f"/>
<path d="M576 289.9h2.8v2.8h-2.8z" fill="#d8f"/>
<path d="M578.5 289.9h2.8v2.8h-2.8z" fill="#e8f"/>
<path d="M581 289.9h2.8v2.8h-2.8z" fill="#f7f"/>
<path d="M583.5 289.9h2.8v2.8h-2.8z" fill="#f7e"/>
<path d="M586 289.9h2.8v2.8h-2.8z" fill="#f7d"/>
<path d="M588.5 289.9h5.3v2.8h-5.3z" fill="#f6c"/>
<path d="M596 289.9h5.3v2.8h-5.3z" fill="#f5a"/>
<path d="M603.5 289.9h5.3v2.8h-5.3z" fill="#f48"/>
<path d="M611 289.9h2.8v2.8h-2.8zM611 292.4h2.8v2.8h-2.8z" fill="#f37"/>
<path d="M618.5 289.9h5.3v2.8h-5.3zM618.5 292.4h2.8v2.8h-2.8z" fill="#f25"/>
<path d="M628.5 289.9h2.8v2.8h-2.8zM626 292.4h5.3v2.8h-5.3z" fill="#f14"/>
<path d="M636 289.9h7.8v2.8h-7.8z" fill="#f02"/>
<path d="M533.5 292.4h5.3v2.8h-5.3zM533.5 294.9h5.3v2.8h-5.3z" fill="#0bf"/>
<path d="M538.5 292.4h2.8v2.8h-2.8zM538.5 294.9h5.3v2.8h-5.3z" fill="#1bf"/>
<path d="M541 292.4h5.3v2.8h-5.3z" fill="#2bf"/>
<path d="M546 292.4h5.3v2.8h-5.3z" fill="#3bf"/>
<path d="M556 292.4h2.8v2.8h-2.8z" fill="#5af"/>
<path d="M558.5 292.4h5.3v2.8h-5.3z" fill="#6af"/>
<path d="M563.5 292.4h2.8v2.8h-2.8z" fill="#79f"/>
<path d="M566 292.4h2.8v2.8h-2.8z" fill="#88f"/>
<path d="M568.5 292.4h2.8v2.8h-2.8z" fill="#b8f"/>
<path d="M576 292.4h2.8v2.8h-2.8z" fill="#d7f"/>
<path d="M578.5 292.4h2.8v2.8h-2.8z" fill="#e7f"/>
<path d="M581 292.4h2.8v2.8h-2.8z" fill="#f6f"/>
<path d="M583.5 292.4h5.3v2.8h-5.3z" fill="#f6e"/>
<path d="M588.5 292.4h2.8v2.8h-2.8zM588.5 294.9h2.8v2.8h-2.8z" fill="#f5d"/>
<path d="M591 292.4h2.8v2.8h-2.8z" fill="#f5c"/>
<path d="M593.5 292.4h2.8v2.8h-2.8z" fill="#f5b"/>
<path d="M596 292.4h5.3v2.8h-5.3z" fill="#f4a"/>
<path d="M601 292.4h2.8v2.8h-2.8z" fill="#f49"/>
<path d="M603.5 292.4h2.8v2.8h-2.8zM601 294.9h5.3v2.8h-5.3z" fill="#f39"/>
<path d="M606 292.4h5.3v2.8h-5.3z" fill="#f38"/>
<path d="M613.5 292.4h5.3v2.8h-5.3z" fill="#f26"/>
<path d="M621 292.4h5.3v2.8h-5.3zM621 294.9h2.8v2.8h-2.8z" fill="#f15"/>
<path d="M631 292.4h7.8v2.8h-7.8z" fill="#f03"/>
<path d="M543.5 294.9h5.3v2.8h-5.3zM543.5 297.4h5.3v2.8h-5.3z" fill="#2af"/>
<path d="M548.5 294.9h2.8v2.8h-2.8z" fill="#3af"/>
<path d="M551 294.9h5.3v2.8h-5.3z" fill="#4af"/>
<path d="M556 294.9h5.3v2.8h-5.3zM556 297.4h2.8v2.8h-2.8z" fill="#59f"/>
<path d="M561 294.9h2.8v2.8h-2.8z" fill="#68f"/>
<path d="M563.5 294.9h2.8v2.8h-2.8z" fill="#77f"/>
<path d="M566 294.9h2.8v2.8h-2.8z" fill="#97f"/>
<path d="M568.5 294.9h5.3v2.8h-5.3z" fill="#b7f"/>
<path d="M573.5 294.9h2.8v2.8h-2.8z" fill="#c7f"/>
<path d="M576 294.9h5.3v2.8h-5.3z" fill="#d6f"/>
<path d="M581 294.9h2.8v2.8h-2.8z" fill="#e6f"/>
<path d="M583.5 294.9h2.8v2.8h-2.8z" fill="#f5f"/>
<path d="M586 294.9h2.8v2.8h-2.8z" fill="#f5e"/>
<path d="M591 294.9h2.8v2.8h-2.8zM591 297.4h2.8v2.8h-2.8z" fill="#f4c"/>
<path d="M593.5 294.9h5.3v2.8h-5.3z" fill="#f4b"/>
<path d="M598.5 294.9h2.8v2.8h-2.8zM598.5 297.4h2.8v2.8h-2.8z" fill="#f3a"/>
<path d="M606 294.9h5.3v2.8h-5.3z" fill="#f28"/>
<path d="M611 294.9h5.3v2.8h-5.3z" fill="#f27"/>
<path d="M616 294.9h5.3v2.8h-5.3zM616 297.4h2.8v2.8h-2.8z" fill="#f16"/>
<path d="M623.5 294.9h2.8v2.8h-2.8zM621 297.4h7.8v2.8h-7.8z" fill="#f05"/>
<path d="M626 294.9h7.8v2.8h-7.8z" fill="#f04"/>
<path d="M536 297.4h2.8v2.8h-2.8zM536 299.9h2.8v2.8h-2.8z" fill="#0af"/>
<path d="M538.5 297.4h5.3v2.8h-5.3z" fill="#1af"/>
<path d="M548.5 297.4h5.3v2.8h-5.3zM548.5 299.9h2.8v2.8h-2.8z" fill="#39f"/>
<path d="M553.5 297.4h2.8v2.8h-2.8z" fill="#49f"/>
<path d="M558.5 297.4h2.8v2.8h-2.8z" fill="#58f"/>
<path d="M561 297.4h2.8v2.8h-2.8z" fill="#67f"/>
<path d="M563.5 297.4h2.8v2.8h-2.8z" fill="#76f"/>
<path d="M566 297.4h2.8v2.8h-2.8z" fill="#a7f"/>
<path d="M568.5 297.4h5.3v2.8h-5.3zM568.5 299.9h2.8v2.8h-2.8z" fill="#b6f"/>
<path d="M573.5 297.4h2.8v2.8h-2.8z" fill="#c6f"/>
<path d="M576 297.4h2.8v2.8h-2.8zM573.5 299.9h5.3v2.8h-5.3z" fill="#c5f"/>
<path d="M578.5 297.4h2.8v2.8h-2.8z" fill="#d5f"/>
<path d="M581 297.4h2.8v2.8h-2.8z" fill="#e5f"/>
<path d="M583.5 297.4h2.8v2.8h-2.8zM583.5 299.9h2.8v2.8h-2.8z" fill="#f4f"/>
<path d="M586 297.4h2.8v2.8h-2.8z" fill="#f4e"/>
<path d="M588.5 297.4h2.8v2.8h-2.8z" fill="#f4d"/>
<path d="M593.5 297.4h2.8v2.8h-2.8z" fill="#f3c"/>
<path d="M596 297.4h2.8v2.8h-2.8z" fill="#f3b"/>
<path d="M601 297.4h2.8v2.8h-2.8zM601 299.9h2.8v2.8h-2.8z" fill="#f2a"/>
<path d="M603.5 297.4h5.3v2.8h-5.3z" fill="#f29"/>
<path d="M608.5 297.4h2.8v2.8h-2.8zM608.5 299.9h2.8v2.8h-2.8z" fill="#f18"/>
<path d="M611 297.4h5.3v2.8h-5.3z" fill="#f17"/>
<path d="M618.5 297.4h2.8v2.8h-2.8zM618.5 299.9h2.8v2.8h-2.8z" fill="#f06"/>
<path d="M538.5 299.9h2.8v2.8h-2.8zM536 302.4h5.3v2.8h-5.3z" fill="#09f"/>
<path d="M541 299.9h5.3v2.8h-5.3zM541 302.4h2.8v2.8h-2.8z" fill="#19f"/>
<path d="M546 299.9h2.8v2.8h-2.8z" fill="#29f"/>
<path d="M551 299.9h2.8v2.8h-2.8zM551 302.4h2.8v2.8h-2.8z" fill="#38f"/>
<path d="M553.5 299.9h2.8v2.8h-2.8z" fill="#48f"/>
<path d="M556 299.9h2.8v2.8h-2.8z" fill="#47f"/>
<path d="M558.5 299.9h2.8v2.8h-2.8z" fill="#56f"/>
<path d="M561 299.9h2.8v2.8h-2.8z" fill="#65f"/>
<path d="M563.5 299.9h2.8v2.8h-2.8z" fill="#96f"/>
<path d="M566 299.9h2.8v2.8h-2.8z" fill="#a6f"/>
<path d="M571 299.9h2.8v2.8h-2.8z" fill="#b5f"/>
<path d="M578.5 299.9h2.8v2.8h-2.8zM578.5 302.4h2.8v2.8h-2.8z" fill="#d4f"/>
<path d="M581 299.9h2.8v2.8h-2.8z" fill="#e4f"/>
<path d="M586 299.9h5.3v2.8h-5.3z" fill="#f3e"/>
<path d="M591 299.9h2.8v2.8h-2.8z" fill="#f3d"/>
<path d="M593.5 299.9h2.8v2.8h-2.8zM593.5 302.4h2.8v2.8h-2.8z" fill="#f2c"/>
<path d="M596 299.9h5.3v2.8h-5.3z" fill="#f2b"/>
<path d="M603.5 299.9h5.3v2.8h-5.3z" fill="#f19"/>
<path d="M611 299.9h2.8v2.8h-2.8zM608.5 302.4h7.8v2.8h-7.8z" fill="#f08"/>
<path d="M613.5 299.9h5.3v2.8h-5.3z" fill="#f07"/>
<path d="M543.5 302.4h2.8v2.8h-2.8zM543.5 304.9h2.8v2.8h-2.8z" fill="#18f"/>
<path d="M546 302.4h5.3v2.8h-5.3z" fill="#28f"/>
<path d="M553.5 302.4h2.8v2.8h-2.8z" fill="#37f"/>
<path d="M556 302.4h2.8v2.8h-2.8z" fill="#46f"/>
<path d="M558.5 302.4h2.8v2.8h-2.8z" fill="#45f"/>
<path d="M561 302.4h2.8v2.8h-2.8z" fill="#75f"/>
<path d="M563.5 302.4h2.8v2.8h-2.8zM563.5 304.9h2.8v2.8h-2.8z" fill="#95f"/>
<path d="M566 302.4h5.3v2.8h-5.3z" fill="#a5f"/>
<path d="M571 302.4h2.8v2.8h-2.8zM571 304.9h2.8v2.8h-2.8z" fill="#b4f"/>
<path d="M573.5 302.4h5.3v2.8h-5.3z" fill="#c4f"/>
<path d="M581 302.4h5.3v2.8h-5.3z" fill="#e3f"/>
<path d="M586 302.4h2.8v2.8h-2.8z" fill="#f3f"/>
<path d="M588.5 302.4h2.8v2.8h-2.8zM588.5 304.9h2.8v2.8h-2.8z" fill="#f2e"/>
<path d="M591 302.4h2.8v2.8h-2.8z" fill="#f2d"/>
<path d="M596 302.4h2.8v2.8h-2.8zM596 304.9h2.8v2.8h-2.8z" fill="#f1c"/>
<path d="M598.5 302.4h2.8v2.8h-2.8z" fill="#f1b"/>
<path d="M601 302.4h5.3v2.8h-5.3z" fill="#f1a"/>
<path d="M606 302.4h2.8v2.8h-2.8zM606 304.9h2.8v2.8h-2.8z" fill="#f09"/>
<path d="M538.5 304.9h5.3v2.8h-5.3zM538.5 307.4h2.8v2.8h-2.8z" fill="#08f"/>
<path d="M546 304.9h5.3v2.8h-5.3z" fill="#27f"/>
<path d="M551 304.9h5.3v2.8h-5.3z" fill="#36f"/>
<path d="M556 304.9h2.8v2.8h-2.8z" fill="#44f"/>
<path d="M558.5 304.9h2.8v2.8h-2.8z" fill="#54f"/>
<path d="M561 304.9h2.8v2.8h-2.8zM561 307.4h2.8v2.8h-2.8z" fill="#84f"/>
<path d="M566 304.9h5.3v2.8h-5.3zM566 307.4h2.8v2.8h-2.8z" fill="#a4f"/>
<path d="M573.5 304.9h2.8v2.8h-2.8zM571 307.4h5.3v2.8h-5.3z" fill="#b3f"/>
<path d="M576 304.9h2.8v2.8h-2.8z" fill="#c3f"/>
<path d="M578.5 304.9h2.8v2.8h-2.8z" fill="#d3f"/>
<path d="M581 304.9h2.8v2.8h-2.8zM581 307.4h2.8v2.8h-2.8z" fill="#d2f"/>
<path d="M583.5 304.9h2.8v2.8h-2.8z" fill="#e2f"/>
<path d="M586 304.9h2.8v2.8h-2.8z" fill="#f2f"/>
<path d="M591 304.9h5.3v2.8h-5.3z" fill="#f1d"/>
<path d="M598.5 304.9h2.8v2.8h-2.8zM598.5 307.4h5.3v2.8h-5.3z" fill="#f0b"/>
<path d="M601 304.9h5.3v2.8h-5.3z" fill="#f0a"/>
<path d="M541 307.4h2.8v2.8h-2.8z" fill="#07f"/>
<path d="M543.5 307.4h5.3v2.8h-5.3z" fill="#17f"/>
<path d="M548.5 307.4h2.8v2.8h-2.8z" fill="#26f"/>
<path d="M551 307.4h2.8v2.8h-2.8z" fill="#25f"/>
<path d="M553.5 307.4h2.8v2.8h-2.8z" fill="#34f"/>
<path d="M556 307.4h2.8v2.8h-2.8z" fill="#43f"/>
<path d="M558.5 307.4h2.8v2.8h-2.8z" fill="#74f"/>
<path d="M563.5 307.4h2.8v2.8h-2.8z" fill="#94f"/>
<path d="M568.5 307.4h2.8v2.8h-2.8z" fill="#a3f"/>
<path d="M576 307.4h5.3v2.8h-5.3zM576 309.9h2.8v2.8h-2.8z" fill="#c2f"/>
<path d="M583.5 307.4h2.8v2.8h-2.8zM583.5 309.9h2.8v2.8h-2.8z" fill="#e1f"/>
<path d="M586 307.4h2.8v2.8h-2.8z" fill="#f1f"/>
<path d="M588.5 307.4h5.3v2.8h-5.3z" fill="#f1e"/>
<path d="M593.5 307.4h2.8v2.8h-2.8zM593.5 309.9h2.8v2.8h-2.8z" fill="#f0d"/>
<path d="M596 307.4h2.8v2.8h-2.8z" fill="#f0c"/>
<path d="M541 309.9h5.3v2.8h-5.3zM541 312.4h2.8v2.8h-2.8z" fill="#06f"/>
<path d="M546 309.9h2.8v2.8h-2.8z" fill="#16f"/>
<path d="M548.5 309.9h2.8v2.8h-2.8z" fill="#15f"/>
<path d="M551 309.9h2.8v2.8h-2.8z" fill="#24f"/>
<path d="M553.5 309.9h2.8v2.8h-2.8zM551 312.4h2.8v2.8h-2.8z" fill="#22f"/>
<path d="M556 309.9h2.8v2.8h-2.8z" fill="#53f"/>
<path d="M558.5 309.9h2.8v2.8h-2.8z" fill="#73f"/>
<path d="M561 309.9h7.8v2.8h-7.8zM561 312.4h2.8v2.8h-2.8z" fill="#93f"/>
<path d="M568.5 309.9h5.3v2.8h-5.3zM568.5 312.4h2.8v2.8h-2.8z" fill="#a2f"/>
<path d="M573.5 309.9h2.8v2.8h-2.8z" fill="#b2f"/>
<path d="M578.5 309.9h2.8v2.8h-2.8zM576 312.4h5.3v2.8h-5.3z" fill="#c1f"/>
<path d="M581 309.9h2.8v2.8h-2.8z" fill="#d1f"/>
<path d="M586 309.9h5.3v2.8h-5.3zM588.5 312.4h2.8v2.8h-2.8z" fill="#f0f"/>
<path d="M591 309.9h2.8v2.8h-2.8z" fill="#f0e"/>
<path d="M543.5 312.4h2.8v2.8h-2.8z" fill="#05f"/>
<path d="M546 312.4h2.8v2.8h-2.8z" fill="#14f"/>
<path d="M548.5 312.4h2.8v2.8h-2.8z" fill="#13f"/>
<path d="M553.5 312.4h2.8v2.8h-2.8z" fill="#32f"/>
<path d="M556 312.4h2.8v2.8h-2.8z" fill="#62f"/>
<path d="M558.5 312.4h2.8v2.8h-2.8z" fill="#83f"/>
<path d="M563.5 312.4h5.3v2.8h-5.3zM563.5 314.9h2.8v2.8h-2.8z" fill="#92f"/>
<path d="M571 312.4h2.8v2.8h-2.8zM568.5 314.9h5.3v2.8h-5.3z" fill="#a1f"/>
<path d="M573.5 312.4h2.8v2.8h-2.8z" fill="#b1f"/>
<path d="M581 312.4h2.8v2.8h-2.8zM581 314.9h2.8v2.8h-2.8z" fill="#d0f"/>
<path d="M583.5 312.4h5.3v2.8h-5.3z" fill="#e0f"/>
<path d="M543.5 314.9h2.8v2.8h-2.8z" fill="#04f"/>
<path d="M546 314.9h2.8v2.8h-2.8zM543.5 317.4h2.8v2.8h-2.8z" fill="#03f"/>
<path d="M548.5 314.9h2.8v2.8h-2.8z" fill="#12f"/>
<path d="M551 314.9h2.8v2.8h-2.8z" fill="#21f"/>
<path d="M553.5 314.9h2.8v2.8h-2.8z" fill="#52f"/>
<path d="M556 314.9h2.8v2.8h-2.8zM556 317.4h2.8v2.8h-2.8z" fill="#72f"/>
<path d="M558.5 314.9h5.3v2.8h-5.3z" fill="#82f"/>
<path d="M566 314.9h2.8v2.8h-2.8zM563.5 317.4h5.3v2.8h-5.3z" fill="#91f"/>
<path d="M573.5 314.9h5.3v2.8h-5.3zM573.5 317.4h5.3v2.8h-5.3z" fill="#b0f"/>
<path d="M578.5 314.9h2.8v2.8h-2.8z" fill="#c0f"/>
<path d="M546 317.4h2.8v2.8h-2.8z" fill="#02f"/>
<path d="M548.5 317.4h2.8v2.8h-2.8z" fill="#11f"/>
<path d="M551 317.4h2.8v2.8h-2.8z" fill="#31f"/>
<path d="M553.5 317.4h2.8v2.8h-2.8zM553.5 319.9h2.8v2.8h-2.8z" fill="#61f"/>
<path d="M558.5 317.4h5.3v2.8h-5.3zM558.5 319.9h2.8v2.8h-2.8z" fill="#81f"/>
<path d="M568.5 317.4h5.3v2.8h-5.3zM568.5 319.9h2.8v2.8h-2.8z" fill="#a0f"/>
<path d="M546 319.9h2.8v2.8h-2.8z" fill="#00f"/>
<path d="M548.5 319.9h2.8v2.8h-2.8z" fill="#10f"/>
<path d="M551 319.9h2.8v2.8h-2.8z" fill="#41f"/>
<path d="M556 319.9h2.8v2.8h-2.8z" fill="#71f"/>
<path d="M561 319.9h5.3v2.8h-5.3zM558.5 322.4h5.3v2.8h-5.3z" fill="#80f"/>
<path d="M566 319.9h2.8v2.8h-2.8zM563.5 322.4h2.8v2.8h-2.8z" fill="#90f"/>
<path d="M548.5 322.4h2.8v2.8h-2.8z" fill="#30f"/>
<path d="M551 322.4h2.8v2.8h-2.8z" fill="#50f"/>
<path d="M553.5 322.4h2.8v2.8h-2.8zM551 324.9h2.8v2.8h-2.8z" fill="#60f"/>
<path d="M556 322.4h2.8v2.8h-2.8zM553.5 324.9h5.3v2.8h-5.3z" fill="#70f"/>
</g></g>
<rect x="596" y="192.8" width="74.79999999999995" height="45.3" fill="#ebebeb"/>
<path d="M554.7 325.9 L554.7 325.9 L554.6 325.9 L554.5 325.9 L554.2 325.8 L554.1 325.7 L553.8 325.6 L553.5 325.3 L553 325 L552.5 324.5 L551.7 324 L550.7 323.2 L549.5 322.2 L548.1 320.6 L546.1 318 L543.6 313.6 L540.5 306.7 L536.6 296.6 L532.6 282.5 L528.9 264.9 L526.3 246.1 L525.5 228.6 L527.2 214.4 L531.5 205.1 L537.6 201.9 L544.4 203 L551.4 206 L557.9 209.7 L564.2 213.8 L570.4 218.2 L576.6 223 L582.7 228 L588.8 233.2 L594.9 238.4 L601 243.6 L607 248.8 L612.7 253.8 L618.3 258.6 L623.5 263.1 L628.2 267.3 L632.4 270.9 L636 274 L639 276.6 L641.5 278.8 L643.4 280.5 L645 281.8 L646.3 282.9 L648.2 284.6 L649.4 285.6 L650 286.2 L650.6 286.7 L650.9 286.9Z" fill="none" stroke="#111" stroke-width="1.2" stroke-linejoin="round"/>
<path d="M549.5 322.2L548 323.7M548.1 320.6L546.4 322M546.1 318L544.3 319.1M543.6 313.6L541.7 314.6M540.5 306.7L538.5 307.6M536.6 296.6L534.5 297.3M532.6 282.5L530.5 283M528.9 264.9L526.7 265.2M526.3 246.1L524.1 246.3M525.5 228.6L523.3 228.6M527.2 214.4L525.1 213.8M531.5 205.1L529.8 203.7M537.6 201.9L537.2 199.7M544.4 203L545.1 200.9M551.4 206L552.4 204.1M557.9 209.7L559.1 207.8M564.2 213.8L565.5 211.9M570.4 218.2L571.8 216.5M576.6 223L577.9 221.3M582.7 228L584.1 226.3M588.8 233.2L590.3 231.5M594.9 238.4L596.4 236.7M601 243.6L602.5 242M607 248.8L608.4 247.1M612.7 253.8L614.2 252.1M618.3 258.6L619.7 257M623.5 263.1L624.9 261.5M628.2 267.3L629.7 265.6M632.4 270.9L633.8 269.2M636 274L637.5 272.4M639 276.6L640.5 275M641.5 278.8L642.9 277.1M643.4 280.5L644.9 278.8M645 281.8L646.4 280.2M646.3 282.9L647.7 281.3M648.2 284.6L649.6 282.9" stroke="#111" stroke-width="1"/>
<circle cx="554.2" cy="326.2" r="1.6" fill="#111"/>
<path d="M645.9 284.7L653.5 286.7L646.9 289.1Z" fill="#111"/>
<rect x="504.6" y="192.3" width="166.69999999999993" height="138.5" fill="none" stroke="#3b3030" stroke-width="1.1"/>
<text x="528.5" y="200.9" font-size="10.6" text-anchor="start" fill="#22e022">520</text>
<text x="565.8" y="211.5" font-size="10.6" text-anchor="start" fill="#30e030">540</text>
<text x="505" y="251.2" font-size="10.6" text-anchor="start" fill="#26e8a8">500</text>
<text x="516.8" y="311.6" font-size="10.6" text-anchor="start" fill="#2f86e6">480</text>
<text x="527.9" y="328.8" font-size="10.6" text-anchor="start" fill="#9b3fe6">380</text>
<text x="616.8" y="250.8" font-size="10.6" text-anchor="start" fill="#ffb21e">580</text>
<text x="632.6" y="266.3" font-size="10.6" text-anchor="start" fill="#ff7028">600</text>
<text x="646.7" y="278.1" font-size="10.6" text-anchor="start" fill="#ff2a2a">620</text>
<rect x="547.8" y="308.6" width="5.2" height="5.2" fill="#ff1a1a"/>
<rect x="576.8" y="239.8" width="5.2" height="5.2" fill="#8e2f62"/>
<rect x="595.8" y="249" width="5.2" height="5.2" fill="#4a63b2"/>
<rect x="628.1" y="271.3" width="5.2" height="5.2" fill="#12a2f2"/>
<rect x="598.4" y="197.3" width="4.8" height="4.8" fill="#ff1a1a"/>
<text x="605.4" y="203.1" font-size="10.6" text-anchor="start" fill="#111">2PACz@PVA</text>
<rect x="598.4" y="208.3" width="4.8" height="4.8" fill="#8e2f62"/>
<text x="605.4" y="214.1" font-size="10.6" text-anchor="start" fill="#111">Fluc</text>
<rect x="598.4" y="218.6" width="4.8" height="4.8" fill="#4a63b2"/>
<text x="605.4" y="224.4" font-size="10.6" text-anchor="start" fill="#111">Rh123</text>
<rect x="598.4" y="229.7" width="4.8" height="4.8" fill="#12a2f2"/>
<text x="605.4" y="235.5" font-size="10.6" text-anchor="start" fill="#111">Rh6G</text>
<text x="524.9" y="345" font-size="10.6" text-anchor="middle" fill="#231f20">0.0</text>
<text x="559.1" y="345" font-size="10.6" text-anchor="middle" fill="#231f20">0.2</text>
<text x="593.5" y="345" font-size="10.6" text-anchor="middle" fill="#231f20">0.4</text>
<text x="627.8" y="345" font-size="10.6" text-anchor="middle" fill="#231f20">0.6</text>
<text x="662.1" y="345" font-size="10.6" text-anchor="middle" fill="#231f20">0.8</text>
<text x="499.6" y="331.2" font-size="10.6" text-anchor="end" fill="#231f20">0.0</text>
<text x="499.6" y="286.3" font-size="10.6" text-anchor="end" fill="#231f20">0.3</text>
<text x="499.6" y="241.4" font-size="10.6" text-anchor="end" fill="#231f20">0.6</text>
<text x="499.6" y="196.6" font-size="10.6" text-anchor="end" fill="#231f20">0.9</text>
<text x="583.2" y="357.6" font-size="10.6" text-anchor="middle" fill="#231f20">X</text>
<text x="475.8" y="258.7" font-size="10.6" text-anchor="middle" fill="#231f20" transform="rotate(-90 475.8 258.7)">Y</text>
<text x="5" y="377.6" font-size="10" text-anchor="start" fill="#000" font-weight="bold">f</text>
<path d="M38.6 377.6V390.8" stroke="#12a2f6" stroke-width="1.4" fill="none"/>
<polyline points="38.6,390.8 39.1,391.7 39.6,392.3 40.1,392.7 40.6,393 41.1,393.2 41.6,393.5 42.1,393.7 42.6,393.9 43.1,394.1 43.6,394.2 44.1,394.4 44.6,394.6 45.1,394.7 45.6,394.9 46.1,395 46.6,395.1 47.1,395.3 47.6,395.4 48.1,395.5 48.6,395.7 49.1,395.8 49.6,395.9 50.1,396 50.6,396.1 51.1,396.2 51.6,396.3 52.1,396.4 52.6,396.5 53.1,396.6 53.6,396.7 54.1,396.8 54.6,396.9 55.1,397 55.6,397.1 56.1,397.2 56.6,397.3 57.1,397.4 57.6,397.5 58.1,397.6 58.6,397.7 59.1,397.8 59.6,397.9 60.1,398 60.6,398.1 61.1,398.2 61.6,398.3 62.1,398.4 62.6,398.5 63.1,398.6 63.6,398.7 64.1,398.8 64.6,398.9 65.1,399 65.6,399.1 66.1,399.2 66.6,399.2 67.1,399.3 67.6,399.4 68.1,399.5 68.6,399.6 69.1,399.7 69.6,399.8 70.1,399.9 70.6,400 71.1,400.1 71.6,400.2 72.1,400.2 72.6,400.3 73.1,400.4 73.6,400.5 74.1,400.6 74.6,400.7 75.1,400.8 75.6,400.9 76.1,401 76.6,401 77.1,401.1 77.6,401.2 78.1,401.3 78.6,401.4 79.1,401.5 79.6,401.6 80.1,401.6 80.6,401.7 81.1,401.8 81.6,401.9 82.1,402 82.6,402.1 83.1,402.1 83.6,402.2 84.1,402.3 84.6,402.4 85.1,402.5 85.6,402.5 86.1,402.6 86.6,402.7 87.1,402.8 87.6,402.9 88.1,402.9 88.6,403 89.1,403.1 89.6,403.2 90.1,403.3 90.6,403.3 91.1,403.4 91.6,403.5 92.1,403.6 92.6,403.6 93.1,403.7 93.6,403.8 94.1,403.9 94.6,404 95.1,404 95.6,404.1 96.1,404.2 96.6,404.3 97.1,404.3 97.6,404.4 98.1,404.5 98.6,404.6 99.1,404.6 99.6,404.7 100.1,404.8 100.6,404.8 101.1,404.9 101.6,405 102.1,405.1 102.6,405.1 103.1,405.2 103.6,405.3 104.1,405.3 104.6,405.4 105.1,405.5 105.6,405.6 106.1,405.6 106.6,405.7 107.1,405.8 107.6,405.8 108.1,405.9 108.6,406 109.1,406 109.6,406.1 110.1,406.2 110.6,406.2 111.1,406.3 111.6,406.4 112.1,406.4 112.6,406.5 113.1,406.6 113.6,406.6 114.1,406.7 114.6,406.7 115.1,406.8 115.6,406.9 116.1,406.9 116.6,407 117.1,407 117.6,407.1 118.1,407.2 118.6,407.2 119.1,407.3 119.6,407.3 120.1,407.4 120.6,407.5 121.1,407.5 121.6,407.6 122.1,407.6 122.6,407.7 123.1,407.8 123.6,407.8 124.1,407.9 124.6,407.9 125.1,408 125.6,408.1 126.1,408.1 126.6,408.2 127.1,408.2 127.6,408.3 128.1,408.3 128.6,408.4 129.1,408.5 129.6,408.5 130.1,408.6 130.6,408.6 131.1,408.7 131.6,408.8 132.1,408.8 132.6,408.9 133.1,408.9 133.6,409 134.1,409.1 134.6,409.1 135.1,409.2 135.6,409.3 136.1,409.3 136.6,409.4 137.1,409.4 137.6,409.5 138.1,409.6 138.6,409.6 139.1,409.7 139.6,409.8 140.1,409.8 140.6,409.9 141.1,410 141.6,410 142.1,410.1 142.6,410.1 143.1,410.2 143.6,410.3 144.1,410.3 144.6,410.4 145.1,410.5 145.6,410.5 146.1,410.6 146.6,410.7 147.1,410.7 147.6,410.8 148.1,410.9 148.6,410.9 149.1,411 149.6,411.1 150.1,411.1 150.6,411.2 151.1,411.3 151.6,411.3 152.1,411.4 152.6,411.5 153.1,411.5 153.6,411.6 154.1,411.7 154.6,411.7 155.1,411.8 155.6,411.9 156.1,411.9 156.6,412 157.1,412 157.6,412.1 158.1,412.2 158.6,412.2 159.1,412.3 159.6,412.4 160.1,412.4 160.6,412.5 161.1,412.6 161.6,412.6 162.1,412.7 162.6,412.7 163.1,412.8 163.6,412.9 164.1,412.9 164.6,413 165.1,413.1 165.6,413.1 166.1,413.2 166.6,413.2 167.1,413.3 167.6,413.4 168.1,413.4 168.6,413.5 169.1,413.5 169.6,413.6 170.1,413.7 170.6,413.7 171.1,413.8 171.6,413.9 172.1,413.9 172.6,414 173.1,414 173.6,414.1 174.1,414.2 174.6,414.2 175.1,414.3 175.6,414.3 176.1,414.4 176.6,414.5 177.1,414.5 177.6,414.6 178.1,414.6 178.6,414.7 179.1,414.8 179.6,414.8 180.1,414.9 180.6,414.9 181.1,415 181.6,415.1 182.1,415.1 182.6,415.2 183.1,415.2 183.6,415.3 184.1,415.4 184.6,415.4 185.1,415.5 185.6,415.5 186.1,415.6 186.6,415.6 187.1,415.7 187.6,415.7 188.1,415.8 188.6,415.9 189.1,415.9 189.6,416 190.1,416 190.6,416.1 191.1,416.1 191.6,416.2 192.1,416.2 192.6,416.3 193.1,416.3 193.6,416.4 194.1,416.4 194.6,416.5 195.1,416.6 195.6,416.6 196.1,416.7 196.6,416.7 197.1,416.8 197.6,416.8 198.1,416.9 198.6,416.9 199.1,417 199.6,417 200.1,417.1 200.6,417.1 201.1,417.2 201.6,417.2 202.1,417.3 202.6,417.3 203.1,417.4" fill="none" stroke="#12a2f6" stroke-width="1.3"/>
<path d="M38.6 390.4V391.3M38.9 391V391.8M39.2 391.6V392.4M39.5 391.8V392.6M39.8 392.1V392.9M40.1 392.4V393.2M40.4 392.5V393.3M40.7 392.6V393.4M41 392.8V393.7M41.3 392.9V393.9M41.6 393.1V393.9M41.9 393.3V394.1M42.2 393.4V394.2M42.5 393.4V394.4M42.8 393.6V394.4M43.1 393.7V394.5M43.4 393.8V394.8M43.7 393.9V394.8M44 394V394.8M44.3 394.1V394.9M44.6 394.3V395.1M44.9 394.2V395M45.2 394.3V395.1M45.5 394.4V395.3M45.8 394.5V395.3M46.1 394.5V395.4M46.4 394.6V395.5M46.7 394.7V395.7M47 394.8V395.8M47.3 394.7V395.9M47.6 394.7V395.8M47.9 395.1V395.9M48.2 395.3V396.1M48.5 395.2V396M48.8 395.4V396.4M49.1 395.3V396.3M49.4 395.5V396.3M49.7 395.5V396.5M50 395.5V396.5M50.3 395.6V396.6M50.6 395.8V396.7M50.9 395.7V396.7M51.2 395.8V397M51.5 396V397.1M51.8 396V397M52.1 396V397M52.4 396.1V397M52.7 396.1V397.3M53 396.2V397.1M53.3 396.2V397.1M53.6 396.4V397.2M53.9 396.4V397.3M54.2 396.3V397.4M54.5 396.5V397.3M54.8 396.5V397.7M55.1 396.6V397.7M55.4 396.6V397.9M55.7 396.8V397.6M56 396.7V398M56.3 396.7V397.7M56.6 396.9V397.8M56.9 396.9V398M57.2 397V398M57.5 397.1V398M57.8 397.1V398.1M58.1 397.2V398.4M58.4 397.2V398.3M58.7 397.3V398.4M59 397.3V398.4M59.3 397.3V398.8M59.6 397.4V398.6M59.9 397.7V398.7M60.2 397.6V398.7M60.5 397.6V398.8M60.8 397.7V398.8M61.1 397.6V398.7M61.4 397.9V399.1M61.7 397.8V399M62 398V399.3M62.3 397.8V399M62.6 398V399M62.9 398V399.2M63.2 398.1V399.2M63.5 398.2V399.3M63.8 398.2V399.4M64.1 398.2V399.7M64.4 398.3V399.5M64.7 398.2V399.6M65 398.3V399.5M65.3 398.5V399.8M65.6 398.5V399.6M65.9 398.6V399.8M66.2 398.6V399.6M66.5 398.8V400.1M66.8 398.8V399.9M67.1 398.8V399.8M67.4 398.9V399.9M67.7 399V400M68 398.9V400.4M68.3 399.2V400.2M68.6 399.1V400.3M68.9 399.2V400.2M69.2 399.2V400.7M69.5 399.2V400.7M69.8 399.5V400.5M70.1 399.3V400.7M70.4 399.3V400.8M70.7 399.5V400.9M71 399.5V400.6M71.3 399.6V401M71.6 399.5V400.8M71.9 399.7V400.7M72.2 399.6V400.7M72.5 399.7V401.2M72.8 399.9V401.1M73.1 399.9V401.1M73.4 399.7V401M73.7 400V401.4M74 399.9V401.6M74.3 400V401.2M74.6 400V401.4M74.9 400.3V401.3M75.2 400V401.4M75.5 400.4V401.5M75.8 400.3V401.4M76.1 400.5V401.7M76.4 400.5V401.6M76.7 400.6V401.9M77 400.6V401.8M77.3 400.7V401.7M77.6 400.7V402.3M77.9 400.6V402.2M78.2 400.8V402.4M78.5 400.8V401.9M78.8 400.7V401.9M79.1 400.8V402.4M79.4 400.8V402.3M79.7 400.9V402.4M80 400.7V402.5M80.3 401.3V402.1M80.6 401.1V402.8M80.9 401.4V402.7M81.2 401.3V402.3M81.5 401.3V402.4M81.8 401.4V403M82.1 401.2V402.5M82.4 401.5V402.8M82.7 401.4V402.6M83 401.4V403.3M83.3 401.5V403.2M83.6 401.8V403.1M83.9 401.7V403.2M84.2 401.6V402.9M84.5 401.8V403M84.8 401.8V403.4M85.1 401.8V403.3M85.4 401.9V403.6M85.7 401.9V403.3M86 401.9V403.4M86.3 402.1V403.5M86.6 402V403.3M86.9 402V403.8M87.2 402.3V403.8M87.5 402.3V403.7M87.8 402.2V403.9M88.1 402.3V403.8M88.4 402.4V403.5M88.7 402.3V403.7M89 402.5V403.8M89.3 402.6V403.7M89.6 402.4V404.3M89.9 402.6V404.3M90.2 402.8V404.1M90.5 402.7V404M90.8 402.6V404.2M91.1 402.8V403.7M91.4 402.8V404.2M91.7 402.5V404.2M92 402.8V404.7M92.3 403.2V404.5M92.6 402.9V404.6M92.9 403V404.6M93.2 403.2V404.8M93.5 403.1V404.9M93.8 403.3V404.8M94.1 403.3V404.5M94.4 403.2V404.8M94.7 403.2V405M95 403.4V404.6M95.3 403.4V404.7M95.6 403.4V405.2M95.9 403.3V405M96.2 403.6V405.3M96.5 403.5V405.1M96.8 403.3V405.4M97.1 403.7V404.8M97.4 403.6V405.1M97.7 403.6V405.4M98 403.8V405.2M98.3 403.8V405.8M98.6 403.8V405.1M98.9 403.9V405.6M99.2 404V405.6M99.5 404V405.4M99.8 404.1V405.8M100.1 404V406.2M100.4 403.7V406M100.7 404V406.1M101 404.1V405.9M101.3 404.2V406M101.6 404.3V405.9M101.9 404.6V405.9M102.2 404.3V405.9M102.5 404.3V406.8M102.8 404.4V406.2M103.1 404.4V405.7M103.4 404.5V406.1M103.7 404.7V405.6M104 404.5V406.6M104.3 404.8V406.6M104.6 404.7V406M104.9 404.9V406.5M105.2 404.7V406.7M105.5 404.7V406.4M105.8 404.6V406.8M106.1 404.8V406.5M106.4 404.8V406.5M106.7 405.2V406.2M107 404.9V406.9M107.3 405.4V406.8M107.6 405V407.2M107.9 405.1V407.5M108.2 405.1V407M108.5 405.1V406.7M108.8 405.3V406.9M109.1 405.2V406.9M109.4 405.3V407.1M109.7 405V407M110 405.4V407.4M110.3 405.4V407.2M110.6 405.2V407.2M110.9 405.4V407.2M111.2 405.9V407.5M111.5 405.7V407.4M111.8 405.6V407.2M112.1 405.6V407.2M112.4 405.6V407M112.7 405.7V407.9M113 405.9V407.3M113.3 405.7V407.5M113.6 405.7V407.5M113.9 405.8V407.5M114.2 406.1V407.9M114.5 406.1V408M114.8 406.3V407.9M115.1 406V407.7M115.4 406.1V407.7M115.7 406.2V407.9M116 406.1V408.1M116.3 406.1V408.4M116.6 406.1V408M116.9 406.2V408.5M117.2 406.2V407.7M117.5 406.4V408.2M117.8 406.3V408.8M118.1 406.3V408.4M118.4 406.4V408M118.7 406.4V408.8M119 406.5V408.7M119.3 406.6V408.8M119.6 406.2V408.4M119.9 406.5V407.8M120.2 406.5V408.6M120.5 406.7V408.9M120.8 406.6V408.4M121.1 406.6V409.3M121.4 406.6V408.9M121.7 406.8V408.8M122 406.9V408.5M122.3 406.7V408.8M122.6 406.8V408.7M122.9 407V408.6M123.2 407.2V408.8M123.5 406.9V409.4M123.8 407V408.8M124.1 407V409.2M124.4 407V409.1M124.7 407.1V409.1M125 407.3V409.2M125.3 407.1V409M125.6 407.2V409.7M125.9 407.3V409.2M126.2 407.4V409.5M126.5 407.3V409.5M126.8 407.5V409.8M127.1 407V409.3M127.4 407.5V409M127.7 407.1V409.2M128 407.4V409.9M128.3 407.5V409.2M128.6 407.7V409.8M128.9 407.7V409.7M129.2 407.9V409.9M129.5 407.8V409.4M129.8 407.6V409.2M130.1 407.9V409.7M130.4 407.7V409.5M130.7 408.3V410M131 407.8V409.7M131.3 407.9V410M131.6 407.9V409.6M131.9 407.9V409.9M132.2 407.9V409.9M132.5 408.1V410.1M132.8 408.1V410.3M133.1 408.1V409.8M133.4 408.2V410.3M133.7 407.6V410.4M134 408.1V410M134.3 408.1V410.3M134.6 408.2V410.6M134.9 408V410.4M135.2 408.2V410.4M135.5 408.3V410.4M135.8 408.5V410.6M136.1 408.4V410.4M136.4 408.5V410.6M136.7 408.5V411M137 408.4V410.2M137.3 408.6V410.9M137.6 408.5V410.5M137.9 408.6V410.4M138.2 408.6V411.3M138.5 408.6V410.4M138.8 408.6V410.7M139.1 408.7V410.6M139.4 408.8V411M139.7 408.8V410.7M140 408.9V410.5M140.3 408.9V410.8M140.6 409V411.2M140.9 409.2V410.9M141.2 409.3V411.5M141.5 409.1V410.9M141.8 408.6V411.6M142.1 409.3V411.4M142.4 409.2V411.1M142.7 409.3V411.6M143 409.2V411.9M143.3 409.2V411.9M143.6 409.5V411.1M143.9 409.3V411.4M144.2 409.6V411.5M144.5 409.4V412.3M144.8 409.5V412.3M145.1 409.7V411.8M145.4 409.6V411.4M145.7 409.1V411.9M146 409.7V411.7M146.3 409.9V412.5M146.6 409.8V411.9M146.9 409.9V412.4M147.2 409.9V412.1M147.5 409.4V412.3M147.8 410V412.3M148.1 409.9V411.7M148.4 409.8V412M148.7 410.1V412.8M149 410.1V412.1M149.3 410.2V411.6M149.6 410.2V412.7M149.9 410.3V412.8M150.2 410.1V412.4M150.5 410.2V412.8M150.8 410.2V412.9M151.1 410.5V413.2M151.4 410.4V412.2M151.7 410.5V412.8M152 410.3V413.3M152.3 410.4V412.4M152.6 410.3V412.6M152.9 410.6V413.1M153.2 410.6V412.4M153.5 410.5V412.4M153.8 410.6V412.8M154.1 410.6V413.1M154.4 411.2V412.5M154.7 410.7V413.2M155 410.9V413.7M155.3 411V413.6M155.6 410.9V413.4M155.9 410.8V412.7M156.2 410.9V413.8M156.5 411.3V413.5M156.8 410.9V412.8M157.1 411.2V413.7M157.4 411.1V414M157.7 411V414M158 411V413.6M158.3 411.2V413.9M158.6 411V413.4M158.9 411.3V414.4M159.2 411.4V414.3M159.5 411.6V414.1M159.8 411.6V413.5M160.1 411.5V414.5M160.4 411.3V414.4M160.7 411.7V413.7M161 411.7V414.1M161.3 411.9V414M161.6 411.3V414.6M161.9 411.5V414.2M162.2 411.5V414.7M162.5 411.7V414.5M162.8 411.6V415.1M163.1 411.7V414.7M163.4 411.9V413.9M163.7 411.9V414.9M164 411.5V414.7M164.3 411.8V414.2M164.6 411.8V413.8M164.9 412V414M165.2 411.6V414.6M165.5 411.9V414.4M165.8 412.1V414.8M166.1 412.2V414.9M166.4 412.1V414.2M166.7 412.4V415M167 412.3V414.7M167.3 412.4V415M167.6 412.2V414.8M167.9 412.2V414.4M168.2 412.5V415.5M168.5 412.1V414.4M168.8 412.5V415.9M169.1 412.4V415.2M169.4 412.5V415.3M169.7 412.4V415.1M170 412.8V416.2M170.3 412.4V415.8M170.6 412.5V415.4M170.9 412.8V414.8M171.2 412.7V415.1M171.5 412.8V416.1M171.8 412.7V415.4M172.1 412.7V414.8M172.4 412.7V414.8M172.7 412.8V415.2M173 412.8V415.4M173.3 413.3V415.4M173.6 412.9V415.8M173.9 413.1V415.6M174.2 413.2V415.4M174.5 412.7V416.2M174.8 413.1V416.3M175.1 413.1V416M175.4 413.1V416.5M175.7 413.1V415.5M176 412.8V416.1M176.3 413.2V416.5M176.6 413.3V416.7M176.9 413.2V416.2M177.2 413.3V416.1M177.5 413.6V415.9M177.8 413.7V415.4M178.1 413.7V415.7M178.4 413.6V415.9M178.7 413.5V416.2M179 413.8V415.2M179.3 413.5V416M179.6 413.5V416.6M179.9 413.5V416M180.2 413.8V417.1M180.5 413.6V415.9M180.8 413.7V416.7M181.1 413.8V416.8M181.4 413.8V416.5M181.7 414.1V416.2M182 413.9V417.6M182.3 413.9V415.8M182.6 414V416.5M182.9 414.4V417.9M183.2 414.1V416.8M183.5 414V417.2M183.8 414.2V417.5M184.1 414.1V416.7M184.4 413.8V416.7M184.7 413.9V417.3M185 414.4V417.7M185.3 414.2V417.2M185.6 414.2V416.8M185.9 414.3V417.1M186.2 413.8V417.5M186.5 414.4V418.5M186.8 414.6V418.1M187.1 414.8V418M187.4 414.6V417M187.7 414.5V417.6M188 414.7V417.5M188.3 414.4V416.9M188.6 414.8V418.2M188.9 414.6V418.9M189.2 414.7V418.3M189.5 414.7V419.2M189.8 414.8V418M190.1 414.6V418.1M190.4 415.1V418.5M190.7 414.7V417.5M191 415V417.9M191.3 415.1V418.2M191.6 414.9V418.4M191.9 415V418.1M192.2 415.1V418.6M192.5 415.3V417.9M192.8 415.6V417.8M193.1 415.2V417.6M193.4 415.1V417.7M193.7 415.7V418.9M194 415V418.9M194.3 415.2V418.4M194.6 414.6V419.3M194.9 415.1V417.9M195.2 415.2V418M195.5 414.6V418.2M195.8 415.4V417.5M196.1 415.4V418.2M196.4 415.2V418.7M196.7 415.4V418.1M197 415.2V419.4M197.3 415.3V418.8M197.6 415.7V418M197.9 415.7V419.3M198.2 415.5V419.5M198.5 415.5V418.3M198.8 415.8V419.3M199.1 415.6V418.8M199.4 415.5V419.7M199.7 415.8V420.2M200 415.7V419.1M200.3 415.6V419.3M200.6 416V420.2M200.9 415.9V419.1M201.2 415.6V418.7M201.5 416.4V418.8M201.8 415.8V419.1M202.1 415.8V419.1M202.4 415.8V418M202.7 416.1V418.8M203 415.9V419.1" stroke="#12a2f6" stroke-width="1.0" fill="none"/>
<path d="M38.6 446.9V447.2" stroke="#fd3d43" stroke-width="1.4" fill="none"/>
<polyline points="38.6,447.2 39.1,451.1 39.6,453.5 40.1,455 40.6,456.1 41.1,457.1 41.6,458 42.1,458.8 42.6,459.6 43.1,460.2 43.6,460.7 44.1,461.2 44.6,461.7 45.1,462.1 45.6,462.5 46.1,462.9 46.6,463.3 47.1,463.6 47.6,463.9 48.1,464.3 48.6,464.6 49.1,464.9 49.6,465.2 50.1,465.4 50.6,465.7 51.1,466 51.6,466.3 52.1,466.5 52.6,466.8 53.1,467 53.6,467.2 54.1,467.5 54.6,467.7 55.1,467.9 55.6,468.1 56.1,468.3 56.6,468.6 57.1,468.8 57.6,469 58.1,469.1 58.6,469.3 59.1,469.5 59.6,469.7 60.1,469.9 60.6,470.1 61.1,470.3 61.6,470.4 62.1,470.6 62.6,470.8 63.1,471 63.6,471.1 64.1,471.3 64.6,471.5 65.1,471.6 65.6,471.8 66.1,472 66.6,472.1 67.1,472.3 67.6,472.4 68.1,472.6 68.6,472.7 69.1,472.9 69.6,473 70.1,473.2 70.6,473.3 71.1,473.5 71.6,473.6 72.1,473.8 72.6,473.9 73.1,474.1 73.6,474.2 74.1,474.3 74.6,474.5 75.1,474.6 75.6,474.7 76.1,474.9 76.6,475 77.1,475.1 77.6,475.3 78.1,475.4 78.6,475.5 79.1,475.7 79.6,475.8 80.1,475.9 80.6,476 81.1,476.2 81.6,476.3 82.1,476.4 82.6,476.5 83.1,476.7 83.6,476.8 84.1,476.9 84.6,477 85.1,477.1 85.6,477.3 86.1,477.4 86.6,477.5 87.1,477.6 87.6,477.7 88.1,477.8 88.6,477.9 89.1,478 89.6,478.2 90.1,478.3 90.6,478.4 91.1,478.5 91.6,478.6 92.1,478.7 92.6,478.8 93.1,478.9 93.6,479 94.1,479.1 94.6,479.2 95.1,479.3 95.6,479.4 96.1,479.5 96.6,479.6 97.1,479.7 97.6,479.8 98.1,479.9 98.6,480 99.1,480.1 99.6,480.2 100.1,480.3 100.6,480.4 101.1,480.5 101.6,480.6 102.1,480.7 102.6,480.8 103.1,480.8 103.6,480.9 104.1,481 104.6,481.1 105.1,481.2 105.6,481.3 106.1,481.4 106.6,481.5 107.1,481.6 107.6,481.7 108.1,481.7 108.6,481.8 109.1,481.9 109.6,482 110.1,482.1 110.6,482.2 111.1,482.3 111.6,482.3 112.1,482.4 112.6,482.5 113.1,482.6 113.6,482.7 114.1,482.7 114.6,482.8 115.1,482.9 115.6,483 116.1,483 116.6,483.1 117.1,483.2 117.6,483.3 118.1,483.3 118.6,483.4 119.1,483.5 119.6,483.6 120.1,483.6 120.6,483.7 121.1,483.8 121.6,483.9 122.1,483.9 122.6,484 123.1,484.1 123.6,484.1 124.1,484.2 124.6,484.3 125.1,484.4 125.6,484.4 126.1,484.5 126.6,484.6 127.1,484.7 127.6,484.7 128.1,484.8 128.6,484.9 129.1,484.9 129.6,485 130.1,485.1 130.6,485.2 131.1,485.2 131.6,485.3 132.1,485.4 132.6,485.5 133.1,485.6 133.6,485.6 134.1,485.7 134.6,485.8 135.1,485.9 135.6,486 136.1,486 136.6,486.1 137.1,486.2 137.6,486.3 138.1,486.4 138.6,486.5 139.1,486.6 139.6,486.7 140.1,486.7 140.6,486.8 141.1,486.9 141.6,487 142.1,487.1 142.6,487.2 143.1,487.3 143.6,487.4 144.1,487.5 144.6,487.6 145.1,487.6 145.6,487.7 146.1,487.8 146.6,487.9 147.1,488 147.6,488.1 148.1,488.2 148.6,488.3 149.1,488.4 149.6,488.5 150.1,488.6 150.6,488.7 151.1,488.8 151.6,488.9 152.1,488.9 152.6,489 153.1,489.1 153.6,489.2 154.1,489.3 154.6,489.4 155.1,489.5 155.6,489.6 156.1,489.7 156.6,489.8 157.1,489.9 157.6,490 158.1,490 158.6,490.1 159.1,490.2 159.6,490.3 160.1,490.4 160.6,490.5 161.1,490.6 161.6,490.7 162.1,490.7 162.6,490.8 163.1,490.9 163.6,491 164.1,491.1 164.6,491.2 165.1,491.3 165.6,491.3 166.1,491.4 166.6,491.5 167.1,491.6 167.6,491.7 168.1,491.8 168.6,491.9 169.1,492 169.6,492 170.1,492.1 170.6,492.2 171.1,492.3 171.6,492.4 172.1,492.5 172.6,492.5 173.1,492.6 173.6,492.7 174.1,492.8 174.6,492.9 175.1,493 175.6,493.1 176.1,493.1 176.6,493.2 177.1,493.3 177.6,493.4 178.1,493.5 178.6,493.6 179.1,493.6 179.6,493.7 180.1,493.8 180.6,493.9 181.1,494 181.6,494 182.1,494.1 182.6,494.2 183.1,494.3 183.6,494.4 184.1,494.4 184.6,494.5 185.1,494.6 185.6,494.7 186.1,494.8 186.6,494.8 187.1,494.9 187.6,495 188.1,495.1 188.6,495.2 189.1,495.2 189.6,495.3 190.1,495.4 190.6,495.5 191.1,495.6 191.6,495.6 192.1,495.7 192.6,495.8 193.1,495.9 193.6,495.9 194.1,496 194.6,496.1 195.1,496.2 195.6,496.2 196.1,496.3 196.6,496.4 197.1,496.5 197.6,496.5 198.1,496.6 198.6,496.7 199.1,496.8 199.6,496.8 200.1,496.9 200.6,497 201.1,497.1 201.6,497.1 202.1,497.2 202.6,497.3 203.1,497.3" fill="none" stroke="#fd3d43" stroke-width="1.3"/>
<path d="M38.6 447.5V448.3M38.9 449.1V450M39.2 451.2V452.2M39.5 452.8V453.6M39.8 453.7V454.5M40.1 454.6V455.4M40.4 455.3V456.1M40.7 455.9V456.7M41 456.5V457.3M41.3 457.1V458M41.6 457.6V458.5M41.9 458.1V459.1M42.2 458.5V459.6M42.5 459.1V459.9M42.8 459.5V460.3M43.1 459.7V460.7M43.4 460.1V460.9M43.7 460.4V461.4M44 460.7V461.6M44.3 461V461.9M44.6 461.3V462.2M44.9 461.7V462.5M45.2 461.6V462.7M45.5 462V463.2M45.8 462.4V463.3M46.1 462.5V463.5M46.4 462.7V463.6M46.7 462.7V463.8M47 462.9V464M47.3 463.3V464.3M47.6 463.4V464.2M47.9 463.7V464.7M48.2 463.9V464.9M48.5 464.1V465M48.8 464.2V465.2M49.1 464.4V465.4M49.4 464.6V465.7M49.7 464.9V465.7M50 464.9V466.1M50.3 465V466.3M50.6 465.3V466.3M50.9 465.4V466.5M51.2 465.7V466.5M51.5 465.7V466.7M51.8 465.9V466.8M52.1 466V467.1M52.4 466.2V467.1M52.7 466.3V467.6M53 466.4V467.4M53.3 466.6V467.9M53.6 466.7V467.8M53.9 466.9V468M54.2 467V468.1M54.5 467.3V468.2M54.8 467.4V468.4M55.1 467.4V468.4M55.4 467.6V468.6M55.7 467.8V468.9M56 467.8V468.8M56.3 468V469.4M56.6 468V469.4M56.9 468.1V469.2M57.2 468.3V469.3M57.5 468.3V469.6M57.8 468.5V469.6M58.1 468.8V469.8M58.4 468.9V470M58.7 468.8V470M59 469V470.2M59.3 469V470.2M59.6 469.2V470.2M59.9 469.3V470.5M60.2 469.3V470.3M60.5 469.6V470.6M60.8 469.6V470.7M61.1 469.4V470.9M61.4 469.8V471.2M61.7 470.1V470.9M62 470.3V471.3M62.3 470.2V471.3M62.6 470.2V471.5M62.9 470.4V471.7M63.2 470.4V471.4M63.5 470.5V472.1M63.8 470.3V471.9M64.1 470.8V472M64.4 470.8V472.2M64.7 470.8V472.3M65 471.1V472.5M65.3 471.3V472.4M65.6 471V472.5M65.9 471.4V472.4M66.2 471.5V472.9M66.5 471.4V472.6M66.8 471.7V473M67.1 471.9V473M67.4 471.8V473.2M67.7 472V473.2M68 471.6V473.4M68.3 472.1V473.3M68.6 472.1V473.3M68.9 472.2V473.7M69.2 472.2V473.6M69.5 472.4V473.6M69.8 472.6V474.1M70.1 472.6V473.9M70.4 472.6V473.9M70.7 472.7V474.2M71 472.8V474.3M71.3 473V474.3M71.6 473.2V474.7M71.9 473.1V474.4M72.2 473.3V474.6M72.5 473.2V474.6M72.8 473.5V474.7M73.1 473.5V475M73.4 473.5V474.9M73.7 473.5V475M74 473.7V474.6M74.3 473.5V475.4M74.6 473.8V475.3M74.9 473.9V475.1M75.2 474.1V475.5M75.5 474V475.7M75.8 474.2V475.7M76.1 474.2V475.6M76.4 474.3V476M76.7 474.5V475.9M77 474.5V476M77.3 474.5V475.9M77.6 474.6V476.6M77.9 474.6V476.2M78.2 474.8V476.2M78.5 475V476.1M78.8 474.7V475.9M79.1 474.6V476.7M79.4 475.3V477M79.7 475.2V476.5M80 475.3V476.7M80.3 475.3V477M80.6 475.4V477M80.9 475.4V477.2M81.2 475.6V476.7M81.5 475.8V477.1M81.8 475.6V477.1M82.1 475.9V477.2M82.4 475.7V477.4M82.7 475.9V477.8M83 476V477.6M83.3 476.1V478M83.6 476.2V477.8M83.9 476.1V477.7M84.2 476V477.8M84.5 476.1V478M84.8 476.4V478.2M85.1 476.4V477.9M85.4 476.4V478.5M85.7 476.8V478.2M86 476.8V478.1M86.3 476.9V478.1M86.6 477V478.5M86.9 477V478.8M87.2 476.8V478.7M87.5 476.9V478.8M87.8 477V478.5M88.1 477.2V478.9M88.4 477V478.8M88.7 477.1V478.9M89 477.2V479.1M89.3 477.4V479.2M89.6 477.5V479.1M89.9 477.4V479.2M90.2 477.5V479M90.5 477.5V479.5M90.8 477.6V479.6M91.1 477.7V479.3M91.4 477.7V479.7M91.7 477.8V479.8M92 477.8V479.3M92.3 477.9V479.9M92.6 478.1V480.1M92.9 478.3V480.2M93.2 478.4V479.8M93.5 478.4V480M93.8 478.4V480.7M94.1 478.3V480.4M94.4 478.4V480.5M94.7 478.3V481.1M95 478.5V480.3M95.3 478.5V480.7M95.6 478.7V480.7M95.9 478.6V480.5M96.2 478.7V480.8M96.5 478.4V480.8M96.8 479.1V480.9M97.1 479V480.9M97.4 478.9V481.6M97.7 479.2V480.3M98 479.2V481.1M98.3 479.2V481.3M98.6 479.2V481.2M98.9 479.3V481.1M99.2 479.3V481.6M99.5 479.2V481.2M99.8 479.5V481M100.1 479.4V481.4M100.4 479.6V481.5M100.7 479.5V481.5M101 479.6V481.7M101.3 479.6V481M101.6 479.6V481.8M101.9 480.2V481.4M102.2 479.9V481.6M102.5 479.4V481.6M102.8 480V481.9M103.1 479.9V481.8M103.4 480.2V481.9M103.7 480.1V482.5M104 480.1V482.1M104.3 480.2V481.9M104.6 480.4V481.9M104.9 480.5V482.3M105.2 480.3V482.5M105.5 480.4V482.4M105.8 480.4V482.9M106.1 480.5V482.9M106.4 480.5V483.1M106.7 480.5V482.7M107 480.6V482.6M107.3 480.6V482.8M107.6 480.9V483M107.9 481.1V482.4M108.2 481.1V482.4M108.5 480.7V483.7M108.8 480.9V483.3M109.1 480.9V482.9M109.4 480.8V483.3M109.7 481.1V483.6M110 481.2V483M110.3 481.4V483.7M110.6 481.4V483.4M110.9 481.1V483.5M111.2 481.7V483.1M111.5 481.6V483.4M111.8 481.4V483.7M112.1 481.6V483.4M112.4 481.5V484.4M112.7 481.6V483.9M113 481.7V483.4M113.3 481.7V483.6M113.6 481.7V483.9M113.9 481.7V484M114.2 481.8V483.9M114.5 481.9V484.1M114.8 481.8V483.6M115.1 482.1V483.8M115.4 482.1V484.4M115.7 482.4V484.2M116 482.3V484.2M116.3 482.1V485.2M116.6 482.5V484.5M116.9 482.4V484.3M117.2 482.2V485.1M117.5 482.3V484.4M117.8 482V484.7M118.1 482.3V484.6M118.4 482.3V485.7M118.7 482.5V484.6M119 482.5V485M119.3 482.2V485.5M119.6 482.9V485.3M119.9 482.6V485.1M120.2 482.7V485.7M120.5 482.9V484.7M120.8 482.9V484.7M121.1 482.8V485.7M121.4 482.8V485.3M121.7 482.8V484.9M122 483V485.2M122.3 483V485.1M122.6 483.2V485.4M122.9 483V485.5M123.2 483.1V485.6M123.5 483.2V485.5M123.8 482.8V485.8M124.1 483.5V485.5M124.4 483.4V485.5M124.7 483.3V485.7M125 483.3V485.4M125.3 483.4V485.3M125.6 483.4V486.2M125.9 483.4V485.8M126.2 483.7V486.2M126.5 483.7V485.8M126.8 483.5V486.9M127.1 483.2V485.9M127.4 483.9V486.2M127.7 483.7V486M128 484V486M128.3 483.9V485.9M128.6 483.9V486.9M128.9 483.7V486M129.2 483.9V486.2M129.5 483.9V486.7M129.8 483.8V486M130.1 484.4V487.5M130.4 484.1V486.5M130.7 484V486.6M131 484.2V486.2M131.3 484.4V486.4M131.6 484.3V486.1M131.9 484.3V486.6M132.2 484.5V486.9M132.5 484.1V486.9M132.8 484.4V486.6M133.1 484.6V487.5M133.4 484.1V487.2M133.7 484.6V487.9M134 484.8V487.5M134.3 484.9V488.1M134.6 484.7V486.4M134.9 484.7V487.2M135.2 484.7V487.3M135.5 485V487.5M135.8 484.9V487M136.1 485.1V488.2M136.4 485.1V487.4M136.7 485V488.1M137 485.4V487.3M137.3 485.3V487.4M137.6 485.4V488.3M137.9 485.4V487.3M138.2 485.6V488.1M138.5 485.3V488.1M138.8 485.4V488.8M139.1 485.6V488M139.4 485.6V488M139.7 485.6V489.1M140 485.9V488.4M140.3 485.6V487.4M140.6 485.8V488M140.9 486V488.2M141.2 485.8V488M141.5 485.9V489M141.8 485.9V489.7M142.1 485.9V488.9M142.4 486V489.4M142.7 486.1V488.2M143 486V488.7M143.3 486.6V488.3M143.6 486.1V489.7M143.9 486.4V488.5M144.2 486.8V488.7M144.5 485.8V489.1M144.8 486.6V489.1M145.1 486.4V489.5M145.4 486.5V489.8M145.7 486.7V489.6M146 486.8V489.5M146.3 486.7V490.4M146.6 486.8V490.2M146.9 486.8V489.5M147.2 487.1V489.7M147.5 486.9V490.9M147.8 487V489.4M148.1 486.4V490M148.4 487.1V490.1M148.7 487.1V489.7M149 487.2V489.5M149.3 487.2V490M149.6 487.2V490.8M149.9 486.9V490.7M150.2 487.5V489.8M150.5 487.8V490.2M150.8 487.7V489.8M151.1 487.8V490M151.4 487.5V491M151.7 487.7V490.4M152 487.7V490.2M152.3 487.7V489.9M152.6 487.9V490.2M152.9 487.3V490.6M153.2 487.9V491.1M153.5 488.3V491.8M153.8 488.2V491.5M154.1 488.2V490.4M154.4 488.2V491.5M154.7 488.5V491.2M155 488.2V490.5M155.3 488.6V492.3M155.6 488.2V491.5M155.9 488.7V491.6M156.2 488.6V491.2M156.5 488.5V491.2M156.8 488.8V490.9M157.1 489V491.2M157.4 489V491.4M157.7 488.7V492M158 489.1V491.8M158.3 488.9V491.8M158.6 489.2V491.7M158.9 488.9V491.3M159.2 489.2V492.6M159.5 489V491.8M159.8 489.3V492.2M160.1 489.4V491.8M160.4 489.2V492.2M160.7 489.1V491.8M161 489.4V492.7M161.3 489.5V492.5M161.6 489.3V491.8M161.9 489.5V491.5M162.2 489.7V491.7M162.5 489.6V492.8M162.8 489.7V492.2M163.1 490V492.7M163.4 489.6V493.1M163.7 489.7V492.7M164 489.9V493.4M164.3 489.7V493.8M164.6 489.8V493.5M164.9 490.2V492.7M165.2 490V493.8M165.5 490.2V492.7M165.8 489.9V493.3M166.1 489.7V492.9M166.4 490.5V493.3M166.7 490.7V492.3M167 490.4V493.2M167.3 490.3V494.6M167.6 490.4V493.4M167.9 490.3V493.8M168.2 490.5V494.6M168.5 489.9V493.6M168.8 490.5V495.3M169.1 490.7V494.9M169.4 490.7V494.5M169.7 490.6V493.6M170 490.5V493.3M170.3 491.1V493.3M170.6 490.9V494.5M170.9 490.9V494.5M171.2 491.3V496.2M171.5 491.2V493.8M171.8 491.1V495.7M172.1 491.2V494.6M172.4 491.5V494.3M172.7 491.3V494.3M173 491.3V494.2M173.3 491.4V496.1M173.6 491.3V494.7M173.9 491.2V494.4M174.2 491V495.7M174.5 491.7V495.7M174.8 491.9V494.8M175.1 491.7V495.1M175.4 491.9V495.4M175.7 491.7V495.4M176 491.8V495M176.3 491.8V495.4M176.6 491.7V496.5M176.9 491.9V495.4M177.2 492V496.5M177.5 491.9V495.6M177.8 492V496.1M178.1 491.9V496.5M178.4 492.1V495.7M178.7 492.5V495.3M179 491.7V495M179.3 492.3V495.3M179.6 492.5V495.7M179.9 492.1V498M180.2 492.5V495.9M180.5 492.3V495.5M180.8 492.3V495.8M181.1 492.5V495.3M181.4 492.6V495.9M181.7 492.5V496M182 492.5V496.9M182.3 492.3V496.7M182.6 492.9V496.3M182.9 493.1V497.6M183.2 492.4V495.5M183.5 492.7V496.4M183.8 492.7V495.8M184.1 493.1V496.4M184.4 493.2V496M184.7 493.1V496.8M185 493.2V497.7M185.3 493.6V496.6M185.6 493.2V495.9M185.9 493.6V497.5M186.2 493.2V497.6M186.5 493.3V496.4M186.8 493.4V497.7M187.1 493V498M187.4 493.8V497.9M187.7 493.5V496.6M188 493.5V497.8M188.3 493V498M188.6 493.7V497.1M188.9 492.7V496.9M189.2 493.7V496.9M189.5 493.9V498.2M189.8 494.4V498.1M190.1 493.7V497.1M190.4 494.4V499.1M190.7 493.8V497.3M191 494.1V496.2M191.3 493.3V499M191.6 494.2V498.3M191.9 494.1V497.2M192.2 494.4V497.4M192.5 494.4V497.8M192.8 494.6V497.6M193.1 494.5V497.8M193.4 494.3V497.2M193.7 494.3V499.6M194 494.4V497.5M194.3 494.7V499.6M194.6 494.8V498.6M194.9 494.6V498.5M195.2 495V499.5M195.5 494.9V497.8M195.8 495.2V498.9M196.1 494.5V498.4M196.4 494.3V499.2M196.7 494.8V498.3M197 494.7V498.7M197.3 494.7V499.1M197.6 494.6V499.5M197.9 494.8V498.1M198.2 495.5V499M198.5 495.2V500.7M198.8 495.4V500.5M199.1 494.9V499.8M199.4 495.5V500M199.7 495.3V498.5M200 494.9V500.1M200.3 495.2V499.4M200.6 495.2V501.1M200.9 495.7V500.8M201.2 495.8V498.6M201.5 495V500.6M201.8 495.9V498.5M202.1 495.7V499.9M202.4 495.9V498.9M202.7 495.5V499.2M203 496.2V498.7" stroke="#fd3d43" stroke-width="1.0" fill="none"/>
<rect x="37.5" y="377.6" width="166.0" height="138.60000000000002" fill="none" stroke="#231f20" stroke-width="1.2"/>
<line x1="37.5" y1="446.9" x2="203.5" y2="446.9" stroke="#3a3a3a" stroke-width="1.2"/>
<line x1="38.4" y1="516.2" x2="38.4" y2="518.5" stroke="#231f20" stroke-width="1"/>
<text x="38.8" y="530.5" font-size="10.6" text-anchor="middle" fill="#231f20">0</text>
<line x1="54.9" y1="516.2" x2="54.9" y2="517.4" stroke="#231f20" stroke-width="1"/>
<line x1="71.4" y1="516.2" x2="71.4" y2="518.5" stroke="#231f20" stroke-width="1"/>
<text x="71.8" y="530.5" font-size="10.6" text-anchor="middle" fill="#231f20">2</text>
<line x1="87.9" y1="516.2" x2="87.9" y2="517.4" stroke="#231f20" stroke-width="1"/>
<line x1="104.4" y1="516.2" x2="104.4" y2="518.5" stroke="#231f20" stroke-width="1"/>
<text x="104.8" y="530.5" font-size="10.6" text-anchor="middle" fill="#231f20">4</text>
<line x1="120.9" y1="516.2" x2="120.9" y2="517.4" stroke="#231f20" stroke-width="1"/>
<line x1="137.5" y1="516.2" x2="137.5" y2="518.5" stroke="#231f20" stroke-width="1"/>
<text x="137.9" y="530.5" font-size="10.6" text-anchor="middle" fill="#231f20">6</text>
<line x1="154" y1="516.2" x2="154" y2="517.4" stroke="#231f20" stroke-width="1"/>
<line x1="170.5" y1="516.2" x2="170.5" y2="518.5" stroke="#231f20" stroke-width="1"/>
<text x="170.9" y="530.5" font-size="10.6" text-anchor="middle" fill="#231f20">8</text>
<line x1="187" y1="516.2" x2="187" y2="517.4" stroke="#231f20" stroke-width="1"/>
<line x1="203.5" y1="516.2" x2="203.5" y2="518.5" stroke="#231f20" stroke-width="1"/>
<text x="203.9" y="530.5" font-size="10.6" text-anchor="middle" fill="#231f20">10</text>
<line x1="35.7" y1="516.2" x2="37.5" y2="516.2" stroke="#231f20" stroke-width="1"/>
<text x="120" y="542.2" font-size="10.6" text-anchor="middle" fill="#231f20">Time (s)</text>
<text x="8" y="447.5" font-size="10.6" text-anchor="middle" fill="#231f20" transform="rotate(-90 8 447.5)">Intensity (arb.units)</text>
<text x="197.1" y="390.3" font-size="10.6" text-anchor="end" fill="#231f20">Fluc@2PACz@PVA</text>
<line x1="43.1" y1="437.8" x2="60.1" y2="437.8" stroke="#12a2f6" stroke-width="1.4"/>
<text x="66.4" y="440.6" font-size="10.6" text-anchor="start" fill="#231f20">λ</text>
<text x="71.7" y="443.9" font-size="6.6" text-anchor="start" fill="#231f20">em</text>
<text x="80.7" y="440.6" font-size="10.6" text-anchor="start" fill="#231f20">=444 nm</text>
<text x="128.7" y="440.6" font-size="10.6" text-anchor="start" fill="#231f20">τ=1.42 s</text>
<line x1="43.1" y1="506.4" x2="59.4" y2="506.4" stroke="#fd3d43" stroke-width="1.4"/>
<text x="65.4" y="510.3" font-size="10.6" text-anchor="start" fill="#231f20">λ</text>
<text x="70.7" y="513.6" font-size="6.6" text-anchor="start" fill="#231f20">em</text>
<text x="79.7" y="510.3" font-size="10.6" text-anchor="start" fill="#231f20">=538 nm</text>
<text x="128.7" y="510.3" font-size="10.6" text-anchor="start" fill="#231f20">τ=1.21 s</text>
<text x="236" y="378" font-size="10" text-anchor="start" fill="#000" font-weight="bold">g</text>
<path d="M272.1 377.6V396.4" stroke="#12a2f6" stroke-width="1.4" fill="none"/>
<polyline points="272.1,396.4 272.6,397.6 273.1,398.6 273.6,399.3 274.1,399.9 274.6,400.4 275.1,400.8 275.6,401.2 276.1,401.7 276.6,402.1 277.1,402.5 277.6,402.9 278.1,403.3 278.6,403.7 279.1,404 279.6,404.4 280.1,404.7 280.6,405.1 281.1,405.4 281.6,405.7 282.1,406.1 282.6,406.4 283.1,406.7 283.6,407 284.1,407.3 284.6,407.6 285.1,407.9 285.6,408.2 286.1,408.5 286.6,408.8 287.1,409.1 287.6,409.4 288.1,409.6 288.6,409.9 289.1,410.2 289.6,410.4 290.1,410.7 290.6,410.9 291.1,411.2 291.6,411.4 292.1,411.6 292.6,411.8 293.1,412.1 293.6,412.3 294.1,412.5 294.6,412.7 295.1,412.9 295.6,413.1 296.1,413.3 296.6,413.5 297.1,413.7 297.6,413.9 298.1,414.1 298.6,414.3 299.1,414.5 299.6,414.7 300.1,414.9 300.6,415 301.1,415.2 301.6,415.4 302.1,415.6 302.6,415.8 303.1,415.9 303.6,416.1 304.1,416.3 304.6,416.5 305.1,416.6 305.6,416.8 306.1,417 306.6,417.1 307.1,417.3 307.6,417.5 308.1,417.6 308.6,417.8 309.1,417.9 309.6,418.1 310.1,418.3 310.6,418.4 311.1,418.6 311.6,418.7 312.1,418.9 312.6,419 313.1,419.2 313.6,419.3 314.1,419.5 314.6,419.6 315.1,419.8 315.6,419.9 316.1,420.1 316.6,420.2 317.1,420.4 317.6,420.5 318.1,420.7 318.6,420.9 319.1,421 319.6,421.2 320.1,421.3 320.6,421.5 321.1,421.6 321.6,421.8 322.1,421.9 322.6,422.1 323.1,422.2 323.6,422.4 324.1,422.5 324.6,422.6 325.1,422.8 325.6,422.9 326.1,423.1 326.6,423.2 327.1,423.4 327.6,423.5 328.1,423.7 328.6,423.8 329.1,423.9 329.6,424.1 330.1,424.2 330.6,424.4 331.1,424.5 331.6,424.6 332.1,424.8 332.6,424.9 333.1,425 333.6,425.2 334.1,425.3 334.6,425.4 335.1,425.6 335.6,425.7 336.1,425.8 336.6,425.9 337.1,426.1 337.6,426.2 338.1,426.3 338.6,426.4 339.1,426.5 339.6,426.6 340.1,426.8 340.6,426.9 341.1,427 341.6,427.1 342.1,427.2 342.6,427.3 343.1,427.4 343.6,427.5 344.1,427.6 344.6,427.7 345.1,427.8 345.6,427.9 346.1,428 346.6,428.1 347.1,428.2 347.6,428.2 348.1,428.3 348.6,428.4 349.1,428.5 349.6,428.6 350.1,428.7 350.6,428.8 351.1,428.8 351.6,428.9 352.1,429 352.6,429.1 353.1,429.2 353.6,429.2 354.1,429.3 354.6,429.4 355.1,429.5 355.6,429.6 356.1,429.6 356.6,429.7 357.1,429.8 357.6,429.9 358.1,429.9 358.6,430 359.1,430.1 359.6,430.1 360.1,430.2 360.6,430.3 361.1,430.4 361.6,430.4 362.1,430.5 362.6,430.6 363.1,430.6 363.6,430.7 364.1,430.8 364.6,430.9 365.1,430.9 365.6,431 366.1,431.1 366.6,431.1 367.1,431.2 367.6,431.3 368.1,431.3 368.6,431.4 369.1,431.5 369.6,431.6 370.1,431.6 370.6,431.7 371.1,431.8 371.6,431.8 372.1,431.9 372.6,432 373.1,432.1 373.6,432.1 374.1,432.2 374.6,432.3 375.1,432.4 375.6,432.4 376.1,432.5 376.6,432.6 377.1,432.7 377.6,432.7 378.1,432.8 378.6,432.9 379.1,432.9 379.6,433 380.1,433.1 380.6,433.2 381.1,433.2 381.6,433.3 382.1,433.4 382.6,433.4 383.1,433.5 383.6,433.6 384.1,433.6 384.6,433.7 385.1,433.8 385.6,433.8 386.1,433.9 386.6,434 387.1,434 387.6,434.1 388.1,434.1 388.6,434.2 389.1,434.3 389.6,434.3 390.1,434.4 390.6,434.4 391.1,434.5 391.6,434.5 392.1,434.6 392.6,434.6 393.1,434.7 393.6,434.7 394.1,434.8 394.6,434.8 395.1,434.8 395.6,434.9 396.1,434.9 396.6,434.9 397.1,435 397.6,435 398.1,435.1 398.6,435.1 399.1,435.1 399.6,435.2 400.1,435.2 400.6,435.2 401.1,435.3 401.6,435.3 402.1,435.3 402.6,435.4 403.1,435.4 403.6,435.4 404.1,435.4 404.6,435.5 405.1,435.5 405.6,435.5 406.1,435.6 406.6,435.6 407.1,435.6 407.6,435.6 408.1,435.7 408.6,435.7 409.1,435.7 409.6,435.7 410.1,435.8 410.6,435.8 411.1,435.8 411.6,435.8 412.1,435.9 412.6,435.9 413.1,435.9 413.6,435.9 414.1,436 414.6,436 415.1,436 415.6,436.1 416.1,436.1 416.6,436.1 417.1,436.1 417.6,436.2 418.1,436.2 418.6,436.2 419.1,436.2 419.6,436.3 420.1,436.3 420.6,436.3 421.1,436.3 421.6,436.4 422.1,436.4 422.6,436.4 423.1,436.5 423.6,436.5 424.1,436.5 424.6,436.5 425.1,436.6 425.6,436.6 426.1,436.6 426.6,436.6 427.1,436.7 427.6,436.7 428.1,436.7 428.6,436.7 429.1,436.8 429.6,436.8 430.1,436.8 430.6,436.8 431.1,436.9 431.6,436.9 432.1,436.9 432.6,436.9 433.1,437 433.6,437 434.1,437 434.6,437.1 435.1,437.1 435.6,437.1 436.1,437.1 436.6,437.2 437.1,437.2" fill="none" stroke="#12a2f6" stroke-width="1.3"/>
<path d="M272.1 395.9V397.1M272.4 396.5V397.6M272.7 397.4V398.5M273 398V399.3M273.3 398.5V399.6M273.6 398.8V400M273.9 399.2V400.3M274.2 399.5V400.7M274.5 399.7V400.8M274.8 400.1V401M275.1 400V401.4M275.4 400.6V401.5M275.7 400.6V402M276 401V402.1M276.3 401.2V402.4M276.6 401.4V402.7M276.9 401.8V403M277.2 402.1V403.4M277.5 402.2V403.7M277.8 402.5V403.7M278.1 402.5V403.8M278.4 403.1V404.2M278.7 403.4V404.3M279 403.3V404.6M279.3 403.4V405.2M279.6 403.6V405.1M279.9 403.9V405.5M280.2 404.3V405.4M280.5 404.2V405.6M280.8 404.6V406M281.1 404.7V406.3M281.4 404.8V406.3M281.7 405V406.8M282 405.4V406.8M282.3 405.3V406.9M282.6 405.6V407.4M282.9 405.8V407.5M283.2 406.2V407.6M283.5 406.2V407.8M283.8 406.4V408M284.1 406.5V408.5M284.4 406.6V408.5M284.7 406.9V408.7M285 407.1V409M285.3 407.1V409.2M285.6 407.3V409.1M285.9 407.6V409.4M286.2 407.3V409.6M286.5 408V409.8M286.8 408V410M287.1 408.2V409.8M287.4 408.3V410.7M287.7 408.6V410.4M288 408.8V410.8M288.3 408.8V410.8M288.6 409V411M288.9 409.2V411M289.2 409.3V411.5M289.5 409.5V411.3M289.8 409.5V411.6M290.1 409.8V411.6M290.4 410.2V412.2M290.7 410V411.9M291 410.2V412.3M291.3 410.2V412.7M291.6 410V413M291.9 410.7V412.6M292.2 410.8V412.8M292.5 410.8V412.8M292.8 411V413.6M293.1 411.2V413.4M293.4 411.2V413.7M293.7 411.3V413.4M294 411.6V414.5M294.3 411.6V414.2M294.6 411.2V414.8M294.9 411.7V414.6M295.2 412.2V415.1M295.5 412.5V414.7M295.8 412.1V415.4M296.1 412.3V415.3M296.4 412.5V414.7M296.7 412.7V415M297 412.5V415.3M297.3 412.9V414.9M297.6 412.8V416.3M297.9 412.9V416M298.2 413.3V416.7M298.5 413.3V416.2M298.8 413.2V416.2M299.1 413.5V415.2M299.4 413.5V415.9M299.7 413.8V415.9M300 413.8V416.8M300.3 413.9V416.4M300.6 413.9V417.7M300.9 413.7V417.5M301.2 414.2V416.9M301.5 414.6V417M301.8 414.6V416.6M302.1 414.4V416.9M302.4 414.7V416.9M302.7 414.7V417.1M303 414.7V417.6M303.3 414.8V417.9M303.6 414.8V417.2M303.9 414.9V418.1M304.2 415V417.5M304.5 415.2V417.4M304.8 415.6V418.6M305.1 415.6V418.2M305.4 415.7V419.3M305.7 415.6V419.6M306 415.7V418.1M306.3 415.7V418.5M306.6 415.8V420.1M306.9 415.9V420.2M307.2 416.1V419.8M307.5 416.1V419.3M307.8 416.3V419.4M308.1 416.4V420.1M308.4 416.9V418.8M308.7 416.7V419.3M309 416.8V421.1M309.3 416.6V419.7M309.6 416.7V419.5M309.9 416.9V419.7M310.2 417.2V420M310.5 417V420.3M310.8 417.5V420.1M311.1 417.3V420.6M311.4 417.3V420.5M311.7 417.5V420.3M312 417.5V420.5M312.3 417.7V420.5M312.6 417.6V421.7M312.9 417.9V421.1M313.2 418.1V422.8M313.5 418V421M313.8 418.1V423M314.1 418.3V420.9M314.4 418.2V422.9M314.7 418.4V421.2M315 418.4V422.3M315.3 418.5V420.9M315.6 417.9V423.8M315.9 418.4V423.2M316.2 418.6V422.3M316.5 418.8V421.5M316.8 419.3V421.6M317.1 419.2V421.8M317.4 419.2V422M317.7 419.1V423.9M318 419.1V422.1M318.3 419.5V423.5M318.6 419.1V424.7M318.9 419.3V422.8M319.2 419.5V423M319.5 419.6V422.6M319.8 419.6V423.4M320.1 419.9V423.5M320.4 420V422.9M320.7 420V423.7M321 420V425M321.3 420.1V423.8M321.6 420.2V424.3M321.9 420.1V424.7M322.2 420.3V427M322.5 420.3V424.9M322.8 420.3V427.1M323.1 420.8V427.5M323.4 421V425.1M323.7 420.8V427.4M324 420.7V424.7M324.3 421.4V427.9M324.6 420.2V428.5M324.9 421.5V424.9M325.2 421.4V428M325.5 421.1V428.1M325.8 421.1V428.5M326.1 421.1V425.2M326.4 421.2V429.4M326.7 421.5V425.3M327 421.3V427.3M327.3 421.8V425.2M327.6 421.7V424.8M327.9 421V425.4M328.2 422.4V425.4M328.5 421.9V425.9M328.8 422.3V426.6M329.1 422.3V429.8M329.4 422V426.1M329.7 422.5V426.9M330 422.2V427.6M330.3 422V426.5M330.6 422.5V426.5M330.9 422.6V425.8M331.2 422.3V430.6M331.5 422.9V428.6M331.8 423.9V427.9M332.1 422.5V430.5M332.4 422.8V427.4M332.7 422.6V427.4M333 422.6V432.4M333.3 422.6V432.6M333.6 422.8V431.3M333.9 422.8V427.8M334.2 422.9V427.9M334.5 422.8V433.1M334.8 423.5V431.9M335.1 423.5V430.5M335.4 422.8V432.7M335.7 423.3V431.1M336 424V431.7M336.3 423.6V435M336.6 423.2V434.7M336.9 423.6V432.1M337.2 423.8V432.6M337.5 423.9V434.7M337.8 423.5V429.5M338.1 423.5V430.4M338.4 424.2V428.9M338.7 423.3V436.8M339 424.4V428.6M339.3 424.1V435.4M339.6 424.3V430.1M339.9 423.8V433.7M340.2 424.4V430M340.5 424.5V430.4M340.8 425V435.4M341.1 424.2V430.2M341.4 424.5V430.9M341.7 424.6V434M342 424.8V438.1M342.3 424.5V431M342.6 425.7V430.1M342.9 424.7V430M343.2 424.6V430.3M343.5 424.7V433.1M343.8 425.2V430.7M344.1 423.1V432.7M344.4 424.9V431M344.7 425.4V430M345 424.6V431.5M345.3 425.2V430.8M345.6 425.8V430.5M345.9 424.8V435.7M346.2 425.4V430.5M346.5 425.3V431.2M346.8 426V431.6M347.1 425.3V430.7M347.4 425.7V432.8M347.7 425.2V436M348 425.5V433.9M348.3 425.5V430.6M348.6 425.4V432.4M348.9 425.5V436M349.2 426.2V440.3M349.5 426.1V432.2M349.8 426.1V441.1M350.1 426.1V432.3M350.4 425.8V432.9M350.7 425.8V434.1M351 425.8V434.1M351.3 425.7V433.1M351.6 426.4V432.8M351.9 427.1V436.6M352.2 425.6V442.1M352.5 426.1V432.1M352.8 426V438.3M353.1 426V432M353.4 427.2V438.2M353.7 426.3V433.3M354 426.5V433.4M354.3 426.5V442.9M354.6 426.1V439.3M354.9 426.2V433.2M355.2 426.3V437.2M355.5 426.4V440.1M355.8 426.4V432.4M356.1 426.4V432.5M356.4 426.4V432.4M356.7 426.8V440.6M357 426.4V432M357.3 427.8V437.5M357.6 426.5V434.2M357.9 426.4V433.8M358.2 425.5V437.1M358.5 427.1V438.4M358.8 427V436.7M359.1 426.6V434.2M359.4 427.4V433.9M359.7 427V434.1M360 427.8V438.3M360.3 427.5V435.9M360.6 427.4V434M360.9 427.1V435.7M361.2 427.9V435.3M361.5 427.6V438.8M361.8 427.4V443.5M362.1 427.1V444.4M362.4 427.3V433M362.7 427.1V444.1M363 427.2V437.7M363.3 427.3V440.6M363.6 427.6V444.7M363.9 427.6V443.6M364.2 426.4V435.6M364.5 428.2V436M364.8 427.9V434.5M365.1 428.3V434.1M365.4 427.9V435.9M365.7 427.5V433.7M366 426.4V438M366.3 428.2V446.5M366.6 427.5V443.9M366.9 427.9V436.6M367.2 427.7V433.4M367.5 428.5V439.9M367.8 428.6V435.9M368.1 428.5V434.5M368.4 428.7V434.7M368.7 428.1V436.3M369 428.2V436.2M369.3 428.2V435.6M369.6 428.4V434.4M369.9 428.8V441M370.2 429.9V436.6M370.5 428.2V444.1M370.8 428.3V435.1M371.1 428.3V435.9M371.4 428.4V446.5M371.7 428.8V436M372 428.7V438.7M372.3 429V441M372.6 428.9V438.5M372.9 428.7V446.5M373.2 429.3V446.5M373.5 428.9V438M373.8 428.6V446.5M374.1 428.8V445M374.4 428.8V436.6M374.7 428.6V436.6M375 428.8V446.5M375.3 429V446.5M375.6 430.2V438.6M375.9 429V446.5M376.2 429.1V440.4M376.5 429.1V444.9M376.8 429.4V446.5M377.1 429.2V444.3M377.4 429.6V435.5M377.7 430V446.5M378 430.3V446.5M378.3 429.5V439.8M378.6 429.7V445.5M378.9 429.5V440.1M379.2 430.2V446.5M379.5 430.6V437.6M379.8 429.1V442M380.1 430.3V437.2M380.4 430.1V446.5M380.7 430.4V441.9M381 430.1V442.2M381.3 429.8V442.2M381.6 431.3V446M381.9 430.5V443.1M382.2 430.7V438.6M382.5 430.5V441.4M382.8 430.4V446.5M383.1 430.7V445.2M383.4 430V437.5M383.7 429.6V437.2M384 429.8V437.7M384.3 431.4V446.5M384.6 430.6V437M384.9 430.3V437.7M385.2 430.7V437.2M385.5 430.3V446.5M385.8 432V444.8M386.1 430.4V446.5M386.4 430.8V437.3M386.7 430.1V438.2M387 430.3V440.8M387.3 430.5V437.2M387.6 430.5V446.5M387.9 430.4V438.7M388.2 431.8V440.5M388.5 431.1V439.7M388.8 431.3V438M389.1 431.6V443.9M389.4 431.4V446.5M389.7 432.3V445.7M390 431.3V446.5M390.3 431.3V446.5M390.6 431.7V437.6M390.9 431.1V437.7M391.2 431.1V440.4M391.5 431V446.5M391.8 431.2V438.3M392.1 431.8V437.7M392.4 431.8V444.5M392.7 430.2V439M393 431.4V446.5M393.3 431.1V438.7M393.6 431.2V438.1M393.9 431.2V446.5M394.2 431.3V446.5M394.5 431.4V437.1M394.8 431.9V446.5M395.1 430.7V446.5M395.4 432V436.7M395.7 432V446.5M396 432.1V439.2M396.3 431.7V440.1M396.6 431.8V438.3M396.9 431.8V438.6M397.2 431.5V438.9M397.5 431.5V446.5M397.8 432.7V446.5M398.1 431.6V437.3M398.4 433.1V446.5M398.7 431.7V446.5M399 431.7V438.4M399.3 431.9V443.7M399.6 431.7V441.4M399.9 432.9V444.7M400.2 431.7V439.6M400.5 432.7V446.5M400.8 432.2V442M401.1 432.6V446.5M401.4 432.3V446.5M401.7 431.7V439.3M402 431.8V441.3M402.3 433.6V439.7M402.6 432.9V437.6M402.9 433.8V439.6M403.2 433.1V442.9M403.5 432V440.6M403.8 432.4V440.2M404.1 432.1V438.6M404.4 432.4V439.3M404.7 430.8V446.5M405 432.8V438.8M405.3 432.2V438.3M405.6 432V446.5M405.9 433.5V446.5M406.2 433V446.5M406.5 433.2V446.5M406.8 432.6V445.1M407.1 432.5V446.1M407.4 432.1V439.8M407.7 432.2V439.6M408 432.9V439.8M408.3 432.5V446.5M408.6 432.8V440.1M408.9 431.3V445.9M409.2 433.7V440.5M409.5 432.2V437.4M409.8 431.6V439.1M410.1 432.7V438.8M410.4 432.7V442.2M410.7 432.2V446.5M411 432.2V446.5M411.3 433.2V446.5M411.6 432.8V441.9M411.9 432.3V443.8M412.2 432.8V438.5M412.5 432.7V446.4M412.8 432.8V446.5M413.1 433.6V446.5M413.4 432.7V437.8M413.7 432.5V446.5M414 432.5V442.8M414.3 433V443.4M414.6 432.7V439M414.9 433.1V446.5M415.2 432.9V440M415.5 432.8V439.4M415.8 433.7V446.5M416.1 433.3V446.5M416.4 433.4V439.5M416.7 431.7V438.8M417 432.7V439.1M417.3 432.8V445.3M417.6 433.5V440.5M417.9 433V440.4M418.2 431.9V440.3M418.5 432.7V442.3M418.8 433V446.5M419.1 433.6V446.5M419.4 434.1V446.5M419.7 433.3V446.5M420 433.8V446.5M420.3 433.3V446.5M420.6 433.2V444.3M420.9 434.6V442.6M421.2 432V446.5M421.5 433.9V446.5M421.8 433.7V441M422.1 434.2V441.2M422.4 433V446.5M422.7 433.5V438.2M423 433.5V442.3M423.3 433.4V446.5M423.6 432.5V440.6M423.9 433.2V446.5M424.2 433.5V439.9M424.5 434.1V446.5M424.8 433.2V441M425.1 434.7V440.3M425.4 432.4V446.5M425.7 433.5V439.2M426 432.3V446.5M426.3 433.2V446.5M426.6 434.3V440.7M426.9 435.1V440.5M427.2 434V441.5M427.5 433.7V446.5M427.8 434.9V446.5M428.1 434.3V441M428.4 434V446.5M428.7 434.3V442.3M429 433.4V446.5M429.3 433.9V438M429.6 433.4V439.4M429.9 433.3V441M430.2 432V446.5M430.5 435.5V446.5M430.8 433.7V446.5M431.1 434V439M431.4 433.3V446.5M431.7 433.4V440.3M432 433.9V440.3M432.3 433.4V438.9M432.6 434.1V440.1M432.9 434.5V440.3M433.2 433.4V446.5M433.5 433.7V440.6M433.8 433.9V446.5M434.1 433.6V441.7M434.4 433.7V446.5M434.7 433.6V440.9M435 433.5V439.4M435.3 434.1V440.8M435.6 434.1V439.4M435.9 435.1V445.8M436.2 434.1V446.5M436.5 434.2V440.3M436.8 434.4V439.8M437.1 433.7V441.2M437.4 434V446.5" stroke="#12a2f6" stroke-width="1.0" fill="none"/>
<path d="M272.1 446.9V447.5" stroke="#fd3d43" stroke-width="1.4" fill="none"/>
<polyline points="272.1,447.5 272.6,452.3 273.1,456.3 273.6,458.5 274.1,460 274.6,461.2 275.1,462.2 275.6,463.1 276.1,463.9 276.6,464.6 277.1,465.3 277.6,465.9 278.1,466.6 278.6,467.2 279.1,467.8 279.6,468.3 280.1,468.8 280.6,469.3 281.1,469.8 281.6,470.3 282.1,470.7 282.6,471.2 283.1,471.6 283.6,472 284.1,472.4 284.6,472.8 285.1,473.2 285.6,473.6 286.1,474 286.6,474.4 287.1,474.8 287.6,475.1 288.1,475.5 288.6,475.8 289.1,476.2 289.6,476.5 290.1,476.8 290.6,477.1 291.1,477.4 291.6,477.7 292.1,478 292.6,478.3 293.1,478.5 293.6,478.8 294.1,479 294.6,479.3 295.1,479.5 295.6,479.8 296.1,480 296.6,480.2 297.1,480.5 297.6,480.7 298.1,480.9 298.6,481.2 299.1,481.4 299.6,481.6 300.1,481.8 300.6,482 301.1,482.2 301.6,482.4 302.1,482.6 302.6,482.8 303.1,483 303.6,483.2 304.1,483.4 304.6,483.6 305.1,483.8 305.6,484 306.1,484.2 306.6,484.4 307.1,484.5 307.6,484.7 308.1,484.9 308.6,485.1 309.1,485.3 309.6,485.4 310.1,485.6 310.6,485.8 311.1,486 311.6,486.1 312.1,486.3 312.6,486.5 313.1,486.7 313.6,486.8 314.1,487 314.6,487.2 315.1,487.4 315.6,487.5 316.1,487.7 316.6,487.9 317.1,488 317.6,488.2 318.1,488.4 318.6,488.6 319.1,488.8 319.6,488.9 320.1,489.1 320.6,489.3 321.1,489.5 321.6,489.6 322.1,489.8 322.6,490 323.1,490.2 323.6,490.4 324.1,490.5 324.6,490.7 325.1,490.9 325.6,491.1 326.1,491.2 326.6,491.4 327.1,491.6 327.6,491.8 328.1,491.9 328.6,492.1 329.1,492.3 329.6,492.4 330.1,492.6 330.6,492.8 331.1,492.9 331.6,493.1 332.1,493.3 332.6,493.4 333.1,493.6 333.6,493.7 334.1,493.9 334.6,494.1 335.1,494.2 335.6,494.4 336.1,494.5 336.6,494.7 337.1,494.8 337.6,495 338.1,495.1 338.6,495.2 339.1,495.4 339.6,495.5 340.1,495.6 340.6,495.8 341.1,495.9 341.6,496 342.1,496.1 342.6,496.3 343.1,496.4 343.6,496.5 344.1,496.6 344.6,496.7 345.1,496.8 345.6,496.9 346.1,497.1 346.6,497.2 347.1,497.3 347.6,497.4 348.1,497.5 348.6,497.6 349.1,497.7 349.6,497.8 350.1,497.9 350.6,498 351.1,498.1 351.6,498.2 352.1,498.3 352.6,498.3 353.1,498.4 353.6,498.5 354.1,498.6 354.6,498.7 355.1,498.8 355.6,498.9 356.1,499 356.6,499.1 357.1,499.1 357.6,499.2 358.1,499.3 358.6,499.4 359.1,499.5 359.6,499.6 360.1,499.6 360.6,499.7 361.1,499.8 361.6,499.9 362.1,500 362.6,500 363.1,500.1 363.6,500.2 364.1,500.3 364.6,500.3 365.1,500.4 365.6,500.5 366.1,500.6 366.6,500.6 367.1,500.7 367.6,500.8 368.1,500.8 368.6,500.9 369.1,501 369.6,501.1 370.1,501.1 370.6,501.2 371.1,501.3 371.6,501.3 372.1,501.4 372.6,501.5 373.1,501.5 373.6,501.6 374.1,501.7 374.6,501.7 375.1,501.8 375.6,501.8 376.1,501.9 376.6,502 377.1,502 377.6,502.1 378.1,502.2 378.6,502.2 379.1,502.3 379.6,502.3 380.1,502.4 380.6,502.5 381.1,502.5 381.6,502.6 382.1,502.6 382.6,502.7 383.1,502.7 383.6,502.8 384.1,502.9 384.6,502.9 385.1,503 385.6,503 386.1,503.1 386.6,503.1 387.1,503.2 387.6,503.2 388.1,503.3 388.6,503.3 389.1,503.4 389.6,503.5 390.1,503.5 390.6,503.6 391.1,503.6 391.6,503.7 392.1,503.7 392.6,503.8 393.1,503.8 393.6,503.9 394.1,503.9 394.6,504 395.1,504 395.6,504.1 396.1,504.1 396.6,504.2 397.1,504.2 397.6,504.3 398.1,504.3 398.6,504.4 399.1,504.4 399.6,504.5 400.1,504.5 400.6,504.6 401.1,504.6 401.6,504.7 402.1,504.7 402.6,504.8 403.1,504.8 403.6,504.9 404.1,504.9 404.6,505 405.1,505 405.6,505 406.1,505.1 406.6,505.1 407.1,505.2 407.6,505.2 408.1,505.3 408.6,505.3 409.1,505.4 409.6,505.4 410.1,505.5 410.6,505.5 411.1,505.5 411.6,505.6 412.1,505.6 412.6,505.7 413.1,505.7 413.6,505.8 414.1,505.8 414.6,505.9 415.1,505.9 415.6,506 416.1,506 416.6,506.1 417.1,506.1 417.6,506.2 418.1,506.2 418.6,506.3 419.1,506.4 419.6,506.4 420.1,506.5 420.6,506.5 421.1,506.6 421.6,506.7 422.1,506.7 422.6,506.8 423.1,506.8 423.6,506.9 424.1,507 424.6,507 425.1,507.1 425.6,507.2 426.1,507.2 426.6,507.3 427.1,507.4 427.6,507.5 428.1,507.5 428.6,507.6 429.1,507.7 429.6,507.7 430.1,507.8 430.6,507.9 431.1,508 431.6,508 432.1,508.1 432.6,508.2 433.1,508.3 433.6,508.4 434.1,508.4 434.6,508.5 435.1,508.6 435.6,508.7 436.1,508.8 436.6,508.8 437.1,508.9" fill="none" stroke="#fd3d43" stroke-width="1.3"/>
<path d="M272.1 447.5V448.3M272.4 449.8V451M272.7 452.8V454M273 455.2V456M273.3 456.7V457.8M273.6 458V459.3M273.9 459V460.2M274.2 459.9V461M274.5 460.2V461.6M274.8 461.2V462.5M275.1 461.7V463M275.4 462.3V463.2M275.7 462.8V464.1M276 463.2V464.2M276.3 463.6V464.9M276.6 464V465.4M276.9 464.4V465.7M277.2 464.8V466.1M277.5 465.2V466.1M277.8 465.7V467M278.1 465.9V467.4M278.4 466.4V467.8M278.7 466.6V468.2M279 466.8V468.5M279.3 467.6V468.8M279.6 467.7V469.1M279.9 468.1V469.3M280.2 468.4V469.8M280.5 468.5V469.9M280.8 468.9V470.4M281.1 469.2V470.8M281.4 469.5V470.9M281.7 469.8V471.2M282 470V471.5M282.3 470.2V472.1M282.6 470.6V472.1M282.9 470.6V472.6M283.2 470.8V472.5M283.5 471.2V473.1M283.8 471.4V472.9M284.1 471.7V473.2M284.4 471.9V473.9M284.7 472.1V473.5M285 472.1V474M285.3 472.6V474.6M285.6 472.7V475M285.9 473V475M286.2 473.3V475.2M286.5 473.4V475.5M286.8 473.6V476M287.1 473.9V475.8M287.4 474V476.1M287.7 474.3V476.6M288 474.6V476.5M288.3 474.9V476.3M288.6 475V477.3M288.9 475.1V477.4M289.2 475.4V477.5M289.5 475.7V477.7M289.8 475.6V478.8M290.1 476V478.4M290.4 476.1V478.3M290.7 476.3V478.5M291 476.5V479.2M291.3 476.6V478.2M291.6 476.7V479.1M291.9 476.8V479M292.2 477.3V479.1M292.5 477.2V479.3M292.8 477.3V479.8M293.1 477.5V480.2M293.4 477.6V480.3M293.7 477.8V481.4M294 477.9V480.2M294.3 478.1V481.2M294.6 478V481.1M294.9 478V480.4M295.2 479.1V480.6M295.5 478.7V481.3M295.8 478.7V481.4M296.1 479.2V481.7M296.4 479V481.9M296.7 479.2V482.8M297 479.2V481.3M297.3 479.2V482.4M297.6 479.8V482.9M297.9 479.7V483M298.2 480.2V482.4M298.5 480.1V482.4M298.8 480.1V483.1M299.1 480.5V482.2M299.4 480.3V483.1M299.7 480.4V482.6M300 480.5V484.6M300.3 480.9V484.1M300.6 481.1V483.7M300.9 481.1V483.5M301.2 481.4V484.6M301.5 481.5V484.8M301.8 481.8V483.9M302.1 481.2V485.6M302.4 481.6V485M302.7 481.7V484.1M303 481.8V484.5M303.3 482.1V486.3M303.6 482.1V484.3M303.9 482.6V485.4M304.2 482.3V486.2M304.5 482.3V487.3M304.8 482.4V486.3M305.1 482.5V486.4M305.4 482.6V487.5M305.7 482.8V486.7M306 483.1V485.7M306.3 483V487.1M306.6 483.5V487.2M306.9 483.2V487.7M307.2 483.4V486.7M307.5 483.5V488.4M307.8 484.1V486.2M308.1 483.8V486.8M308.4 483.7V486.3M308.7 483.9V488.9M309 483.9V489.3M309.3 484.1V488.7M309.6 484.3V486.9M309.9 484.5V487.7M310.2 484.5V486.9M310.5 484.5V489.8M310.8 484.8V487.6M311.1 484.6V487.3M311.4 484.7V487.1M311.7 485V488.9M312 485V487.5M312.3 484.9V489.9M312.6 485.4V489.7M312.9 485.6V491.6M313.2 485.4V489.4M313.5 485.8V489M313.8 485.5V491.9M314.1 486.2V488.3M314.4 486.1V489.1M314.7 485.7V488.9M315 486.5V488.9M315.3 486.3V488.9M315.6 486.5V493M315.9 486.2V488.8M316.2 486.2V492.5M316.5 486.8V491.1M316.8 486.3V489.5M317.1 486.5V489.4M317.4 486.1V493.7M317.7 486.9V493.7M318 487.3V493.4M318.3 487V491.2M318.6 487V490.9M318.9 487.2V489.8M319.2 487.5V495.5M319.5 487.3V492.2M319.8 487.7V490.4M320.1 487.6V491.6M320.4 487.8V492.6M320.7 487.9V495.5M321 488.2V492.7M321.3 488.1V491.4M321.6 488.2V491.4M321.9 488.1V491.3M322.2 488V491.1M322.5 488.3V496.7M322.8 488.9V491.5M323.1 488.6V495M323.4 488.4V492.4M323.7 489V498.4M324 488.8V493.9M324.3 488.8V493.4M324.6 489.4V492.5M324.9 489.4V495.6M325.2 489.6V496.9M325.5 489.1V493.1M325.8 489.5V494.9M326.1 489.3V492.7M326.4 489.6V493.9M326.7 489.9V493.2M327 489.7V497.5M327.3 489.7V498M327.6 490.5V497.5M327.9 490V493.9M328.2 490.3V493.3M328.5 490.2V496.7M328.8 490.2V495.3M329.1 491.1V499.6M329.4 490.2V499.1M329.7 490.5V500.8M330 490.6V498.2M330.3 490.9V494.7M330.6 491.3V497.6M330.9 491.3V501.7M331.2 491.4V495.6M331.5 491.4V498.9M331.8 491.2V495.3M332.1 491.7V495.6M332.4 491.7V504.5M332.7 491.1V495.3M333 491.9V495.4M333.3 491.5V497.7M333.6 491.7V502.4M333.9 491.8V495.5M334.2 491.8V501.4M334.5 492V499.2M334.8 492.6V496.8M335.1 492V496.4M335.4 492.1V496.4M335.7 492.7V497M336 492.3V496M336.3 492.3V498.8M336.6 492.4V497.2M336.9 492.5V505.3M337.2 492.8V500.7M337.5 493V498.3M337.8 493.2V503.5M338.1 492.7V497.5M338.4 493.2V497.9M338.7 493.5V498.6M339 493.5V497.4M339.3 493.4V498.5M339.6 492.5V498.1M339.9 493.8V500.1M340.2 493.5V498.4M340.5 493.9V502.4M340.8 493.8V500.4M341.1 493.6V499.4M341.4 493.6V498M341.7 494.2V504M342 494V499.4M342.3 494.2V506.3M342.6 494V506.6M342.9 493.9V504.5M343.2 494.2V504M343.5 493.9V500.2M343.8 493.9V509.1M344.1 494.9V499.8M344.4 494.4V510.2M344.7 494.6V504.9M345 495.1V503.1M345.3 494.5V499.6M345.6 493.4V511.1M345.9 494.4V499.8M346.2 495.2V499.3M346.5 495V509.2M346.8 494.9V509.1M347.1 494.8V510.4M347.4 494.7V501M347.7 494.9V500.1M348 494.7V499.3M348.3 495.4V500.4M348.6 494.9V500.6M348.9 495.5V507.6M349.2 495.7V503.1M349.5 495.6V506.4M349.8 495.5V510.1M350.1 495.1V501.6M350.4 495.8V510.7M350.7 495.9V512.5M351 495.7V500.6M351.3 495.4V506.1M351.6 495.2V500.8M351.9 494.7V500.8M352.2 496.5V504.7M352.5 496V506M352.8 495.4V500.3M353.1 495.8V500.3M353.4 495.9V512.9M353.7 495.6V501M354 496.1V501M354.3 495.7V504.1M354.6 496.7V500.9M354.9 496.1V505.1M355.2 496.1V502.3M355.5 495.1V502.2M355.8 496.5V511.5M356.1 496.4V511M356.4 496.4V503.2M356.7 496.4V515.6M357 496.3V508.4M357.3 496.5V514.7M357.6 496.9V508.4M357.9 496.1V501.8M358.2 496.6V503.5M358.5 496.9V514.6M358.8 496.4V514.9M359.1 496.5V506.1M359.4 496.7V509.1M359.7 496.8V511M360 496.6V502.4M360.3 495.8V506.5M360.6 496.6V515.1M360.9 496.7V502.3M361.2 497.4V513.7M361.5 497V512.7M361.8 496.6V511.1M362.1 497.5V510.4M362.4 497V505.4M362.7 496.6V510.4M363 496.9V503M363.3 497.3V512.7M363.6 498.2V515.8M363.9 496.8V503.2M364.2 497V504.2M364.5 497.1V515.8M364.8 497.2V512.5M365.1 498.7V511.6M365.4 498.2V514M365.7 497.5V503.1M366 497.1V510.8M366.3 497.2V505M366.6 498.2V505.3M366.9 497.6V502.7M367.2 496.7V505.6M367.5 497.3V503M367.8 497.8V504M368.1 497.7V505.3M368.4 497.7V515.8M368.7 497.6V515.8M369 497.5V510.6M369.3 498.4V503.5M369.6 498.9V515.8M369.9 497.5V506.7M370.2 498.3V504.8M370.5 498.3V505.8M370.8 498V515.8M371.1 497.9V508M371.4 498.2V505.8M371.7 498.2V514.5M372 498.5V505.4M372.3 497.9V506.6M372.6 498.5V506.8M372.9 498.1V508.2M373.2 496.7V505.9M373.5 498.4V506.3M373.8 498.2V505.6M374.1 497.6V508.2M374.4 497.3V506.8M374.7 498.2V505.9M375 499.8V512.3M375.3 500V512.8M375.6 499V505.2M375.9 498.3V512.4M376.2 498.6V507.2M376.5 497.9V505.7M376.8 498.6V515.1M377.1 499.4V515.8M377.4 499V505.1M377.7 498.4V506.8M378 498.5V507.7M378.3 499V515.8M378.6 499.4V505.8M378.9 499.7V512.8M379.2 500.3V515.8M379.5 499.5V515.7M379.8 499.1V515.8M380.1 498.6V515.8M380.4 499.1V515.8M380.7 498.9V515.8M381 500V505.9M381.3 498.7V505.8M381.6 499.4V506.8M381.9 499.3V507.8M382.2 499.9V507.2M382.5 499V513.4M382.8 499.4V509.4M383.1 500.1V505.7M383.4 499.2V515.8M383.7 499.3V515.8M384 498.7V507.5M384.3 500.2V507.9M384.6 499.1V515.8M384.9 499.5V509.1M385.2 501.4V506.9M385.5 499.9V510.6M385.8 500.4V512.8M386.1 499.9V505.6M386.4 499.8V512.6M386.7 499.2V515.8M387 499.4V506.5M387.3 500.5V515.8M387.6 499.5V508.7M387.9 499.8V514.8M388.2 499.9V515.8M388.5 500.1V515.8M388.8 500.2V515.8M389.1 500.2V507.9M389.4 499.6V515.2M389.7 499.5V515.8M390 500.4V508.9M390.3 499.9V508.1M390.6 499.8V508.5M390.9 500.6V515.8M391.2 500.4V512.6M391.5 500.4V506.2M391.8 500.8V508.3M392.1 500.5V509M392.4 498.9V507.8M392.7 500.4V515.3M393 500.4V507.2M393.3 500.1V514.7M393.6 500.5V515.8M393.9 500.3V515.8M394.2 499.9V512M394.5 500.6V515.8M394.8 500.1V515.8M395.1 500.5V515.8M395.4 500.3V510M395.7 501.9V513.5M396 500.6V507.2M396.3 500.5V514.3M396.6 500.3V509.6M396.9 500.6V508.7M397.2 500.4V508.5M397.5 500.4V506.9M397.8 501.2V508.9M398.1 500.3V508.9M398.4 499.9V508.5M398.7 500.6V508M399 500.4V515.8M399.3 500.4V509M399.6 500.6V515.8M399.9 501.7V513.2M400.2 501V515.8M400.5 501.3V508.5M400.8 500.6V508.5M401.1 502.2V508.9M401.4 501.1V515.8M401.7 500.9V515.8M402 500.6V515.8M402.3 501.4V512M402.6 500.7V515.8M402.9 501.9V515.8M403.2 500.9V515.8M403.5 501.5V512.1M403.8 501.1V513.9M404.1 500.9V515.8M404.4 501V515.8M404.7 501V515.8M405 502.1V509.3M405.3 501.9V512.7M405.6 502.1V508.5M405.9 501.3V514.7M406.2 501.5V509.1M406.5 501.4V512.9M406.8 501.1V511.9M407.1 501.3V510.2M407.4 501.5V510.5M407.7 501.7V515.8M408 502.4V515.8M408.3 501.6V515.8M408.6 502.1V508.6M408.9 502V509M409.2 501.4V515.8M409.5 501.8V509.4M409.8 500.8V510.9M410.1 502.6V515.8M410.4 502.5V511.8M410.7 502.6V512.3M411 502V515M411.3 502.3V515.8M411.6 499.7V512.5M411.9 501.2V511.6M412.2 502.3V509.8M412.5 502.5V513.2M412.8 502.7V515.8M413.1 502.3V515.8M413.4 502V515.8M413.7 502.3V515.8M414 503.2V509.9M414.3 501.9V515.8M414.6 503.8V509.6M414.9 502.6V515.8M415.2 502.6V514.2M415.5 502.9V515.8M415.8 503V515.8M416.1 502.2V512.4M416.4 503V515.8M416.7 502.1V510.1M417 501.8V515.8M417.3 502.3V511.8M417.6 501.1V515.8M417.9 503V509.1M418.2 500.8V510.4M418.5 502.7V513.9M418.8 502.4V515.8M419.1 502.8V510M419.4 501.5V515.8M419.7 503V509.5M420 504V515.8M420.3 502.1V509.9M420.6 502.2V515.8M420.9 504.4V511.1M421.2 503.6V515.8M421.5 502.2V515.8M421.8 503.2V515.8M422.1 503.2V515.8M422.4 503.5V511.8M422.7 503V510.3M423 503.1V513.1M423.3 502.3V512.7M423.6 503.8V515.8M423.9 503.8V510.6M424.2 504.1V515.8M424.5 502.3V511.5M424.8 503.7V513.5M425.1 503.5V513.1M425.4 503.4V515.8M425.7 503.7V511.2M426 503.8V511.7M426.3 504.1V515.8M426.6 504V515.8M426.9 504.4V511.9M427.2 504.8V515.8M427.5 504.3V512M427.8 504.3V513.1M428.1 504.2V515.8M428.4 505.3V515.8M428.7 503.9V510.6M429 504.5V515.8M429.3 504.4V515.8M429.6 504.9V515.8M429.9 504.9V514.9M430.2 504.2V513.3M430.5 502.8V515.8M430.8 504.7V515.8M431.1 504.3V513.1M431.4 504.4V511.9M431.7 505.4V515.8M432 505.5V515.8M432.3 504.7V511.5M432.6 504.8V511.7M432.9 505.6V515.8M433.2 505.3V512.5M433.5 504.6V511.6M433.8 505.4V511.8M434.1 504.9V515.8M434.4 505.1V515.8M434.7 507.2V512.3M435 505.3V515.8M435.3 505.4V515.8M435.6 505V515.8M435.9 505.6V511.1M436.2 505.9V515.8M436.5 505.4V515.2M436.8 506.9V515.8M437.1 505.5V515.8M437.4 505.7V515.8" stroke="#fd3d43" stroke-width="1.0" fill="none"/>
<rect x="271.1" y="377.6" width="166.59999999999997" height="138.60000000000002" fill="none" stroke="#231f20" stroke-width="1.2"/>
<line x1="271.1" y1="446.9" x2="437.7" y2="446.9" stroke="#3a3a3a" stroke-width="1.2"/>
<line x1="271.6" y1="516.2" x2="271.6" y2="518.5" stroke="#231f20" stroke-width="1"/>
<text x="272" y="530.5" font-size="10.6" text-anchor="middle" fill="#231f20">0</text>
<line x1="288.2" y1="516.2" x2="288.2" y2="517.4" stroke="#231f20" stroke-width="1"/>
<line x1="304.8" y1="516.2" x2="304.8" y2="518.5" stroke="#231f20" stroke-width="1"/>
<text x="305.2" y="530.5" font-size="10.6" text-anchor="middle" fill="#231f20">2</text>
<line x1="321.4" y1="516.2" x2="321.4" y2="517.4" stroke="#231f20" stroke-width="1"/>
<line x1="338" y1="516.2" x2="338" y2="518.5" stroke="#231f20" stroke-width="1"/>
<text x="338.4" y="530.5" font-size="10.6" text-anchor="middle" fill="#231f20">4</text>
<line x1="354.6" y1="516.2" x2="354.6" y2="517.4" stroke="#231f20" stroke-width="1"/>
<line x1="371.2" y1="516.2" x2="371.2" y2="518.5" stroke="#231f20" stroke-width="1"/>
<text x="371.6" y="530.5" font-size="10.6" text-anchor="middle" fill="#231f20">6</text>
<line x1="387.8" y1="516.2" x2="387.8" y2="517.4" stroke="#231f20" stroke-width="1"/>
<line x1="404.4" y1="516.2" x2="404.4" y2="518.5" stroke="#231f20" stroke-width="1"/>
<text x="404.8" y="530.5" font-size="10.6" text-anchor="middle" fill="#231f20">8</text>
<line x1="421" y1="516.2" x2="421" y2="517.4" stroke="#231f20" stroke-width="1"/>
<line x1="437.6" y1="516.2" x2="437.6" y2="518.5" stroke="#231f20" stroke-width="1"/>
<text x="438" y="530.5" font-size="10.6" text-anchor="middle" fill="#231f20">10</text>
<line x1="269.3" y1="516.2" x2="271.1" y2="516.2" stroke="#231f20" stroke-width="1"/>
<text x="354.5" y="542.2" font-size="10.6" text-anchor="middle" fill="#231f20">Time (s)</text>
<text x="241.7" y="447.5" font-size="10.6" text-anchor="middle" fill="#231f20" transform="rotate(-90 241.7 447.5)">Intensity (arb.units)</text>
<text x="435" y="391.8" font-size="10.6" text-anchor="end" fill="#231f20">Rh123@2PACz@PVA</text>
<line x1="308.4" y1="407.1" x2="324.9" y2="407.1" stroke="#12a2f6" stroke-width="1.4"/>
<text x="330.5" y="410" font-size="10.6" text-anchor="start" fill="#231f20">λ</text>
<text x="335.8" y="413.3" font-size="6.6" text-anchor="start" fill="#231f20">em</text>
<text x="344.8" y="410" font-size="10.6" text-anchor="start" fill="#231f20">=444 nm</text>
<text x="394.8" y="410" font-size="10.6" text-anchor="start" fill="#231f20">τ=0.80 s</text>
<line x1="308.4" y1="460.4" x2="324.9" y2="460.4" stroke="#fd3d43" stroke-width="1.4"/>
<text x="330.5" y="463.5" font-size="10.6" text-anchor="start" fill="#231f20">λ</text>
<text x="335.8" y="466.8" font-size="6.6" text-anchor="start" fill="#231f20">em</text>
<text x="344.8" y="463.5" font-size="10.6" text-anchor="start" fill="#231f20">=565 nm</text>
<text x="394.8" y="463.5" font-size="10.6" text-anchor="start" fill="#231f20">τ=0.54 s</text>
<text x="469" y="377.6" font-size="10" text-anchor="start" fill="#000" font-weight="bold">h</text>
<path d="M505.6 377.6V395.2" stroke="#12a2f6" stroke-width="1.4" fill="none"/>
<polyline points="505.6,395.2 506.1,396.2 506.6,397 507.1,397.5 507.6,397.8 508.1,398.1 508.6,398.4 509.1,398.6 509.6,398.8 510.1,399.1 510.6,399.3 511.1,399.5 511.6,399.7 512.1,399.8 512.6,400 513.1,400.2 513.6,400.4 514.1,400.5 514.6,400.7 515.1,400.8 515.6,401 516.1,401.1 516.6,401.3 517.1,401.4 517.6,401.6 518.1,401.7 518.6,401.9 519.1,402 519.6,402.1 520.1,402.3 520.6,402.4 521.1,402.5 521.6,402.6 522.1,402.8 522.6,402.9 523.1,403 523.6,403.1 524.1,403.3 524.6,403.4 525.1,403.5 525.6,403.6 526.1,403.7 526.6,403.9 527.1,404 527.6,404.1 528.1,404.2 528.6,404.3 529.1,404.5 529.6,404.6 530.1,404.7 530.6,404.8 531.1,404.9 531.6,405 532.1,405.1 532.6,405.3 533.1,405.4 533.6,405.5 534.1,405.6 534.6,405.7 535.1,405.8 535.6,405.9 536.1,406 536.6,406.1 537.1,406.3 537.6,406.4 538.1,406.5 538.6,406.6 539.1,406.7 539.6,406.8 540.1,406.9 540.6,407 541.1,407.1 541.6,407.2 542.1,407.3 542.6,407.4 543.1,407.5 543.6,407.6 544.1,407.7 544.6,407.8 545.1,407.9 545.6,408.1 546.1,408.2 546.6,408.3 547.1,408.4 547.6,408.5 548.1,408.6 548.6,408.7 549.1,408.8 549.6,408.9 550.1,409 550.6,409.1 551.1,409.2 551.6,409.3 552.1,409.4 552.6,409.5 553.1,409.6 553.6,409.7 554.1,409.8 554.6,409.9 555.1,410 555.6,410.1 556.1,410.2 556.6,410.3 557.1,410.4 557.6,410.5 558.1,410.6 558.6,410.7 559.1,410.8 559.6,410.9 560.1,411 560.6,411.1 561.1,411.2 561.6,411.3 562.1,411.4 562.6,411.5 563.1,411.6 563.6,411.7 564.1,411.8 564.6,411.9 565.1,412 565.6,412.1 566.1,412.2 566.6,412.3 567.1,412.4 567.6,412.5 568.1,412.6 568.6,412.7 569.1,412.8 569.6,412.9 570.1,413 570.6,413.1 571.1,413.2 571.6,413.3 572.1,413.4 572.6,413.5 573.1,413.6 573.6,413.7 574.1,413.8 574.6,413.9 575.1,414 575.6,414.1 576.1,414.2 576.6,414.3 577.1,414.4 577.6,414.5 578.1,414.6 578.6,414.7 579.1,414.8 579.6,414.9 580.1,415 580.6,415.1 581.1,415.2 581.6,415.3 582.1,415.4 582.6,415.5 583.1,415.6 583.6,415.7 584.1,415.8 584.6,415.9 585.1,416 585.6,416.1 586.1,416.3 586.6,416.4 587.1,416.5 587.6,416.6 588.1,416.7 588.6,416.8 589.1,416.9 589.6,417 590.1,417.1 590.6,417.2 591.1,417.3 591.6,417.4 592.1,417.5 592.6,417.6 593.1,417.7 593.6,417.8 594.1,417.9 594.6,418 595.1,418.1 595.6,418.2 596.1,418.3 596.6,418.4 597.1,418.5 597.6,418.6 598.1,418.7 598.6,418.8 599.1,418.8 599.6,418.9 600.1,419 600.6,419.1 601.1,419.2 601.6,419.3 602.1,419.4 602.6,419.5 603.1,419.6 603.6,419.6 604.1,419.7 604.6,419.8 605.1,419.9 605.6,420 606.1,420.1 606.6,420.1 607.1,420.2 607.6,420.3 608.1,420.4 608.6,420.5 609.1,420.5 609.6,420.6 610.1,420.7 610.6,420.8 611.1,420.8 611.6,420.9 612.1,421 612.6,421.1 613.1,421.1 613.6,421.2 614.1,421.3 614.6,421.4 615.1,421.4 615.6,421.5 616.1,421.6 616.6,421.7 617.1,421.7 617.6,421.8 618.1,421.9 618.6,422 619.1,422 619.6,422.1 620.1,422.2 620.6,422.3 621.1,422.3 621.6,422.4 622.1,422.5 622.6,422.5 623.1,422.6 623.6,422.7 624.1,422.8 624.6,422.8 625.1,422.9 625.6,423 626.1,423.1 626.6,423.1 627.1,423.2 627.6,423.3 628.1,423.4 628.6,423.4 629.1,423.5 629.6,423.6 630.1,423.7 630.6,423.7 631.1,423.8 631.6,423.9 632.1,424 632.6,424.1 633.1,424.1 633.6,424.2 634.1,424.3 634.6,424.4 635.1,424.4 635.6,424.5 636.1,424.6 636.6,424.7 637.1,424.7 637.6,424.8 638.1,424.9 638.6,425 639.1,425.1 639.6,425.1 640.1,425.2 640.6,425.3 641.1,425.4 641.6,425.4 642.1,425.5 642.6,425.6 643.1,425.7 643.6,425.7 644.1,425.8 644.6,425.9 645.1,426 645.6,426 646.1,426.1 646.6,426.2 647.1,426.3 647.6,426.3 648.1,426.4 648.6,426.5 649.1,426.5 649.6,426.6 650.1,426.7 650.6,426.7 651.1,426.8 651.6,426.9 652.1,426.9 652.6,427 653.1,427.1 653.6,427.1 654.1,427.2 654.6,427.3 655.1,427.3 655.6,427.4 656.1,427.5 656.6,427.5 657.1,427.6 657.6,427.6 658.1,427.7 658.6,427.8 659.1,427.8 659.6,427.9 660.1,427.9 660.6,428 661.1,428 661.6,428.1 662.1,428.2 662.6,428.2 663.1,428.3 663.6,428.3 664.1,428.4 664.6,428.4 665.1,428.5 665.6,428.5 666.1,428.6 666.6,428.7 667.1,428.7 667.6,428.8 668.1,428.8 668.6,428.9 669.1,428.9 669.6,429 670.1,429 670.6,429.1" fill="none" stroke="#12a2f6" stroke-width="1.3"/>
<path d="M505.6 394.7V395.7M505.9 395.4V396.4M506.2 396V397.1M506.5 396.4V397.4M506.8 396.8V397.6M507.1 397.1V397.9M507.4 397.3V398.3M507.7 397.4V398.4M508 397.6V398.6M508.3 397.9V398.7M508.6 398V398.8M508.9 398.1V399M509.2 398.2V399.2M509.5 398.3V399.2M509.8 398.4V399.4M510.1 398.6V399.7M510.4 398.9V399.8M510.7 399V399.9M511 399V399.9M511.3 399.1V400M511.6 399.3V400.1M511.9 399.3V400.4M512.2 399.5V400.6M512.5 399.5V400.6M512.8 399.4V400.6M513.1 399.8V400.6M513.4 399.9V400.9M513.7 400V401.1M514 400V401M514.3 400.1V401.2M514.6 400.2V401.2M514.9 400.3V401.4M515.2 400.5V401.5M515.5 400.5V401.8M515.8 400.5V401.7M516.1 400.5V401.9M516.4 400.8V401.6M516.7 401V402.2M517 400.9V402.1M517.3 401.1V402.1M517.6 401.2V402M517.9 401.2V402.1M518.2 401.2V402.3M518.5 401.3V402.4M518.8 401.5V402.8M519.1 401.6V402.7M519.4 401.6V402.7M519.7 401.7V402.7M520 401.8V402.9M520.3 401.7V403M520.6 401.8V403M520.9 401.9V403M521.2 402V403.2M521.5 402.1V403.3M521.8 402.3V403.4M522.1 402.2V403.2M522.4 402.3V403.1M522.7 402.5V403.5M523 402.6V403.7M523.3 402.7V403.8M523.6 402.6V404.1M523.9 402.7V404.1M524.2 402.8V404M524.5 402.8V404.1M524.8 403V404.2M525.1 403.1V404.3M525.4 403V404.4M525.7 403.1V404.2M526 403.4V404.2M526.3 403.2V404.8M526.6 403.4V404.7M526.9 403.5V404.5M527.2 403.4V405M527.5 403.6V405M527.8 403.9V404.7M528.1 403.6V405.6M528.4 403.7V405.2M528.7 403.6V405.3M529 403.7V405.3M529.3 403.8V405.4M529.6 404V405.5M529.9 404.1V405.4M530.2 404.2V405.4M530.5 404.4V405.6M530.8 404.4V405.4M531.1 404V405.7M531.4 404.6V405.6M531.7 404.5V405.6M532 404.6V405.6M532.3 404.7V405.9M532.6 404.8V405.9M532.9 404.8V406M533.2 405V406.3M533.5 404.9V406.3M533.8 405V406.8M534.1 405V406M534.4 405.3V406.7M534.7 405.1V406.8M535 405.3V406.5M535.3 405.5V406.3M535.6 405.4V406.8M535.9 405.4V407.1M536.2 405.3V407.4M536.5 405.6V406.9M536.8 405.5V407.1M537.1 405.6V407.3M537.4 405.8V407M537.7 405.9V407M538 405.9V407.3M538.3 405.9V407.5M538.6 406.1V407.8M538.9 406V407.5M539.2 406V407.2M539.5 406.1V407.5M539.8 406.1V407.7M540.1 406.4V407.6M540.4 406.4V408.2M540.7 406.5V407.8M541 406.4V408.2M541.3 406.5V407.4M541.6 406.8V408.4M541.9 406.6V407.8M542.2 406.7V408.3M542.5 407V408.1M542.8 406.8V408.3M543.1 406.9V408.6M543.4 406.9V408.8M543.7 407V409.2M544 406.9V408.8M544.3 407.1V408.7M544.6 407.2V408.6M544.9 407.2V408.6M545.2 407.5V409.1M545.5 407.6V409M545.8 407.4V408.9M546.1 407.5V409.1M546.4 407.5V409.4M546.7 407.6V409.2M547 407.7V409.3M547.3 407.7V409.5M547.6 407.7V409.7M547.9 408V409.3M548.2 407.9V409.2M548.5 408V409.7M548.8 408.1V410.1M549.1 408.2V409.6M549.4 407.8V410.2M549.7 408.2V409.7M550 408.3V410.2M550.3 408.3V409.5M550.6 408.3V409.9M550.9 408.6V410.6M551.2 408.6V410.1M551.5 408.5V410.7M551.8 408.6V409.7M552.1 408.9V410.1M552.4 408.8V410.4M552.7 408.7V410.7M553 409V410.1M553.3 408.8V410.5M553.6 409.2V410.6M553.9 408.8V411M554.2 409.2V410.5M554.5 409.3V411M554.8 409.3V410.9M555.1 409.2V411.3M555.4 409.4V410.7M555.7 409.5V410.5M556 409.3V411.9M556.3 409.7V411.7M556.6 409.7V411.9M556.9 409.7V412.3M557.2 409.7V411.8M557.5 409.5V412M557.8 409.9V411.6M558.1 410V411.4M558.4 410.1V412.4M558.7 409.7V412.1M559 409.9V411.7M559.3 410.1V411.7M559.6 410.1V412.2M559.9 410.1V411.9M560.2 409.7V413.3M560.5 410.4V412.3M560.8 410.6V412.2M561.1 410.4V412.4M561.4 410.5V412.3M561.7 410.5V412.3M562 410.7V411.9M562.3 410.6V412.8M562.6 410.7V413.1M562.9 410.7V412.5M563.2 410.8V412.5M563.5 411V412.7M563.8 410.9V413.1M564.1 411.1V413.3M564.4 411.3V413.6M564.7 411.4V412.8M565 410.7V412.9M565.3 411.3V413.3M565.6 411.2V413.6M565.9 411.4V413.9M566.2 411.1V413.3M566.5 411.5V414M566.8 411.5V413.3M567.1 411.7V413.9M567.4 411.6V413.9M567.7 411.6V414M568 411.7V413.6M568.3 411.8V414.1M568.6 411.9V414.1M568.9 412.1V414M569.2 412V413.5M569.5 412.1V413.5M569.8 411.9V414.8M570.1 412.2V414.2M570.4 412.1V414.8M570.7 412.1V413.9M571 412.2V414.7M571.3 412.2V415.1M571.6 412.5V415.7M571.9 412.3V414.9M572.2 412.6V414.5M572.5 412.5V414.7M572.8 412.8V415M573.1 412.7V414.3M573.4 412.7V414.8M573.7 412.8V415M574 412.8V414.7M574.3 413.1V415.7M574.6 413.1V415.4M574.9 413V415.3M575.2 413.4V415.2M575.5 413.4V415.7M575.8 413.4V415.2M576.1 413.4V415.6M576.4 413.2V416M576.7 413.3V415.7M577 413.4V416.5M577.3 413.7V416.6M577.6 413.5V416.5M577.9 413.5V415.7M578.2 413.6V416.3M578.5 413.7V416.1M578.8 413.6V415.6M579.1 413.7V416.1M579.4 413.8V416M579.7 413.9V415.7M580 414.1V416.8M580.3 414.2V415.8M580.6 414.1V416.1M580.9 414.1V416.1M581.2 414.1V417.4M581.5 414V416.3M581.8 414.2V417.6M582.1 414.6V417.8M582.4 414.3V416.5M582.7 414.7V417.4M583 414.5V416.4M583.3 414.7V418.7M583.6 414.9V416.9M583.9 414.9V417.4M584.2 414.9V416.8M584.5 415V418.1M584.8 415.1V416.8M585.1 414.8V417.3M585.4 415.2V418.4M585.7 414.9V417.2M586 415V417.6M586.3 415.1V417.7M586.6 415.6V418.5M586.9 415.2V417.5M587.2 415.5V418.6M587.5 415.4V418.2M587.8 415.6V418.2M588.1 415.7V419.2M588.4 415.8V418.8M588.7 415.6V418.6M589 415.6V418.7M589.3 415.3V418.9M589.6 415.5V418.4M589.9 416.5V417.6M590.2 416V418.6M590.5 416V419.2M590.8 416.1V419.6M591.1 416.3V419.3M591.4 416V419.8M591.7 416.4V418M592 416.6V419.7M592.3 416.3V419.5M592.6 416.4V418.8M592.9 416.4V419.2M593.2 416.6V419.2M593.5 416.5V418.7M593.8 416.7V419.6M594.1 416.6V419.5M594.4 416.7V419.9M594.7 416.7V420.2M595 416.8V419.8M595.3 416.4V420.7M595.6 417.1V421M595.9 416.8V420.1M596.2 417.1V421M596.5 417.1V419.8M596.8 417.2V419.4M597.1 417.1V420M597.4 417.4V420.3M597.7 417.3V420.1M598 417.3V421.2M598.3 417.6V419.9M598.6 417.7V422.1M598.9 417.3V420.2M599.2 417.6V420.5M599.5 417.7V420.1M599.8 417.7V421.4M600.1 418.1V421.5M600.4 417.7V421.8M600.7 417.7V421.9M601 417.7V420.7M601.3 417.9V421M601.6 417.9V422.7M601.9 418.2V421.7M602.2 418V421.5M602.5 418.5V420.3M602.8 418V421.5M603.1 418.4V421.5M603.4 418.5V421.3M603.7 418.4V421.6M604 418.2V421.3M604.3 418.5V421.1M604.6 418.4V422.8M604.9 417.7V422M605.2 418V421.4M605.5 418.5V421.9M605.8 418.6V421.3M606.1 418.9V423M606.4 418.7V422.1M606.7 418.8V422.7M607 418.9V423.1M607.3 418.7V422.5M607.6 418.7V423M607.9 418.8V422.5M608.2 419.5V422.2M608.5 419.2V422M608.8 419.3V422.4M609.1 418.9V423.6M609.4 418.9V422.3M609.7 418.9V422.9M610 419.2V423.8M610.3 419.1V422.2M610.6 419.8V422.8M610.9 419.3V422.7M611.2 419.5V424.3M611.5 419.5V424.4M611.8 419.7V423M612.1 419.6V424.4M612.4 419.6V422.6M612.7 419.8V423.8M613 419.4V422.9M613.3 419.5V424.4M613.6 419.6V423.2M613.9 420.1V423.3M614.2 419.9V423.4M614.5 419.8V424.6M614.8 419.4V423.2M615.1 419.9V423.2M615.4 419.8V424.8M615.7 419.8V423.2M616 419.8V423.1M616.3 420V423.1M616.6 420.4V424M616.9 420V423.3M617.2 420.1V424.3M617.5 420.1V423.5M617.8 420.3V423.8M618.1 420.4V423.5M618.4 420.1V423.7M618.7 419.2V425.7M619 420.6V426.5M619.3 420.4V424.3M619.6 420.7V424.9M619.9 421V424.3M620.2 420.5V426M620.5 420.6V423.6M620.8 420.6V424.7M621.1 420.8V424.4M621.4 420.6V426.2M621.7 420.7V426.5M622 420.9V424.8M622.3 420.9V425.2M622.6 421.3V425.1M622.9 421.4V425.7M623.2 421.1V425M623.5 421.3V424.9M623.8 420.9V424.7M624.1 421.2V424.8M624.4 421.3V425.6M624.7 421.1V425.4M625 421.1V425.2M625.3 420.8V424.8M625.6 421.2V424.5M625.9 421.3V425.3M626.2 420.4V427.3M626.5 421.7V426.9M626.8 420.9V424.8M627.1 421.6V425.6M627.4 421.6V426.4M627.7 422.4V425.3M628 422.2V424.9M628.3 421.5V427.6M628.6 421.4V426.1M628.9 421.8V424.6M629.2 421.6V426.9M629.5 422.1V426M629.8 422.5V424.4M630.1 421.7V427.2M630.4 421.6V428.8M630.7 421.7V426.3M631 422V425.3M631.3 422.2V427.4M631.6 421.8V425.9M631.9 422V426.6M632.2 422V428M632.5 421.9V426.1M632.8 422.2V426.2M633.1 421.9V426.5M633.4 422V430.2M633.7 422.2V426.2M634 422.2V429.1M634.3 422.8V427.9M634.6 422.7V426.6M634.9 422.8V428.2M635.2 422.7V425.1M635.5 422.5V427.1M635.8 422.6V428.8M636.1 422.7V427.1M636.4 422.4V426.9M636.7 422.5V429M637 422.9V429M637.3 422.6V429.3M637.6 423.1V429.7M637.9 423.1V428.8M638.2 422.7V428M638.5 423.1V427.6M638.8 421.8V427.3M639.1 422.8V430.4M639.4 423.3V429.2M639.7 423.3V426.9M640 422.9V430.7M640.3 422.9V429.1M640.6 423.2V427.2M640.9 423.1V427.4M641.2 422.6V428.5M641.5 423.2V427.7M641.8 423.2V427.7M642.1 423.3V427.7M642.4 423.6V428.9M642.7 424V428.2M643 423.3V427.6M643.3 423.7V431.8M643.6 424.1V427.9M643.9 423.7V428.1M644.2 423.3V428.1M644.5 423.5V428M644.8 423.9V429.2M645.1 423.9V428.5M645.4 424.4V429.5M645.7 424.3V430.6M646 422.8V426.7M646.3 424.2V429.3M646.6 422.9V431.4M646.9 424.4V431.1M647.2 424.9V428.1M647.5 424.2V428.2M647.8 424.1V430.9M648.1 423.9V429.3M648.4 423.6V429.6M648.7 424.3V429.5M649 424.4V430M649.3 424.1V430.4M649.6 424.4V428.2M649.9 424.3V430.4M650.2 424.9V430.4M650.5 424.7V430.6M650.8 424.8V429.1M651.1 424.5V431.6M651.4 424.3V429.7M651.7 424.6V432.9M652 425.2V431.4M652.3 424.7V429.1M652.6 424.8V428.7M652.9 425.2V432.2M653.2 424.5V429.6M653.5 424.6V430.6M653.8 424.6V430.6M654.1 425.5V433.2M654.4 425.3V429.9M654.7 424.6V429.7M655 425V433.7M655.3 424.8V430M655.6 425.5V430.6M655.9 424.7V433.1M656.2 425.4V430.9M656.5 425.2V429.5M656.8 425.7V432.5M657.1 425.3V431.2M657.4 425.2V429.6M657.7 425.3V430M658 425.9V430.7M658.3 425.2V433.7M658.6 425.4V432.4M658.9 426.3V433.9M659.2 426.5V431.9M659.5 425.1V433.6M659.8 425.3V433M660.1 424.8V431.1M660.4 425.3V432.7M660.7 425.2V431.4M661 425.5V434.4M661.3 425.5V431.5M661.6 425.8V432.3M661.9 425.6V433.4M662.2 425.6V430.8M662.5 425.4V431.7M662.8 425.7V431.1M663.1 425.8V430.9M663.4 425.8V430.3M663.7 426.3V431.4M664 425.8V431.3M664.3 425.8V431M664.6 425.6V430.4M664.9 425.9V433.3M665.2 425.9V431.4M665.5 426.6V433.7M665.8 426V431.7M666.1 426.1V433.9M666.4 425.8V431.1M666.7 425.9V432.3M667 426.5V430.7M667.3 426.1V432.9M667.6 426.1V430.4M667.9 425.8V431.7M668.2 426.5V433.9M668.5 427V432.4M668.8 425.9V431.7M669.1 426V435.5M669.4 426.8V435.5M669.7 425.4V433M670 426.5V432.6M670.3 426.4V432.4M670.6 426.3V435.1M670.9 425V434.6" stroke="#12a2f6" stroke-width="1.0" fill="none"/>
<path d="M505.5 446.9V447.5" stroke="#fd3d43" stroke-width="1.4" fill="none"/>
<polyline points="505.5,447.5 506,453.8 506.5,457 507,459.3 507.5,460.9 508,462.2 508.5,463.4 509,464.3 509.5,465.1 510,465.8 510.5,466.5 511,467.1 511.5,467.6 512,468.1 512.5,468.6 513,469 513.5,469.4 514,469.8 514.5,470.2 515,470.6 515.5,470.9 516,471.2 516.5,471.5 517,471.8 517.5,472.1 518,472.3 518.5,472.6 519,472.8 519.5,473 520,473.3 520.5,473.5 521,473.7 521.5,473.9 522,474.2 522.5,474.4 523,474.6 523.5,474.8 524,475.1 524.5,475.3 525,475.6 525.5,475.8 526,476 526.5,476.3 527,476.5 527.5,476.7 528,477 528.5,477.2 529,477.4 529.5,477.7 530,477.9 530.5,478.1 531,478.3 531.5,478.5 532,478.8 532.5,479 533,479.2 533.5,479.4 534,479.6 534.5,479.8 535,480 535.5,480.2 536,480.4 536.5,480.6 537,480.8 537.5,480.9 538,481.1 538.5,481.3 539,481.5 539.5,481.7 540,481.8 540.5,482 541,482.2 541.5,482.4 542,482.5 542.5,482.7 543,482.9 543.5,483 544,483.2 544.5,483.3 545,483.5 545.5,483.6 546,483.8 546.5,483.9 547,484.1 547.5,484.2 548,484.4 548.5,484.5 549,484.7 549.5,484.8 550,484.9 550.5,485.1 551,485.2 551.5,485.3 552,485.5 552.5,485.6 553,485.7 553.5,485.9 554,486 554.5,486.1 555,486.2 555.5,486.3 556,486.5 556.5,486.6 557,486.7 557.5,486.8 558,486.9 558.5,487 559,487.1 559.5,487.2 560,487.3 560.5,487.4 561,487.5 561.5,487.6 562,487.7 562.5,487.8 563,487.9 563.5,488 564,488.1 564.5,488.2 565,488.3 565.5,488.4 566,488.4 566.5,488.5 567,488.6 567.5,488.7 568,488.8 568.5,488.9 569,489 569.5,489 570,489.1 570.5,489.2 571,489.3 571.5,489.4 572,489.5 572.5,489.6 573,489.6 573.5,489.7 574,489.8 574.5,489.9 575,490 575.5,490.1 576,490.2 576.5,490.3 577,490.4 577.5,490.5 578,490.6 578.5,490.7 579,490.8 579.5,490.9 580,491 580.5,491.1 581,491.2 581.5,491.3 582,491.4 582.5,491.5 583,491.6 583.5,491.7 584,491.8 584.5,491.9 585,492 585.5,492.1 586,492.2 586.5,492.3 587,492.4 587.5,492.5 588,492.6 588.5,492.7 589,492.8 589.5,492.9 590,493 590.5,493.1 591,493.2 591.5,493.3 592,493.4 592.5,493.5 593,493.6 593.5,493.7 594,493.8 594.5,493.9 595,494 595.5,494.1 596,494.2 596.5,494.3 597,494.4 597.5,494.5 598,494.7 598.5,494.8 599,494.9 599.5,495 600,495.1 600.5,495.2 601,495.3 601.5,495.4 602,495.5 602.5,495.6 603,495.7 603.5,495.8 604,495.9 604.5,496 605,496.1 605.5,496.2 606,496.3 606.5,496.4 607,496.5 607.5,496.6 608,496.7 608.5,496.8 609,496.9 609.5,497 610,497.1 610.5,497.2 611,497.3 611.5,497.4 612,497.5 612.5,497.6 613,497.7 613.5,497.8 614,497.9 614.5,498 615,498.1 615.5,498.2 616,498.3 616.5,498.4 617,498.5 617.5,498.6 618,498.7 618.5,498.8 619,498.9 619.5,499 620,499.1 620.5,499.2 621,499.3 621.5,499.4 622,499.5 622.5,499.6 623,499.7 623.5,499.8 624,499.9 624.5,500 625,500 625.5,500.1 626,500.2 626.5,500.3 627,500.4 627.5,500.5 628,500.5 628.5,500.6 629,500.7 629.5,500.8 630,500.9 630.5,500.9 631,501 631.5,501.1 632,501.2 632.5,501.2 633,501.3 633.5,501.4 634,501.5 634.5,501.5 635,501.6 635.5,501.7 636,501.8 636.5,501.8 637,501.9 637.5,502 638,502 638.5,502.1 639,502.2 639.5,502.2 640,502.3 640.5,502.4 641,502.4 641.5,502.5 642,502.6 642.5,502.6 643,502.7 643.5,502.8 644,502.8 644.5,502.9 645,503 645.5,503 646,503.1 646.5,503.2 647,503.2 647.5,503.3 648,503.3 648.5,503.4 649,503.5 649.5,503.5 650,503.6 650.5,503.7 651,503.7 651.5,503.8 652,503.8 652.5,503.9 653,504 653.5,504 654,504.1 654.5,504.1 655,504.2 655.5,504.3 656,504.3 656.5,504.4 657,504.4 657.5,504.5 658,504.6 658.5,504.6 659,504.7 659.5,504.7 660,504.8 660.5,504.9 661,504.9 661.5,505 662,505 662.5,505.1 663,505.1 663.5,505.2 664,505.3 664.5,505.3 665,505.4 665.5,505.4 666,505.5 666.5,505.5 667,505.6 667.5,505.6 668,505.7 668.5,505.7 669,505.8 669.5,505.8 670,505.9 670.5,505.9 671,506" fill="none" stroke="#fd3d43" stroke-width="1.3"/>
<path d="M505.5 447.5V448.3M505.8 451.7V452.7M506.1 454.2V455M506.4 456V456.9M506.7 457.5V458.4M507 458.8V459.7M507.3 459.9V461M507.6 460.8V461.8M507.9 461.5V462.3M508.2 462.2V463.1M508.5 462.9V464.1M508.8 463.6V464.6M509.1 464.1V465M509.4 464.5V465.6M509.7 464.7V465.9M510 465.1V466.4M510.3 465.5V466.8M510.6 466.1V467.1M510.9 466.5V467.3M511.2 466.8V468M511.5 467.1V468.2M511.8 467.5V468.4M512.1 467.7V468.8M512.4 468V468.9M512.7 468.2V469.5M513 468.7V469.6M513.3 468.9V469.7M513.6 469V470.1M513.9 469.2V470.3M514.2 469.4V470.7M514.5 469.5V470.8M514.8 469.9V471M515.1 470.1V471.1M515.4 470.4V471.5M515.7 470.6V471.6M516 470.8V471.9M516.3 470.9V471.9M516.6 471V472.3M516.9 471.2V472.4M517.2 471.4V472.4M517.5 471.8V472.9M517.8 471.7V472.8M518.1 471.7V473M518.4 472.1V473.2M518.7 472.1V473.4M519 472.3V473.3M519.3 472.4V473.5M519.6 472.5V473.9M519.9 472.7V473.7M520.2 472.8V473.8M520.5 472.9V474M520.8 473.2V474.2M521.1 473.4V474.3M521.4 473.4V474.5M521.7 473.5V474.6M522 473.7V474.8M522.3 473.7V475M522.6 474.1V475M522.9 474.1V475M523.2 474.2V475.6M523.5 474.5V475.3M523.8 474.4V475.5M524.1 474.6V475.8M524.4 474.7V476M524.7 474.9V476.1M525 474.9V476.1M525.3 475.2V476.5M525.6 475.3V476.7M525.9 475.6V477M526.2 475.6V476.9M526.5 475.8V477.2M526.8 475.9V477.2M527.1 476V477M527.4 476.1V477.6M527.7 476.2V477.6M528 476.6V477.9M528.3 476.5V477.7M528.6 476.6V478.1M528.9 476.7V478.1M529.2 476.9V477.9M529.5 477.1V478.3M529.8 477.3V478.7M530.1 477.3V478.7M530.4 477.5V478.8M530.7 477.7V478.7M531 477.7V479.3M531.3 477.8V479.3M531.6 477.6V479.2M531.9 478.1V479.6M532.2 478.3V479.6M532.5 478.4V479.8M532.8 478.5V480M533.1 478.7V480.1M533.4 478.8V480.1M533.7 478.8V480.4M534 479V480.5M534.3 479.2V480.4M534.6 479.2V480.9M534.9 479.3V480.7M535.2 479.5V481M535.5 479.6V480.8M535.8 479.8V481.2M536.1 479.8V481.1M536.4 479.8V481.2M536.7 479.9V481.5M537 480.1V481.3M537.3 480.2V481.6M537.6 480.4V482M537.9 480.5V481.8M538.2 480.5V482.2M538.5 480.6V482M538.8 480.7V482.4M539.1 480.9V482.3M539.4 481V482.6M539.7 481V482.8M540 481.1V482.5M540.3 481.3V482.6M540.6 481.3V482.8M540.9 481.5V483.2M541.2 481.5V483.3M541.5 481.8V483.2M541.8 481.8V483.7M542.1 481.8V483.3M542.4 482.1V483.5M542.7 482.1V483.6M543 482.4V483.8M543.3 482.4V484M543.6 482.2V484M543.9 482.4V484.1M544.2 482.5V484.4M544.5 482.7V484.3M544.8 483.1V484.5M545.1 482.9V484.4M545.4 483V484.6M545.7 483.1V484.9M546 483V484.3M546.3 483.1V484.7M546.6 483.2V484.7M546.9 483.3V485M547.2 483.3V485.2M547.5 483.4V485.5M547.8 483.5V485.8M548.1 483.7V485.5M548.4 483.9V485.6M548.7 484V485.9M549 483.8V486.3M549.3 484V485.8M549.6 484.1V486.2M549.9 483.8V485.9M550.2 484.2V486M550.5 484.5V485.8M550.8 484.5V486.5M551.1 484.4V486.4M551.4 484.8V486.4M551.7 484.6V486.6M552 484.9V486.1M552.3 484.7V486.6M552.6 484.8V487M552.9 484.6V486.8M553.2 485V486.5M553.5 484.8V486.3M553.8 485.2V486.9M554.1 485.2V487.2M554.4 485.4V487.8M554.7 485.4V487.2M555 485.4V487.2M555.3 485.4V487.9M555.6 485.7V487.3M555.9 485.7V488.2M556.2 485.8V487.7M556.5 485.7V487.3M556.8 485.9V487.4M557.1 486.2V487.4M557.4 486V488.1M557.7 485.9V487.7M558 486.1V488.5M558.3 486.4V487.9M558.6 486.1V488.4M558.9 486.4V488.1M559.2 486.5V488.2M559.5 486.6V488M559.8 485.9V488.6M560.1 486.6V488.3M560.4 486.7V488.3M560.7 487V488.4M561 486.8V488M561.3 486.7V488.7M561.6 486.8V488.8M561.9 486.9V488.7M562.2 486.9V488.5M562.5 487V489M562.8 486.9V488.6M563.1 487.4V489M563.4 487.3V489M563.7 487.4V488.8M564 487.4V489.7M564.3 487.2V489.1M564.6 487.4V489.5M564.9 487.3V489.2M565.2 487.5V489.2M565.5 487.5V489.8M565.8 488V489.6M566.1 487.8V490.2M566.4 487.6V490M566.7 487.7V490.6M567 487.7V489.8M567.3 487.8V490.1M567.6 487.8V490.3M567.9 488.1V489.3M568.2 488V490.4M568.5 487.9V490.4M568.8 488V490.7M569.1 488V489.9M569.4 488.1V490.6M569.7 488.1V489.7M570 488.2V490M570.3 488.5V490.4M570.6 488.1V490.2M570.9 488.6V491.2M571.2 488.7V490.6M571.5 488.6V490.4M571.8 489V491.1M572.1 488.7V490.8M572.4 488.7V490.6M572.7 488.4V490.9M573 488.7V490.7M573.3 488.8V490.7M573.6 488.8V492.1M573.9 489.2V491M574.2 489V491.6M574.5 488.9V491.4M574.8 488.9V491.4M575.1 489V491.1M575.4 489.4V491.1M575.7 489.2V491.1M576 489.2V492.6M576.3 489.5V491.3M576.6 489.2V492.8M576.9 489.5V492.7M577.2 489.5V491.8M577.5 489.6V492.5M577.8 489.4V491.5M578.1 489.7V492.7M578.4 489.5V491.7M578.7 489.7V491.6M579 489.7V492.9M579.3 489.7V492.8M579.6 489.8V492.4M579.9 489.6V493.3M580.2 489.8V492.5M580.5 489.8V492.9M580.8 490V491.8M581.1 489.9V492.7M581.4 490.2V492.7M581.7 490V492.5M582 489.9V493M582.3 489.6V493.7M582.6 490.5V493.9M582.9 490.4V492.5M583.2 490.5V493.5M583.5 490.8V493.3M583.8 490.1V494.6M584.1 490.7V493M584.4 490.5V494.9M584.7 490.4V494.4M585 491.4V494.3M585.3 490.8V494.9M585.6 490.6V494.6M585.9 490.8V494.2M586.2 489.9V493.8M586.5 490.4V494.3M586.8 490.6V495.1M587.1 490.8V494.6M587.4 491V495.7M587.7 491.2V494.1M588 490.9V496.7M588.3 490.8V494.2M588.6 491.1V495.7M588.9 491.3V495.8M589.2 491V495.2M589.5 491.1V494.8M589.8 491.2V494.9M590.1 491.4V495.8M590.4 491.2V494.8M590.7 490.4V495.6M591 491.8V495.7M591.3 491.9V496.4M591.6 491.4V496.5M591.9 491.3V497M592.2 491.8V497M592.5 491.3V495.9M592.8 491.4V496M593.1 492.3V496.5M593.4 492.3V498.3M593.7 491.9V497.8M594 491.9V496.8M594.3 491.7V497.9M594.6 491.9V495.5M594.9 492.1V497.9M595.2 491.6V500.4M595.5 491.8V498.5M595.8 492.3V498.5M596.1 492.5V496.4M596.4 492V499.8M596.7 491.8V499M597 492.2V497.3M597.3 492.3V496.1M597.6 491.9V498.4M597.9 491.6V497.3M598.2 492.5V496.6M598.5 492.4V499M598.8 492.1V497.2M599.1 492.4V500.1M599.4 492.1V498.1M599.7 493.1V498.7M600 492.1V500.7M600.3 492.8V500.5M600.6 492.7V500.4M600.9 492.6V500.4M601.2 492.8V499.8M601.5 492.5V498.9M601.8 492.9V498.9M602.1 492.6V499.9M602.4 493.4V502.9M602.7 492.9V499.5M603 492.5V501.8M603.3 492.8V501.2M603.6 492.8V499.3M603.9 493V500.5M604.2 492.8V500M604.5 493.8V499.3M604.8 493V501.6M605.1 491.9V498.3M605.4 493.1V499.7M605.7 493.1V499.7M606 493.1V502.5M606.3 493.3V499.8M606.6 493.2V503M606.9 493.5V502.1M607.2 493.6V497.9M607.5 493.6V501.4M607.8 494V502.8M608.1 493.2V503.2M608.4 494V500.4M608.7 493.4V500.7M609 493.8V502.7M609.3 494V500.5M609.6 493.6V501.2M609.9 492.4V502.2M610.2 494V503.2M610.5 493.7V503.8M610.8 493.6V501.2M611.1 494.5V504.3M611.4 494V504.9M611.7 494.7V500.8M612 494.8V501.6M612.3 493.5V502.7M612.6 494.1V504.2M612.9 493.9V503.8M613.2 493.5V501.7M613.5 494.3V503.9M613.8 495V501.1M614.1 494.4V501.2M614.4 494.6V503.2M614.7 495.3V506M615 496.3V501.7M615.3 494.4V501.7M615.6 493.9V505.4M615.9 495.9V503.2M616.2 495.9V501.8M616.5 494.7V502.1M616.8 495.4V501.2M617.1 495.4V503.7M617.4 494.8V502.9M617.7 495.3V504.3M618 495.2V503M618.3 495V501.9M618.6 495.4V505.4M618.9 495.2V503.5M619.2 495.9V503.9M619.5 495.3V506.9M619.8 495.8V505.6M620.1 495.9V506.3M620.4 495.7V507.2M620.7 495.2V508.9M621 496.4V508.9M621.3 495.5V505.9M621.6 496V503.4M621.9 495.8V505.8M622.2 495.8V509.4M622.5 495.9V503.4M622.8 496.6V509.7M623.1 496.8V504.2M623.4 496.4V509.8M623.7 495.9V509.1M624 497.3V510.6M624.3 496V503.5M624.6 497.3V507.6M624.9 495.6V503.9M625.2 495.8V504.6M625.5 496.4V505.2M625.8 497.2V504.2M626.1 496.4V509.6M626.4 496.6V513.5M626.7 496.7V509.2M627 496.8V505.8M627.3 496.3V511.2M627.6 496.1V511.5M627.9 497.1V510.7M628.2 496.2V513.4M628.5 497.2V504.9M628.8 496V508.3M629.1 496.6V506.7M629.4 497.5V515.2M629.7 496.4V505.5M630 496.5V512.9M630.3 497V514M630.6 497.8V507.6M630.9 496.4V511.1M631.2 494.5V512.1M631.5 496.5V502.9M631.8 496.8V514.1M632.1 496.5V513.7M632.4 497.3V504.6M632.7 497.3V514.7M633 498.5V515.8M633.3 497.2V511.1M633.6 497.4V509.5M633.9 497.1V514.3M634.2 497V510.1M634.5 497.3V506.2M634.8 497.8V515.8M635.1 497.7V514.8M635.4 497.2V510.4M635.7 497V512.8M636 497.3V506.9M636.3 496V510.9M636.6 497.2V508.7M636.9 497.2V505.5M637.2 498.4V512.7M637.5 496.9V508.1M637.8 498.7V507.4M638.1 497V507M638.4 498.1V509.8M638.7 499.1V511.4M639 497.2V508.5M639.3 495.7V507.6M639.6 497.2V505.9M639.9 496.8V512.9M640.2 497.3V515.8M640.5 497.3V515.8M640.8 497.3V507.6M641.1 497.6V508.9M641.4 499.2V507.2M641.7 495.3V513.5M642 498.1V508M642.3 499.1V509.1M642.6 496.6V514.8M642.9 496.2V509M643.2 496.2V506.2M643.5 498.2V515.8M643.8 498V510.6M644.1 498.2V508.7M644.4 498.7V506.7M644.7 498.2V507.5M645 498.3V515.8M645.3 497.7V508.3M645.6 497.8V508.5M645.9 499.3V506.8M646.2 498.1V514.6M646.5 498.4V507.4M646.8 498.9V515.8M647.1 498V515.8M647.4 497.7V510M647.7 499.7V510.3M648 499.3V513.9M648.3 498.7V515.8M648.6 498.6V509M648.9 498.2V508M649.2 499.3V507.9M649.5 498.7V515.8M649.8 498.9V515.8M650.1 498.2V515.8M650.4 498.3V509.9M650.7 500.1V515.8M651 498.8V514.5M651.3 499V509.8M651.6 496.8V509.7M651.9 499.8V509.8M652.2 500.5V515.8M652.5 498.9V515.5M652.8 499.2V515.8M653.1 498.4V513.5M653.4 499.5V511.4M653.7 498.9V510.2M654 498.4V508.5M654.3 499V511.3M654.6 499.5V515.8M654.9 499.6V511.9M655.2 499.6V515.5M655.5 499.1V515.8M655.8 498.5V509.8M656.1 500.3V510.7M656.4 499.8V509.6M656.7 499V511.9M657 499.7V515.8M657.3 499V515.8M657.6 500.6V511.8M657.9 500V515.8M658.2 499.6V512.6M658.5 499.5V511.3M658.8 499.3V515.8M659.1 500.3V515.8M659.4 501.8V515.8M659.7 496.7V515.8M660 499.4V512.9M660.3 500V511.2M660.6 500V510M660.9 499.7V512.2M661.2 498.3V515.8M661.5 499.1V515.8M661.8 500V515.8M662.1 500V515.8M662.4 499.7V515.1M662.7 498.8V515.8M663 500V510.6M663.3 500.8V515.4M663.6 502.1V515.8M663.9 499.9V513.3M664.2 500.5V515.6M664.5 501V515.8M664.8 500.2V510.6M665.1 501.4V510.4M665.4 498.7V511.8M665.7 500.6V508.9M666 500V515.8M666.3 500.5V510.6M666.6 501.9V511.1M666.9 500.5V515.8M667.2 500.2V515.8M667.5 501.4V512.6M667.8 500.3V515.8M668.1 501.9V515.8M668.4 500.4V515.8M668.7 502V515.8M669 502.4V510.1M669.3 500.5V515.8M669.6 500.4V515.8M669.9 500.3V510.9M670.2 500.7V512.5M670.5 500.7V515.8M670.8 501V512.7" stroke="#fd3d43" stroke-width="1.0" fill="none"/>
<rect x="504.5" y="377.6" width="166.79999999999995" height="138.60000000000002" fill="none" stroke="#231f20" stroke-width="1.2"/>
<line x1="504.5" y1="446.9" x2="671.3" y2="446.9" stroke="#3a3a3a" stroke-width="1.2"/>
<line x1="506" y1="516.2" x2="506" y2="518.5" stroke="#231f20" stroke-width="1"/>
<text x="506.4" y="530.5" font-size="10.6" text-anchor="middle" fill="#231f20">0</text>
<line x1="522.5" y1="516.2" x2="522.5" y2="517.4" stroke="#231f20" stroke-width="1"/>
<line x1="538.9" y1="516.2" x2="538.9" y2="518.5" stroke="#231f20" stroke-width="1"/>
<text x="539.3" y="530.5" font-size="10.6" text-anchor="middle" fill="#231f20">2</text>
<line x1="555.4" y1="516.2" x2="555.4" y2="517.4" stroke="#231f20" stroke-width="1"/>
<line x1="571.8" y1="516.2" x2="571.8" y2="518.5" stroke="#231f20" stroke-width="1"/>
<text x="572.2" y="530.5" font-size="10.6" text-anchor="middle" fill="#231f20">4</text>
<line x1="588.2" y1="516.2" x2="588.2" y2="517.4" stroke="#231f20" stroke-width="1"/>
<line x1="604.7" y1="516.2" x2="604.7" y2="518.5" stroke="#231f20" stroke-width="1"/>
<text x="605.1" y="530.5" font-size="10.6" text-anchor="middle" fill="#231f20">6</text>
<line x1="621.1" y1="516.2" x2="621.1" y2="517.4" stroke="#231f20" stroke-width="1"/>
<line x1="637.6" y1="516.2" x2="637.6" y2="518.5" stroke="#231f20" stroke-width="1"/>
<text x="638" y="530.5" font-size="10.6" text-anchor="middle" fill="#231f20">8</text>
<line x1="654" y1="516.2" x2="654" y2="517.4" stroke="#231f20" stroke-width="1"/>
<line x1="670.5" y1="516.2" x2="670.5" y2="518.5" stroke="#231f20" stroke-width="1"/>
<text x="670.9" y="530.5" font-size="10.6" text-anchor="middle" fill="#231f20">10</text>
<line x1="502.7" y1="516.2" x2="504.5" y2="516.2" stroke="#231f20" stroke-width="1"/>
<text x="587.6" y="542.2" font-size="10.6" text-anchor="middle" fill="#231f20">Time (s)</text>
<text x="475.6" y="447.5" font-size="10.6" text-anchor="middle" fill="#231f20" transform="rotate(-90 475.6 447.5)">Intensity (arb.units)</text>
<text x="666.3" y="391.9" font-size="10.6" text-anchor="end" fill="#231f20">Rh6G@2PACz@PVA</text>
<line x1="516.9" y1="438.4" x2="533.5" y2="438.4" stroke="#12a2f6" stroke-width="1.4"/>
<text x="539.8" y="441.8" font-size="10.6" text-anchor="start" fill="#231f20">λ</text>
<text x="545.1" y="445.1" font-size="6.6" text-anchor="start" fill="#231f20">em</text>
<text x="554.1" y="441.8" font-size="10.6" text-anchor="start" fill="#231f20">=444 nm</text>
<text x="600.6" y="441.8" font-size="10.6" text-anchor="start" fill="#231f20">τ=1.15 s</text>
<line x1="516.9" y1="458.6" x2="533.5" y2="458.6" stroke="#fd3d43" stroke-width="1.4"/>
<text x="539.8" y="462.2" font-size="10.6" text-anchor="start" fill="#231f20">λ</text>
<text x="545.1" y="465.5" font-size="6.6" text-anchor="start" fill="#231f20">em</text>
<text x="554.1" y="462.2" font-size="10.6" text-anchor="start" fill="#231f20">=600 nm</text>
<text x="600.6" y="462.2" font-size="10.6" text-anchor="start" fill="#231f20">τ=0.83 s</text>
</svg></body></html>
